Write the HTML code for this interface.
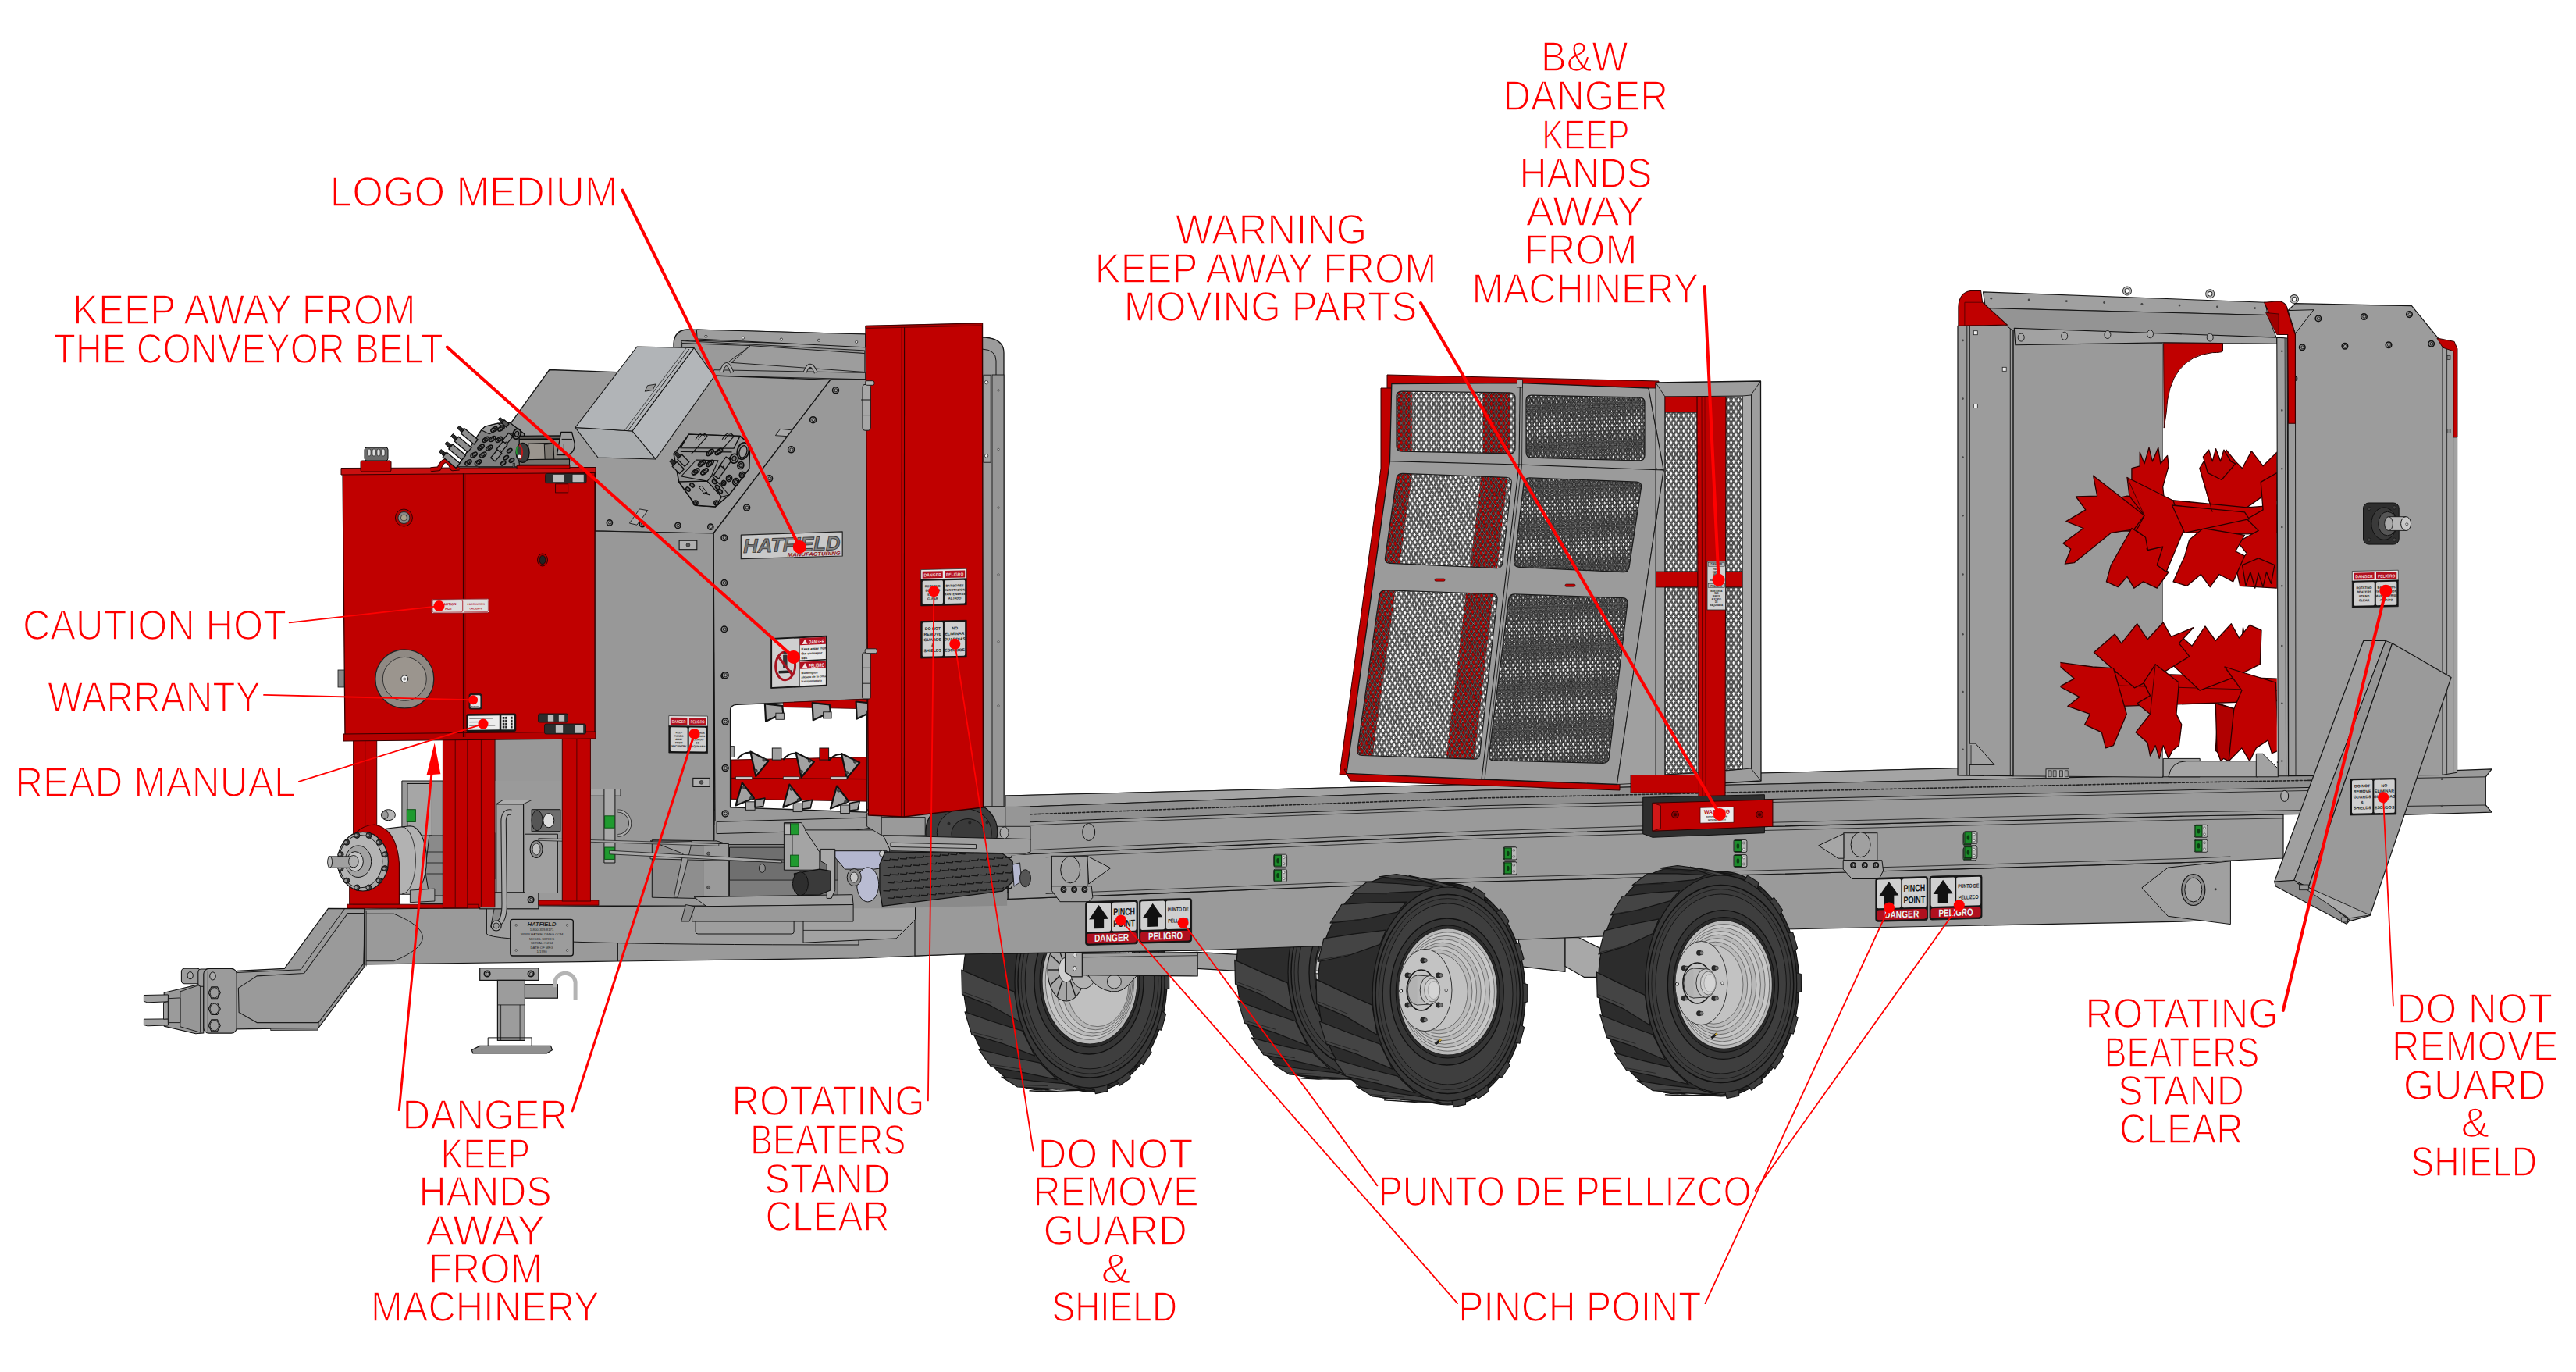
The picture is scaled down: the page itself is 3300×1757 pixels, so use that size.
<!DOCTYPE html>
<html><head><meta charset="utf-8"><title>Decal placement diagram</title>
<style>
html,body{margin:0;padding:0;background:#fff;}
body{width:3300px;height:1757px;overflow:hidden;font-family:"Liberation Sans",sans-serif;}
svg{display:block;font-family:"Liberation Sans",sans-serif;}
</style></head><body>
<svg width="3300" height="1757" viewBox="0 0 3300 1757">
<rect width="3300" height="1757" fill="#ffffff"/>
<g id="chassis_chassis_back"><polygon points="1532.9,1219.4 1655.4,1226.4 1655.4,1247.4 1532.9,1240.4" fill="#9d9d9d" stroke="#141414" stroke-width="1.2" stroke-linejoin="round" />
<polygon points="1655.4,1215.9 1679.9,1215.9 1704.4,1229.9 1704.4,1266.7 1679.9,1266.7 1655.4,1247.4" fill="#a5a5a5" stroke="#141414" stroke-width="1.2" stroke-linejoin="round" />
<polygon points="1945.5,1200.7 2005,1200.7 2005,1244.4 1945.5,1237.4" fill="#a0a0a0" stroke="#141414" stroke-width="1.2" stroke-linejoin="round" />
<polygon points="2005,1200.7 2022.5,1200.7 2054,1216.4 2054,1251.4 2029.5,1251.4 2005,1237.4" fill="#a8a8a8" stroke="#141414" stroke-width="1.2" stroke-linejoin="round" /></g>
<g id="wheels_wheels"><polygon points="1727.16,1108.11 1735.55,1106.53 1744,1106 1752.45,1106.53 1760.84,1108.11 1769.11,1110.74 1777.18,1114.38 1784.99,1119.02 1792.5,1124.62 1799.64,1131.14 1806.35,1138.52 1812.59,1146.71 1818.31,1155.65 1823.46,1165.27 1828,1175.5 1831.91,1186.26 1835.15,1197.46 1837.69,1209.02 1839.53,1220.86 1840.63,1232.89 1841,1245 1840.63,1257.11 1839.53,1269.14 1837.69,1280.98 1835.15,1292.54 1831.91,1303.74 1828,1314.5 1823.46,1324.73 1818.31,1334.35 1812.59,1343.29 1806.35,1351.48 1799.64,1358.86 1792.5,1365.38 1784.99,1370.98 1777.18,1375.62 1769.11,1379.26 1760.84,1381.89 1752.45,1383.47 1744,1384 1735.55,1383.47 1727.16,1381.89 1699.02,1377.87 1690.54,1379.47 1682,1380 1673.46,1379.47 1664.98,1377.87 1656.64,1375.23 1648.48,1371.56 1640.58,1366.88 1633,1361.24 1625.79,1354.68 1619.01,1347.25 1612.7,1338.99 1606.93,1329.99 1601.72,1320.3 1597.13,1310 1593.18,1299.17 1589.91,1287.88 1587.34,1276.23 1585.49,1264.31 1584.37,1252.2 1584,1240 1584.37,1227.8 1585.49,1215.69 1587.34,1203.77 1589.91,1192.12 1593.18,1180.83 1597.13,1170 1601.72,1159.7 1606.93,1150.01 1612.7,1141.01 1619.01,1132.75 1625.79,1125.32 1633,1118.76 1640.58,1113.12 1648.48,1108.44 1656.64,1104.77 1664.98,1102.13 1673.46,1100.53 1682,1100 1690.54,1100.53 1699.02,1102.13" fill="#2c2c2c" stroke="#111" stroke-width="1.2" stroke-linejoin="round" />
<polygon points="1725.15,1368.7 1762.69,1363.17 1804.01,1351.2 1781.22,1371.05 1743.32,1375.63 1704.58,1378.86" fill="#444444" stroke="#141414" stroke-width="1.2" stroke-linejoin="round" />
<polyline points="1722.71,1368.53 1759.52,1361.95" fill="none" stroke="#232323" stroke-width="0.9" stroke-linejoin="round" stroke-linecap="round" />
<polygon points="1688.96,1382.16 1728.35,1380.77 1772.92,1375.5 1746.67,1381.95 1707.14,1382.25 1667.19,1380.94" fill="#444444" stroke="#141414" stroke-width="1.2" stroke-linejoin="round" />
<polyline points="1686.88,1380.83 1726,1378.21" fill="none" stroke="#232323" stroke-width="0.9" stroke-linejoin="round" stroke-linecap="round" />
<polygon points="1651.81,1375.92 1691.89,1379.21 1737.82,1381.71 1711.75,1373.87 1671.76,1369.5 1631.86,1363.5" fill="#444444" stroke="#141414" stroke-width="1.2" stroke-linejoin="round" />
<polyline points="1650.37,1373.61 1690.68,1375.67" fill="none" stroke="#232323" stroke-width="0.9" stroke-linejoin="round" stroke-linecap="round" />
<polygon points="1618.84,1350.84 1658.35,1358.71 1703.57,1368.97 1681.3,1347.93 1642.1,1339.15 1603.48,1328.94" fill="#444444" stroke="#141414" stroke-width="1.2" stroke-linejoin="round" />
<polyline points="1618.25,1347.88 1658.45,1354.67" fill="none" stroke="#232323" stroke-width="0.9" stroke-linejoin="round" stroke-linecap="round" />
<polygon points="1594.62,1310.4 1632.38,1322.1 1674.93,1339.06 1659.54,1307.72 1622.27,1295.41 1585.98,1282.05" fill="#444444" stroke="#141414" stroke-width="1.2" stroke-linejoin="round" />
<polyline points="1594.97,1307.2 1633.78,1318.12" fill="none" stroke="#232323" stroke-width="0.9" stroke-linejoin="round" stroke-linecap="round" />
<polygon points="1582.52,1260.21 1617.59,1274.46 1655.86,1296.11 1649.49,1258.83 1615.01,1244.34 1581.78,1229.34" fill="#444444" stroke="#141414" stroke-width="1.2" stroke-linejoin="round" />
<polyline points="1583.74,1257.2 1620.09,1271.1" fill="none" stroke="#232323" stroke-width="0.9" stroke-linejoin="round" stroke-linecap="round" />
<polygon points="1584.2,1207.21 1619.98,1198.44 1659.39,1182.69 1666.98,1164.8 1628.81,1170.84 1591.48,1178.1" fill="#444444" stroke="#141414" stroke-width="1.2" stroke-linejoin="round" />
<polyline points="1586.13,1204.82 1623.44,1196.79" fill="none" stroke="#232323" stroke-width="0.9" stroke-linejoin="round" stroke-linecap="round" />
<polygon points="1599.43,1158.76 1637.71,1152.89 1681.06,1142.38 1692.65,1129.73 1652.99,1131.82 1613.72,1135.44" fill="#444444" stroke="#141414" stroke-width="1.2" stroke-linejoin="round" />
<polyline points="1601.81,1157.32 1641.24,1152.72" fill="none" stroke="#232323" stroke-width="0.9" stroke-linejoin="round" stroke-linecap="round" />
<polygon points="1626.11,1121.57 1665.87,1119.75 1711.45,1116.29 1725.45,1110.64 1685.49,1108.13 1645.42,1107.28" fill="#444444" stroke="#141414" stroke-width="1.2" stroke-linejoin="round" />
<polyline points="1628.6,1121.27 1668.99,1121.09" fill="none" stroke="#232323" stroke-width="0.9" stroke-linejoin="round" stroke-linecap="round" />
<polygon points="1660.53,1100.79 1700.56,1103.63 1746.35,1108.04 1760.81,1110.16 1721.8,1103.07 1682.19,1097.5" fill="#444444" stroke="#141414" stroke-width="1.2" stroke-linejoin="round" />
<polyline points="1662.79,1101.68 1702.83,1106.29" fill="none" stroke="#232323" stroke-width="0.9" stroke-linejoin="round" stroke-linecap="round" />
<polygon points="1697.93,1099.3 1736.98,1106.75 1780.92,1118.77 1793.85,1128.37 1756.89,1117.32 1718.94,1107.47" fill="#444444" stroke="#141414" stroke-width="1.2" stroke-linejoin="round" />
<polyline points="1699.64,1101.26 1738.08,1110.36" fill="none" stroke="#232323" stroke-width="0.9" stroke-linejoin="round" stroke-linecap="round" />
<polygon points="1772.74,1118.51 1776.8,1110.85 1790.72,1119.45 1789.09,1128.68" fill="#3d3d3d" stroke="#141414" stroke-width="1.1" stroke-linejoin="round" />
<polygon points="1803.78,1143.12 1809.8,1138.07 1820.44,1153.45 1816.27,1161.3" fill="#3d3d3d" stroke="#141414" stroke-width="1.1" stroke-linejoin="round" />
<polygon points="1826.11,1182.56 1833.22,1180.86 1839.03,1200.78 1832.94,1206.11" fill="#3d3d3d" stroke="#141414" stroke-width="1.1" stroke-linejoin="round" />
<polygon points="1836.49,1231.1 1843.64,1232.98 1843.77,1254.54 1836.65,1256.59" fill="#3d3d3d" stroke="#141414" stroke-width="1.1" stroke-linejoin="round" />
<polygon points="1833.4,1281.66 1839.56,1286.86 1833.99,1306.92 1826.86,1305.38" fill="#3d3d3d" stroke="#141414" stroke-width="1.1" stroke-linejoin="round" />
<polygon points="1817.29,1326.88 1821.55,1334.64 1811.1,1350.28 1805.01,1345.38" fill="#3d3d3d" stroke="#141414" stroke-width="1.1" stroke-linejoin="round" />
<polygon points="1793.28,1357.79 1795.29,1366.9 1781.7,1376.52 1777.33,1369.17" fill="#3d3d3d" stroke="#141414" stroke-width="1.1" stroke-linejoin="round" />
<polygon points="1766.5,1374.05 1766.25,1383.44 1751.23,1386.63 1748.87,1377.82" fill="#3d3d3d" stroke="#141414" stroke-width="1.1" stroke-linejoin="round" />
<ellipse cx="1744" cy="1245" rx="94" ry="134" fill="#383838" stroke="#121212" stroke-width="1.2" />
<ellipse cx="1744" cy="1245" rx="90" ry="122" fill="#3b3b3b" stroke="#101010" stroke-width="1.5" />
<ellipse cx="1744" cy="1245" rx="85.95" ry="117.12" fill="none" stroke="#1a1a1a" stroke-width="0.9" />
<ellipse cx="1744" cy="1245" rx="81" ry="111.02" fill="#3e3e3e" stroke="#151515" stroke-width="1" />
<ellipse cx="1746" cy="1246" rx="69" ry="91" fill="#353535" stroke="#101010" stroke-width="1.3" />
<ellipse cx="1747" cy="1246" rx="63" ry="82" fill="#2b2b2b" stroke="#101010" stroke-width="1" />
<ellipse cx="1747" cy="1246" rx="60" ry="78" fill="#b9b9b9" stroke="#222" stroke-width="1.2" />
<ellipse cx="1747" cy="1246" rx="56.4" ry="73.32" fill="#c8c8c8" stroke="#4a4a4a" stroke-width="0.7" />
<ellipse cx="1744.8" cy="1246" rx="53.1" ry="69.03" fill="#bcbcbc" stroke="#4a4a4a" stroke-width="0.7" />
<ellipse cx="1742.6" cy="1246" rx="49.8" ry="64.74" fill="#c6c6c6" stroke="#4a4a4a" stroke-width="0.7" />
<ellipse cx="1740.4" cy="1246" rx="46.5" ry="60.45" fill="#b8b8b8" stroke="#4a4a4a" stroke-width="0.7" />
<ellipse cx="1738.2" cy="1246" rx="43.2" ry="56.16" fill="#c4c4c4" stroke="#4a4a4a" stroke-width="0.7" />
<ellipse cx="1736" cy="1246" rx="39.9" ry="51.87" fill="#bababa" stroke="#4a4a4a" stroke-width="0.7" />
<ellipse cx="1733.8" cy="1246" rx="36.6" ry="47.58" fill="#c2c2c2" stroke="#4a4a4a" stroke-width="0.7" />
<ellipse cx="1718" cy="1244" rx="32.4" ry="50.7" fill="#c3c3c3" stroke="#333" stroke-width="1" />
<circle cx="1715.2" cy="1207.34" r="3.2" fill="#2a2a2a" stroke="#111" stroke-width="0.6" />
<circle cx="1718.2" cy="1207.34" r="2.4" fill="#777" stroke="#1a1a1a" stroke-width="0.7" />
<circle cx="1733.91" cy="1225.67" r="3.2" fill="#2a2a2a" stroke="#111" stroke-width="0.6" />
<circle cx="1736.91" cy="1225.67" r="2.4" fill="#777" stroke="#1a1a1a" stroke-width="0.7" />
<circle cx="1733.91" cy="1262.33" r="3.2" fill="#2a2a2a" stroke="#111" stroke-width="0.6" />
<circle cx="1736.91" cy="1262.33" r="2.4" fill="#777" stroke="#1a1a1a" stroke-width="0.7" />
<circle cx="1715.2" cy="1280.66" r="3.2" fill="#2a2a2a" stroke="#111" stroke-width="0.6" />
<circle cx="1718.2" cy="1280.66" r="2.4" fill="#777" stroke="#1a1a1a" stroke-width="0.7" />
<circle cx="1696.49" cy="1262.33" r="3.2" fill="#2a2a2a" stroke="#111" stroke-width="0.6" />
<circle cx="1699.49" cy="1262.33" r="2.4" fill="#777" stroke="#1a1a1a" stroke-width="0.7" />
<circle cx="1696.49" cy="1225.67" r="3.2" fill="#2a2a2a" stroke="#111" stroke-width="0.6" />
<circle cx="1699.49" cy="1225.67" r="2.4" fill="#777" stroke="#1a1a1a" stroke-width="0.7" />
<ellipse cx="1713" cy="1244" rx="18.5" ry="26" fill="none" stroke="#151515" stroke-width="1.6" />
<ellipse cx="1708" cy="1244" rx="12.5" ry="19" fill="#b2b2b2" stroke="#333" stroke-width="1" />
<rect x="1708" y="1225" width="16" height="38" rx="0" fill="#b8b8b8" stroke="none" stroke-width="0" />
<line x1="1708" y1="1225" x2="1724" y2="1226" stroke="#141414" stroke-width="0.8" />
<line x1="1708" y1="1263" x2="1724" y2="1262" stroke="#141414" stroke-width="0.8" />
<ellipse cx="1724" cy="1244" rx="12.5" ry="18.5" fill="#c4c4c4" stroke="#333" stroke-width="1" />
<ellipse cx="1727" cy="1244" rx="10" ry="15" fill="#cdcdcd" stroke="#555" stroke-width="0.8" />
<ellipse cx="1729" cy="1244" rx="7.5" ry="11.5" fill="#d4d4d4" stroke="#888" stroke-width="0.6" />
<circle cx="1745" cy="1244" r="1.8" fill="#ddd" stroke="#222" stroke-width="0.7" />
<circle cx="1687" cy="1245" r="2" fill="#ddd" stroke="#111" stroke-width="1" />
<line x1="1731" y1="1310.74" x2="1738" y2="1305.28" stroke="#1a1a1a" stroke-width="3.2" />
<line x1="1736" y1="1306.84" x2="1738.5" y2="1304.89" stroke="#c9a227" stroke-width="2" />
<polygon points="1378.81,1116.16 1387.37,1114.54 1396,1114 1404.63,1114.54 1413.19,1116.16 1421.62,1118.84 1429.86,1122.56 1437.84,1127.3 1445.5,1133.02 1452.78,1139.68 1459.64,1147.22 1466,1155.59 1471.84,1164.72 1477.1,1174.55 1481.74,1185 1485.72,1195.99 1489.03,1207.43 1491.63,1219.25 1493.5,1231.34 1494.62,1243.62 1495,1256 1494.62,1268.38 1493.5,1280.66 1491.63,1292.75 1489.03,1304.57 1485.72,1316.01 1481.74,1327 1477.1,1337.45 1471.84,1347.28 1466,1356.41 1459.64,1364.78 1452.78,1372.32 1445.5,1378.98 1437.84,1384.7 1429.86,1389.44 1421.62,1393.16 1413.19,1395.84 1404.63,1397.46 1396,1398 1387.37,1397.46 1378.81,1395.84 1351.36,1393.83 1342.72,1395.46 1334,1396 1325.28,1395.46 1316.64,1393.83 1308.12,1391.13 1299.8,1387.38 1291.74,1382.6 1284,1376.84 1276.64,1370.14 1269.72,1362.54 1263.29,1354.12 1257.4,1344.92 1252.08,1335.02 1247.4,1324.5 1243.37,1313.43 1240.03,1301.91 1237.41,1290.01 1235.52,1277.83 1234.38,1265.46 1234,1253 1234.38,1240.54 1235.52,1228.17 1237.41,1215.99 1240.03,1204.09 1243.37,1192.57 1247.4,1181.5 1252.08,1170.98 1257.4,1161.08 1263.29,1151.88 1269.72,1143.46 1276.64,1135.86 1284,1129.16 1291.74,1123.4 1299.8,1118.62 1308.12,1114.87 1316.64,1112.17 1325.28,1110.54 1334,1110 1342.72,1110.54 1351.36,1112.17" fill="#2c2c2c" stroke="#111" stroke-width="1.2" stroke-linejoin="round" />
<polygon points="1378.01,1384.41 1415.7,1377.75 1457.28,1364.53 1434,1384.81 1395.94,1390.48 1357.03,1394.78" fill="#444444" stroke="#141414" stroke-width="1.2" stroke-linejoin="round" />
<polyline points="1375.53,1384.26 1412.5,1376.56" fill="none" stroke="#232323" stroke-width="0.9" stroke-linejoin="round" stroke-linecap="round" />
<polygon points="1341.1,1398.15 1380.67,1395.73 1425.53,1389.36 1398.73,1395.94 1359.02,1397.24 1318.9,1396.91" fill="#444444" stroke="#141414" stroke-width="1.2" stroke-linejoin="round" />
<polyline points="1338.98,1396.83 1378.28,1393.18" fill="none" stroke="#232323" stroke-width="0.9" stroke-linejoin="round" stroke-linecap="round" />
<polygon points="1303.21,1391.78 1343.46,1394.14 1389.69,1395.7 1363.07,1387.69 1322.92,1384.22 1282.86,1379.1" fill="#444444" stroke="#141414" stroke-width="1.2" stroke-linejoin="round" />
<polyline points="1301.74,1389.45 1342.21,1390.58" fill="none" stroke="#232323" stroke-width="0.9" stroke-linejoin="round" stroke-linecap="round" />
<polygon points="1269.58,1366.17 1309.23,1373.2 1354.72,1382.69 1331.98,1361.18 1292.66,1353.22 1253.91,1343.81" fill="#444444" stroke="#141414" stroke-width="1.2" stroke-linejoin="round" />
<polyline points="1268.96,1363.17 1309.3,1369.12" fill="none" stroke="#232323" stroke-width="0.9" stroke-linejoin="round" stroke-linecap="round" />
<polygon points="1244.88,1324.88 1282.74,1335.8 1325.47,1352.12 1309.76,1320.1 1272.42,1308.54 1236.06,1295.94" fill="#444444" stroke="#141414" stroke-width="1.2" stroke-linejoin="round" />
<polyline points="1245.21,1321.63 1284.12,1331.78" fill="none" stroke="#232323" stroke-width="0.9" stroke-linejoin="round" stroke-linecap="round" />
<polygon points="1232.54,1273.63 1267.64,1287.14 1306,1308.23 1299.5,1270.13 1265.01,1256.37 1231.79,1242.11" fill="#444444" stroke="#141414" stroke-width="1.2" stroke-linejoin="round" />
<polyline points="1233.75,1270.57 1270.14,1283.72" fill="none" stroke="#232323" stroke-width="0.9" stroke-linejoin="round" stroke-linecap="round" />
<polygon points="1234.25,1219.52 1270.08,1209.5 1309.61,1192.33 1317.36,1174.05 1279.09,1181.3 1241.67,1189.8" fill="#444444" stroke="#141414" stroke-width="1.2" stroke-linejoin="round" />
<polyline points="1236.19,1217.07 1273.56,1207.79" fill="none" stroke="#232323" stroke-width="0.9" stroke-linejoin="round" stroke-linecap="round" />
<polygon points="1249.79,1170.05 1288.17,1162.97 1331.74,1151.13 1343.57,1138.21 1303.77,1141.44 1264.36,1146.24" fill="#444444" stroke="#141414" stroke-width="1.2" stroke-linejoin="round" />
<polyline points="1252.19,1168.56 1291.73,1162.75" fill="none" stroke="#232323" stroke-width="0.9" stroke-linejoin="round" stroke-linecap="round" />
<polygon points="1277,1132.08 1316.91,1129.12 1362.76,1124.47 1377.06,1118.7 1336.93,1117.25 1296.69,1117.48" fill="#444444" stroke="#141414" stroke-width="1.2" stroke-linejoin="round" />
<polyline points="1279.52,1131.75 1320.06,1130.43" fill="none" stroke="#232323" stroke-width="0.9" stroke-linejoin="round" stroke-linecap="round" />
<polygon points="1312.1,1110.86 1352.31,1112.66 1398.4,1116.04 1413.17,1118.21 1373.98,1112.08 1334.2,1107.5" fill="#444444" stroke="#141414" stroke-width="1.2" stroke-linejoin="round" />
<polyline points="1314.4,1111.74 1354.61,1115.3" fill="none" stroke="#232323" stroke-width="0.9" stroke-linejoin="round" stroke-linecap="round" />
<polygon points="1350.25,1109.34 1389.47,1115.85 1433.7,1127.01 1446.9,1136.82 1409.78,1126.64 1371.67,1117.68" fill="#444444" stroke="#141414" stroke-width="1.2" stroke-linejoin="round" />
<polyline points="1352,1111.31 1390.61,1119.47" fill="none" stroke="#232323" stroke-width="0.9" stroke-linejoin="round" stroke-linecap="round" />
<polygon points="1425.36,1126.66 1429.45,1119.02 1443.66,1127.8 1442.06,1137.05" fill="#3d3d3d" stroke="#141414" stroke-width="1.1" stroke-linejoin="round" />
<polygon points="1457.06,1151.82 1463.11,1146.81 1473.97,1162.51 1469.83,1170.41" fill="#3d3d3d" stroke="#141414" stroke-width="1.1" stroke-linejoin="round" />
<polygon points="1479.88,1192.15 1487,1190.5 1492.93,1210.84 1486.85,1216.24" fill="#3d3d3d" stroke="#141414" stroke-width="1.1" stroke-linejoin="round" />
<polygon points="1490.48,1241.78 1497.63,1243.73 1497.77,1265.75 1490.64,1267.85" fill="#3d3d3d" stroke="#141414" stroke-width="1.1" stroke-linejoin="round" />
<polygon points="1487.32,1293.49 1493.47,1298.75 1487.79,1319.23 1480.65,1317.74" fill="#3d3d3d" stroke="#141414" stroke-width="1.1" stroke-linejoin="round" />
<polygon points="1470.86,1339.73 1475.11,1347.54 1464.44,1363.51 1458.33,1358.64" fill="#3d3d3d" stroke="#141414" stroke-width="1.1" stroke-linejoin="round" />
<polygon points="1446.34,1371.33 1448.31,1380.48 1434.45,1390.3 1430.04,1382.97" fill="#3d3d3d" stroke="#141414" stroke-width="1.1" stroke-linejoin="round" />
<polygon points="1418.98,1387.96 1418.69,1397.37 1403.37,1400.62 1400.97,1391.81" fill="#3d3d3d" stroke="#141414" stroke-width="1.1" stroke-linejoin="round" />
<ellipse cx="1396" cy="1256" rx="96" ry="137" fill="#383838" stroke="#121212" stroke-width="1.2" />
<ellipse cx="1396" cy="1256" rx="92" ry="124" fill="#3b3b3b" stroke="#101010" stroke-width="1.5" />
<ellipse cx="1396" cy="1256" rx="87.86" ry="119.04" fill="none" stroke="#1a1a1a" stroke-width="0.9" />
<ellipse cx="1396" cy="1256" rx="82.8" ry="112.84" fill="#3e3e3e" stroke="#151515" stroke-width="1" />
<ellipse cx="1395" cy="1256" rx="70" ry="94" fill="#353535" stroke="#101010" stroke-width="1.3" />
<ellipse cx="1396" cy="1256" rx="64" ry="85" fill="#2b2b2b" stroke="#101010" stroke-width="1" />
<ellipse cx="1396" cy="1256" rx="61" ry="81" fill="#b9b9b9" stroke="#222" stroke-width="1.2" />
<ellipse cx="1396" cy="1256" rx="56.73" ry="75.33" fill="#c6c6c6" stroke="#4a4a4a" stroke-width="0.7" />
<ellipse cx="1398.5" cy="1257.5" rx="52.46" ry="69.66" fill="#bababa" stroke="#4a4a4a" stroke-width="0.7" />
<ellipse cx="1401" cy="1259" rx="48.19" ry="63.99" fill="#c4c4c4" stroke="#4a4a4a" stroke-width="0.7" />
<ellipse cx="1403.5" cy="1260.5" rx="43.92" ry="58.32" fill="#b6b6b6" stroke="#4a4a4a" stroke-width="0.7" />
<ellipse cx="1406" cy="1262" rx="39.65" ry="52.65" fill="#c0c0c0" stroke="#4a4a4a" stroke-width="0.7" />
<ellipse cx="1366" cy="1242" rx="24" ry="40" fill="#a6a6a6" stroke="#1a1a1a" stroke-width="1.1" />
<line x1="1375" y1="1242" x2="1389" y2="1242" stroke="#1a1a1a" stroke-width="1.4" />
<line x1="1373.79" y1="1249" x2="1385.92" y2="1261" stroke="#1a1a1a" stroke-width="1.4" />
<line x1="1370.5" y1="1254.12" x2="1377.5" y2="1274.91" stroke="#1a1a1a" stroke-width="1.4" />
<line x1="1366" y1="1256" x2="1366" y2="1280" stroke="#1a1a1a" stroke-width="1.4" />
<line x1="1361.5" y1="1254.12" x2="1354.5" y2="1274.91" stroke="#1a1a1a" stroke-width="1.4" />
<line x1="1358.21" y1="1249" x2="1346.08" y2="1261" stroke="#1a1a1a" stroke-width="1.4" />
<line x1="1357" y1="1242" x2="1343" y2="1242" stroke="#1a1a1a" stroke-width="1.4" />
<line x1="1358.21" y1="1235" x2="1346.08" y2="1223" stroke="#1a1a1a" stroke-width="1.4" />
<line x1="1361.5" y1="1229.88" x2="1354.5" y2="1209.09" stroke="#1a1a1a" stroke-width="1.4" />
<line x1="1366" y1="1228" x2="1366" y2="1204" stroke="#1a1a1a" stroke-width="1.4" />
<line x1="1370.5" y1="1229.88" x2="1377.5" y2="1209.09" stroke="#1a1a1a" stroke-width="1.4" />
<line x1="1373.79" y1="1235" x2="1385.92" y2="1223" stroke="#1a1a1a" stroke-width="1.4" />
<ellipse cx="1366" cy="1242" rx="10" ry="16" fill="#d0d0d0" stroke="#1a1a1a" stroke-width="1" />
<ellipse cx="1388" cy="1246" rx="16" ry="20" fill="#b2b2b2" stroke="#222" stroke-width="1" />
<ellipse cx="1406" cy="1240" rx="20" ry="13" fill="#b8b8b8" stroke="#333" stroke-width="0.9" /></g>
<g id="chassis_chassis"><path d="M1392.5,1246.5 L1458.9,1246.5 L1444.9,1262.2 Q1432.7,1274.5 1415.2,1267.5 Q1401.2,1262.2 1392.5,1246.5 Z" fill="#a8a8a8" stroke="#141414" stroke-width="1" stroke-linejoin="round" />
<ellipse cx="1427.4" cy="1257" rx="9" ry="9" fill="#b4b4b4" stroke="#141414" stroke-width="0.9" />
<polygon points="1386.3,1221.1 1534.2,1219.4 1534.2,1250 1386.3,1248.6" fill="#9e9e9e" stroke="#141414" stroke-width="1.1" stroke-linejoin="round" />
<line x1="1386.3" y1="1225.8" x2="1534.2" y2="1223.7" stroke="#141414" stroke-width="0.8" />
<polygon points="1364.5,1219.4 1386.3,1219.4 1386.3,1250.9 1373.2,1250.9 1364.5,1244.7" fill="#a6a6a6" stroke="#141414" stroke-width="1.1" stroke-linejoin="round" />
<ellipse cx="1376.7" cy="1222.9" rx="2.2" ry="3" fill="#ddd" stroke="#141414" stroke-width="0.8" />
<ellipse cx="1376.7" cy="1240.4" rx="2.2" ry="3" fill="#ddd" stroke="#141414" stroke-width="0.8" />
<polygon points="420.5,1163.3 466.9,1163.6 466.2,1238.8 407.9,1316.3 303.2,1317.8 303.2,1243.3 364.4,1240.3" fill="#9a9a9a" stroke="#141414" stroke-width="1.2" stroke-linejoin="round" />
<polyline points="441.1,1164.3 385,1241.8 303.2,1245.5" fill="none" stroke="#1c1c1c" stroke-width="1" stroke-linejoin="round" stroke-linecap="round" />
<polyline points="445.5,1169.5 389.5,1246.5 329,1249.9 305.4,1265.4 306.1,1296.4 329,1309.6 407.9,1309.6 465.4,1234.4" fill="none" stroke="#1c1c1c" stroke-width="1.1" stroke-linejoin="round" stroke-linecap="round" />
<line x1="445.5" y1="1169.5" x2="466.2" y2="1169.5" stroke="#1c1c1c" stroke-width="1" />
<polyline points="407.9,1309.6 407.9,1316.3" fill="none" stroke="#1c1c1c" stroke-width="0.9" stroke-linejoin="round" stroke-linecap="round" />
<polygon points="346.7,1317 407.2,1316.6 407.2,1319.2 346.7,1319.5" fill="#8c8c8c" stroke="#141414" stroke-width="0.8" stroke-linejoin="round" />
<polygon points="210.2,1271.3 256.7,1260.2 260.8,1262.4 260.8,1322.9 250.8,1323.7 210.2,1314.1" fill="#9a9a9a" stroke="#141414" stroke-width="1.1" stroke-linejoin="round" />
<polygon points="230.9,1269.8 256.7,1261 256.7,1322.2 230.9,1314.8" fill="#979797" stroke="#141414" stroke-width="0.9" stroke-linejoin="round" />
<polygon points="184.4,1274.5 215.4,1273.9 215.4,1282.8 188.9,1283.8 184.4,1282.4" fill="#a2a2a2" stroke="#141414" stroke-width="1" stroke-linejoin="round" />
<polygon points="184.4,1305.2 215.4,1304.9 215.4,1312.9 188.9,1313.8 184.4,1312.6" fill="#a2a2a2" stroke="#141414" stroke-width="1" stroke-linejoin="round" />
<polygon points="209.5,1283.8 215.4,1282.8 215.4,1304.9 209.5,1305.2" fill="#9e9e9e" stroke="#141414" stroke-width="0.9" stroke-linejoin="round" />
<polygon points="215.4,1278.7 230.9,1277.9 230.9,1309.6 215.4,1309.6" fill="#9b9b9b" stroke="#141414" stroke-width="0.9" stroke-linejoin="round" />
<rect x="232.4" y="1240.3" width="24.3" height="19.5" rx="4" fill="#9d9d9d" stroke="#141414" stroke-width="1.1" />
<ellipse cx="243.7" cy="1249.2" rx="3.6" ry="4.6" fill="#a8a8a8" stroke="#141414" stroke-width="1" />
<rect x="253.8" y="1241" width="16.2" height="22.2" rx="4" fill="#9d9d9d" stroke="#141414" stroke-width="1.1" />
<rect x="260.8" y="1240.3" width="42.4" height="82.9" rx="7" fill="#9b9b9b" stroke="#141414" stroke-width="1.2" />
<line x1="266.3" y1="1243.3" x2="266.3" y2="1320.7" stroke="#141414" stroke-width="0.9" />
<ellipse cx="272.5" cy="1249.9" rx="3.8" ry="5" fill="#a8a8a8" stroke="#141414" stroke-width="1" />
<polygon points="282.3,1271.3 278.5,1278.75 270.9,1278.75 267.1,1271.3 270.9,1263.85 278.5,1263.85" fill="#969696" stroke="#141414" stroke-width="1.1" stroke-linejoin="round" />
<ellipse cx="274.7" cy="1271.3" rx="5.6" ry="6.6" fill="#9c9c9c" stroke="#141414" stroke-width="0.9" />
<polygon points="282.3,1291.9 278.5,1299.35 270.9,1299.35 267.1,1291.9 270.9,1284.45 278.5,1284.45" fill="#969696" stroke="#141414" stroke-width="1.1" stroke-linejoin="round" />
<ellipse cx="274.7" cy="1291.9" rx="5.6" ry="6.6" fill="#9c9c9c" stroke="#141414" stroke-width="0.9" />
<polygon points="282.3,1313.3 278.5,1320.75 270.9,1320.75 267.1,1313.3 270.9,1305.85 278.5,1305.85" fill="#969696" stroke="#141414" stroke-width="1.1" stroke-linejoin="round" />
<ellipse cx="274.7" cy="1313.3" rx="5.6" ry="6.6" fill="#9c9c9c" stroke="#141414" stroke-width="0.9" />
<polygon points="467,1164 1100,1158 1230,1156 1540,1150 1540,1216.8 1533,1217 1227,1222 1100,1227 791,1231 467,1235" fill="#9a9a9a" stroke="#141414" stroke-width="1.2" stroke-linejoin="round" />
<polygon points="1172,1156 1715,1135 1900,1129 2365,1117 2800,1104.5 2857,1102 2857,1177.1 2800,1180 2285,1190 1950,1203 1533,1217 1227,1222 1172,1224.2" fill="#9a9a9a" stroke="#141414" stroke-width="1.2" stroke-linejoin="round" />
<path d="M469.1,1170.2 L504.5,1170.2 Q578.3,1200.5 504.5,1230.7 L469.1,1230.7" fill="none" stroke="#1c1c1c" stroke-width="1" stroke-linejoin="round" />
<line x1="469.1" y1="1165.8" x2="469.1" y2="1237.4" stroke="#1c1c1c" stroke-width="0.9" />
<line x1="467.7" y1="1164.5" x2="465.9" y2="1235.1" stroke="#141414" stroke-width="1" />
<line x1="791.4" y1="1161.7" x2="791.4" y2="1230.9" stroke="#141414" stroke-width="1" />
<path d="M623.4,1161.7 L1100,1158.2 L1100,1210 Q630.4,1210 623.4,1196 L623.4,1161.7 Z" fill="#9e9e9e" stroke="#141414" stroke-width="1" stroke-linejoin="round" />
<rect x="891.1" y="1161.7" width="126" height="34.3" rx="3" fill="none" stroke="#141414" stroke-width="1" />
<polygon points="633.9,1159.2 643.7,1162.7 636.7,1190.7 628.7,1187.2" fill="#8a8a8a" stroke="#141414" stroke-width="0.9" stroke-linejoin="round" />
<polygon points="1029,1156.5 1172.5,1156.5 1172.5,1177.4 1148,1201.9 1029,1207.2" fill="#a2a2a2" stroke="#141414" stroke-width="1" stroke-linejoin="round" />
<line x1="1029" y1="1191.4" x2="1155" y2="1191.4" stroke="#141414" stroke-width="0.8" />
<rect x="653.8" y="1177.4" width="80.5" height="46.6" rx="3" fill="#9c9c9c" stroke="#141414" stroke-width="1.4" />
<text x="694.05" y="1185.9" font-size="7.5" fill="#222" text-anchor="middle" font-weight="bold" font-style="italic">HATFIELD</text>
<text x="694.05" y="1192.4" font-size="4.3" fill="#222" text-anchor="middle" font-weight="normal" >1-800-359-8171</text>
<text x="694.05" y="1198" font-size="4.3" fill="#222" text-anchor="middle" font-weight="normal" >WWW.HATFIELDMFG.COM</text>
<text x="694.05" y="1203.6" font-size="4.3" fill="#222" text-anchor="middle" font-weight="normal" >MODEL SERIES</text>
<text x="694.05" y="1209.2" font-size="4.3" fill="#222" text-anchor="middle" font-weight="normal" >SERIAL #1234</text>
<text x="694.05" y="1214.8" font-size="4.3" fill="#222" text-anchor="middle" font-weight="normal" >DATE OF MFG</text>
<text x="694.05" y="1220.4" font-size="4.3" fill="#222" text-anchor="middle" font-weight="normal" >1/1990</text>
<circle cx="661.2" cy="1184.8" r="1.3" fill="#ccc" stroke="#141414" stroke-width="0.6" />
<circle cx="726.6" cy="1184.8" r="1.3" fill="#ccc" stroke="#141414" stroke-width="0.6" />
<circle cx="661.2" cy="1217" r="1.3" fill="#ccc" stroke="#141414" stroke-width="0.6" />
<circle cx="726.6" cy="1217" r="1.3" fill="#ccc" stroke="#141414" stroke-width="0.6" />
<rect x="614.7" y="1239.7" width="75.2" height="15.7" rx="0" fill="#9e9e9e" stroke="#141414" stroke-width="1.2" />
<circle cx="624.1" cy="1247" r="3.8" fill="#8a8a8a" stroke="#111" stroke-width="1.5" /><circle cx="624.5" cy="1247" r="1.9" fill="#a5a5a5" stroke="#1a1a1a" stroke-width="0.9" />
<circle cx="680.1" cy="1247" r="3.8" fill="#8a8a8a" stroke="#111" stroke-width="1.5" /><circle cx="680.5" cy="1247" r="1.9" fill="#a5a5a5" stroke="#1a1a1a" stroke-width="0.9" />
<rect x="672.4" y="1260.7" width="42" height="17.5" rx="0" fill="#9a9a9a" stroke="#141414" stroke-width="1.2" />
<rect x="637.4" y="1255.4" width="35" height="77" rx="0" fill="#9c9c9c" stroke="#141414" stroke-width="1.2" />
<line x1="641.6" y1="1286.9" x2="641.6" y2="1332.4" stroke="#141414" stroke-width="0.8" />
<line x1="666.1" y1="1286.9" x2="666.1" y2="1332.4" stroke="#141414" stroke-width="0.8" />
<line x1="637.4" y1="1286.9" x2="672.4" y2="1286.9" stroke="#141414" stroke-width="0.8" />
<polygon points="625.2,1328.9 681.1,1328.9 681.1,1340.1 625.2,1340.1" fill="none" stroke="#141414" stroke-width="1" stroke-linejoin="round" />
<polygon points="614.7,1339.4 705.6,1339.4 707.4,1344.7 700.4,1348.9 605.9,1348.9 604.2,1344.7" fill="#8f8f8f" stroke="#141414" stroke-width="1.2" stroke-linejoin="round" />
<path d="M710.9,1264.2 L710.9,1257.2 A13.3,13.3 0 0 1 737.1,1257.2 L737.1,1279.9" fill="none" stroke="#b4b4b4" stroke-width="5" stroke-linejoin="round" />
<polygon points="1292,1094.9 1400,1090 1900,1069 2200,1060 2800,1045 2925,1042.9 2925,1099 2857,1102 2800,1104.5 2365,1117 1900,1129 1715,1135 1292,1151.4" fill="#9b9b9b" stroke="#141414" stroke-width="1.2" stroke-linejoin="round" />
<polyline points="1340,1144.5 1715,1130 1900,1124 2365,1112 2800,1099.5 2857,1097" fill="none" stroke="#141414" stroke-width="0.8" stroke-linejoin="round" stroke-linecap="round" />
<polyline points="1340,1097.7 1400,1095 1900,1074 2200,1065 2800,1050 2925,1047.9" fill="none" stroke="#141414" stroke-width="0.8" stroke-linejoin="round" stroke-linecap="round" />
<polygon points="1288,1019 1950,1003 2257,990 2621,981 2979,975.2 2979,1042 2800,1045 2200,1060 1900,1069 1400,1090 1290,1095 1288,1095.1" fill="#9a9a9a" stroke="#141414" stroke-width="1.2" stroke-linejoin="round" />
<polygon points="1288,1019 1950,1003 2257,990 2621,981 2979,975.2 2979,990 2800,992.5 1900,1012 1288,1034" fill="#a4a4a4" stroke="#141414" stroke-width="1" stroke-linejoin="round" />
<polygon points="1288,1034 1900,1012 2800,992.5 2979,990 2979,1008 2800,1011.7 1900,1031.7 1400,1049.7 1288,1054" fill="#8f8f8f" stroke="#141414" stroke-width="1" stroke-linejoin="round" />
<polyline points="1288,1044 1900,1021.9 2800,1002.1 2979,999" fill="none" stroke="#222" stroke-width="1.6" stroke-linejoin="round" stroke-linecap="round" stroke-dasharray="3 2.2"/>
<polyline points="1288,1058 1400,1053.7 1900,1035.7 2800,1015.7 2979,1012" fill="none" stroke="#141414" stroke-width="0.8" stroke-linejoin="round" stroke-linecap="round" />
<polyline points="1288,1090.1 1290,1090 1400,1085 1900,1064 2200,1055 2800,1040 2979,1037" fill="none" stroke="#141414" stroke-width="0.8" stroke-linejoin="round" stroke-linecap="round" />
<ellipse cx="1394.7" cy="1065.5" rx="8" ry="11" fill="#9d9d9d" stroke="#141414" stroke-width="1" />
<ellipse cx="1286.2" cy="1067.2" rx="7" ry="10" fill="#9d9d9d" stroke="#141414" stroke-width="1" />
<ellipse cx="2926.7" cy="1019.4" rx="5" ry="7" fill="#aaa" stroke="#141414" stroke-width="1" />
<polygon points="2743.9,1136.8 2777.3,1111.1 2857.4,1102.8 2857.4,1183.6 2777.3,1173.3" fill="#a0a0a0" stroke="#141414" stroke-width="1" stroke-linejoin="round" />
<ellipse cx="2809.8" cy="1139.5" rx="15" ry="20" fill="#8c8c8c" stroke="#141414" stroke-width="1.2" />
<ellipse cx="2809.8" cy="1139.5" rx="11" ry="15.5" fill="#a4a4a4" stroke="#141414" stroke-width="1" />
<circle cx="2838.2" cy="1138.7" r="1.5" fill="#333" stroke="#141414" stroke-width="0" />
<rect x="1347.4" y="1096.3" width="45.5" height="40.9" rx="0" fill="#a0a0a0" stroke="#141414" stroke-width="1" />
<polygon points="1392.9,1096.3 1422.7,1111.7 1394.7,1132" fill="#a6a6a6" stroke="#141414" stroke-width="1" stroke-linejoin="round" />
<ellipse cx="1371.2" cy="1113.8" rx="12.5" ry="17" fill="#a0a0a0" stroke="#141414" stroke-width="1" />
<polygon points="1347.4,1134.8 1398.2,1134.8 1399.9,1149.5 1394.7,1154.7 1357.9,1154.7 1347.4,1140.7" fill="#a0a0a0" stroke="#141414" stroke-width="1" stroke-linejoin="round" />
<circle cx="1362.5" cy="1139" r="3.2" fill="#8a8a8a" stroke="#111" stroke-width="1.5" /><circle cx="1362.9" cy="1139" r="1.6" fill="#a5a5a5" stroke="#1a1a1a" stroke-width="0.9" />
<circle cx="1376.1" cy="1139" r="3.2" fill="#8a8a8a" stroke="#111" stroke-width="1.5" /><circle cx="1376.5" cy="1139" r="1.6" fill="#a5a5a5" stroke="#1a1a1a" stroke-width="0.9" />
<circle cx="1389.4" cy="1139" r="3.2" fill="#8a8a8a" stroke="#111" stroke-width="1.5" /><circle cx="1389.8" cy="1139" r="1.6" fill="#a5a5a5" stroke="#1a1a1a" stroke-width="0.9" />
<rect x="2361.9" y="1066.7" width="43" height="35" rx="0" fill="#a0a0a0" stroke="#141414" stroke-width="1" />
<polygon points="2361.9,1067.7 2329.7,1082.8 2354.9,1099.2 2361.9,1099.2" fill="#a6a6a6" stroke="#141414" stroke-width="1" stroke-linejoin="round" />
<ellipse cx="2383.6" cy="1081.7" rx="12.5" ry="16" fill="#a0a0a0" stroke="#141414" stroke-width="1" />
<polygon points="2361.2,1101.7 2410.9,1101.7 2412.6,1115 2407.4,1125.5 2372.4,1125.5 2361.2,1113.2" fill="#a0a0a0" stroke="#141414" stroke-width="1" stroke-linejoin="round" />
<circle cx="2374.1" cy="1108" r="3.2" fill="#8a8a8a" stroke="#111" stroke-width="1.5" /><circle cx="2374.5" cy="1108" r="1.6" fill="#a5a5a5" stroke="#1a1a1a" stroke-width="0.9" />
<circle cx="2388.8" cy="1108" r="3.2" fill="#8a8a8a" stroke="#111" stroke-width="1.5" /><circle cx="2389.2" cy="1108" r="1.6" fill="#a5a5a5" stroke="#1a1a1a" stroke-width="0.9" />
<circle cx="2403.2" cy="1108" r="3.2" fill="#8a8a8a" stroke="#111" stroke-width="1.5" /><circle cx="2403.6" cy="1108" r="1.6" fill="#a5a5a5" stroke="#1a1a1a" stroke-width="0.9" />
<rect x="1631.6" y="1094.2" width="17" height="16" rx="2" fill="#b8b8b8" stroke="#141414" stroke-width="0.8" /><rect x="1632.6" y="1095.2" width="9" height="14" rx="0" fill="#1c8c2b" stroke="#062d0b" stroke-width="1" /><ellipse cx="1637.1" cy="1102.2" rx="1.8" ry="3.2" fill="#0c3d12" stroke="none" stroke-width="0" /><circle cx="1644.6" cy="1098.2" r="1.4" fill="#eee" stroke="#141414" stroke-width="0.5" /><circle cx="1644.6" cy="1106.2" r="1.4" fill="#eee" stroke="#141414" stroke-width="0.5" /><rect x="1631.6" y="1113.2" width="17" height="16" rx="2" fill="#b8b8b8" stroke="#141414" stroke-width="0.8" /><rect x="1632.6" y="1114.2" width="9" height="14" rx="0" fill="#1c8c2b" stroke="#062d0b" stroke-width="1" /><ellipse cx="1637.1" cy="1121.2" rx="1.8" ry="3.2" fill="#0c3d12" stroke="none" stroke-width="0" /><circle cx="1644.6" cy="1117.2" r="1.4" fill="#eee" stroke="#141414" stroke-width="0.5" /><circle cx="1644.6" cy="1125.2" r="1.4" fill="#eee" stroke="#141414" stroke-width="0.5" />
<rect x="1925.6" y="1084.8" width="17" height="16" rx="2" fill="#b8b8b8" stroke="#141414" stroke-width="0.8" /><rect x="1926.6" y="1085.8" width="9" height="14" rx="0" fill="#1c8c2b" stroke="#062d0b" stroke-width="1" /><ellipse cx="1931.1" cy="1092.8" rx="1.8" ry="3.2" fill="#0c3d12" stroke="none" stroke-width="0" /><circle cx="1938.6" cy="1088.8" r="1.4" fill="#eee" stroke="#141414" stroke-width="0.5" /><circle cx="1938.6" cy="1096.8" r="1.4" fill="#eee" stroke="#141414" stroke-width="0.5" /><rect x="1925.6" y="1103.8" width="17" height="16" rx="2" fill="#b8b8b8" stroke="#141414" stroke-width="0.8" /><rect x="1926.6" y="1104.8" width="9" height="14" rx="0" fill="#1c8c2b" stroke="#062d0b" stroke-width="1" /><ellipse cx="1931.1" cy="1111.8" rx="1.8" ry="3.2" fill="#0c3d12" stroke="none" stroke-width="0" /><circle cx="1938.6" cy="1107.8" r="1.4" fill="#eee" stroke="#141414" stroke-width="0.5" /><circle cx="1938.6" cy="1115.8" r="1.4" fill="#eee" stroke="#141414" stroke-width="0.5" />
<rect x="1926.3" y="1084.9" width="17" height="16" rx="2" fill="#b8b8b8" stroke="#141414" stroke-width="0.8" /><rect x="1927.3" y="1085.9" width="9" height="14" rx="0" fill="#1c8c2b" stroke="#062d0b" stroke-width="1" /><ellipse cx="1931.8" cy="1092.9" rx="1.8" ry="3.2" fill="#0c3d12" stroke="none" stroke-width="0" /><circle cx="1939.3" cy="1088.9" r="1.4" fill="#eee" stroke="#141414" stroke-width="0.5" /><circle cx="1939.3" cy="1096.9" r="1.4" fill="#eee" stroke="#141414" stroke-width="0.5" /><rect x="1926.3" y="1103.9" width="17" height="16" rx="2" fill="#b8b8b8" stroke="#141414" stroke-width="0.8" /><rect x="1927.3" y="1104.9" width="9" height="14" rx="0" fill="#1c8c2b" stroke="#062d0b" stroke-width="1" /><ellipse cx="1931.8" cy="1111.9" rx="1.8" ry="3.2" fill="#0c3d12" stroke="none" stroke-width="0" /><circle cx="1939.3" cy="1107.9" r="1.4" fill="#eee" stroke="#141414" stroke-width="0.5" /><circle cx="1939.3" cy="1115.9" r="1.4" fill="#eee" stroke="#141414" stroke-width="0.5" />
<rect x="2220.9" y="1075.5" width="17" height="16" rx="2" fill="#b8b8b8" stroke="#141414" stroke-width="0.8" /><rect x="2221.9" y="1076.5" width="9" height="14" rx="0" fill="#1c8c2b" stroke="#062d0b" stroke-width="1" /><ellipse cx="2226.4" cy="1083.5" rx="1.8" ry="3.2" fill="#0c3d12" stroke="none" stroke-width="0" /><circle cx="2233.9" cy="1079.5" r="1.4" fill="#eee" stroke="#141414" stroke-width="0.5" /><circle cx="2233.9" cy="1087.5" r="1.4" fill="#eee" stroke="#141414" stroke-width="0.5" /><rect x="2220.9" y="1094.5" width="17" height="16" rx="2" fill="#b8b8b8" stroke="#141414" stroke-width="0.8" /><rect x="2221.9" y="1095.5" width="9" height="14" rx="0" fill="#1c8c2b" stroke="#062d0b" stroke-width="1" /><ellipse cx="2226.4" cy="1102.5" rx="1.8" ry="3.2" fill="#0c3d12" stroke="none" stroke-width="0" /><circle cx="2233.9" cy="1098.5" r="1.4" fill="#eee" stroke="#141414" stroke-width="0.5" /><circle cx="2233.9" cy="1106.5" r="1.4" fill="#eee" stroke="#141414" stroke-width="0.5" />
<rect x="2514.9" y="1066.7" width="17" height="16" rx="2" fill="#b8b8b8" stroke="#141414" stroke-width="0.8" /><rect x="2515.9" y="1067.7" width="9" height="14" rx="0" fill="#1c8c2b" stroke="#062d0b" stroke-width="1" /><ellipse cx="2520.4" cy="1074.7" rx="1.8" ry="3.2" fill="#0c3d12" stroke="none" stroke-width="0" /><circle cx="2527.9" cy="1070.7" r="1.4" fill="#eee" stroke="#141414" stroke-width="0.5" /><circle cx="2527.9" cy="1078.7" r="1.4" fill="#eee" stroke="#141414" stroke-width="0.5" /><rect x="2514.9" y="1085.7" width="17" height="16" rx="2" fill="#b8b8b8" stroke="#141414" stroke-width="0.8" /><rect x="2515.9" y="1086.7" width="9" height="14" rx="0" fill="#1c8c2b" stroke="#062d0b" stroke-width="1" /><ellipse cx="2520.4" cy="1093.7" rx="1.8" ry="3.2" fill="#0c3d12" stroke="none" stroke-width="0" /><circle cx="2527.9" cy="1089.7" r="1.4" fill="#eee" stroke="#141414" stroke-width="0.5" /><circle cx="2527.9" cy="1097.7" r="1.4" fill="#eee" stroke="#141414" stroke-width="0.5" />
<rect x="2515.9" y="1064.6" width="17" height="16" rx="2" fill="#b8b8b8" stroke="#141414" stroke-width="0.8" /><rect x="2516.9" y="1065.6" width="9" height="14" rx="0" fill="#1c8c2b" stroke="#062d0b" stroke-width="1" /><ellipse cx="2521.4" cy="1072.6" rx="1.8" ry="3.2" fill="#0c3d12" stroke="none" stroke-width="0" /><circle cx="2528.9" cy="1068.6" r="1.4" fill="#eee" stroke="#141414" stroke-width="0.5" /><circle cx="2528.9" cy="1076.6" r="1.4" fill="#eee" stroke="#141414" stroke-width="0.5" /><rect x="2515.9" y="1083.6" width="17" height="16" rx="2" fill="#b8b8b8" stroke="#141414" stroke-width="0.8" /><rect x="2516.9" y="1084.6" width="9" height="14" rx="0" fill="#1c8c2b" stroke="#062d0b" stroke-width="1" /><ellipse cx="2521.4" cy="1091.6" rx="1.8" ry="3.2" fill="#0c3d12" stroke="none" stroke-width="0" /><circle cx="2528.9" cy="1087.6" r="1.4" fill="#eee" stroke="#141414" stroke-width="0.5" /><circle cx="2528.9" cy="1095.6" r="1.4" fill="#eee" stroke="#141414" stroke-width="0.5" />
<rect x="2811" y="1056.3" width="17" height="16" rx="2" fill="#b8b8b8" stroke="#141414" stroke-width="0.8" /><rect x="2812" y="1057.3" width="9" height="14" rx="0" fill="#1c8c2b" stroke="#062d0b" stroke-width="1" /><ellipse cx="2816.5" cy="1064.3" rx="1.8" ry="3.2" fill="#0c3d12" stroke="none" stroke-width="0" /><circle cx="2824" cy="1060.3" r="1.4" fill="#eee" stroke="#141414" stroke-width="0.5" /><circle cx="2824" cy="1068.3" r="1.4" fill="#eee" stroke="#141414" stroke-width="0.5" /><rect x="2811" y="1075.3" width="17" height="16" rx="2" fill="#b8b8b8" stroke="#141414" stroke-width="0.8" /><rect x="2812" y="1076.3" width="9" height="14" rx="0" fill="#1c8c2b" stroke="#062d0b" stroke-width="1" /><ellipse cx="2816.5" cy="1083.3" rx="1.8" ry="3.2" fill="#0c3d12" stroke="none" stroke-width="0" /><circle cx="2824" cy="1079.3" r="1.4" fill="#eee" stroke="#141414" stroke-width="0.5" /><circle cx="2824" cy="1087.3" r="1.4" fill="#eee" stroke="#141414" stroke-width="0.5" /></g>
<g id="wheels_wheels_front"><polygon points="1837.42,1133.16 1846.03,1131.54 1854.7,1131 1863.37,1131.54 1871.98,1133.16 1880.45,1135.84 1888.73,1139.56 1896.75,1144.3 1904.45,1150.02 1911.77,1156.68 1918.66,1164.22 1925.06,1172.59 1930.92,1181.72 1936.21,1191.55 1940.87,1202 1944.88,1212.99 1948.2,1224.43 1950.81,1236.25 1952.69,1248.34 1953.82,1260.62 1954.2,1273 1953.82,1285.38 1952.69,1297.66 1950.81,1309.75 1948.2,1321.57 1944.88,1333.01 1940.87,1344 1936.21,1354.45 1930.92,1364.28 1925.06,1373.41 1918.66,1381.78 1911.77,1389.32 1904.45,1395.98 1896.75,1401.7 1888.73,1406.44 1880.45,1410.16 1871.98,1412.84 1863.37,1414.46 1854.7,1415 1846.03,1414.46 1837.42,1412.84 1806.15,1405.83 1797.46,1407.46 1788.7,1408 1779.94,1407.46 1771.25,1405.83 1762.69,1403.13 1754.33,1399.38 1746.23,1394.6 1738.45,1388.84 1731.06,1382.14 1724.1,1374.54 1717.64,1366.12 1711.71,1356.92 1706.38,1347.02 1701.66,1336.5 1697.62,1325.43 1694.26,1313.91 1691.62,1302.01 1689.73,1289.83 1688.58,1277.46 1688.2,1265 1688.58,1252.54 1689.73,1240.17 1691.62,1227.99 1694.26,1216.09 1697.62,1204.57 1701.66,1193.5 1706.38,1182.98 1711.71,1173.08 1717.64,1163.88 1724.1,1155.46 1731.06,1147.86 1738.45,1141.16 1746.23,1135.4 1754.33,1130.62 1762.69,1126.87 1771.25,1124.17 1779.94,1122.54 1788.7,1122 1797.46,1122.54 1806.15,1124.17" fill="#2c2c2c" stroke="#111" stroke-width="1.2" stroke-linejoin="round" />
<polygon points="1832.92,1396.41 1872.66,1392.25 1916.29,1381.53 1892.9,1401.81 1852.8,1404.98 1811.84,1406.78" fill="#444444" stroke="#141414" stroke-width="1.2" stroke-linejoin="round" />
<polyline points="1830.44,1396.26 1869.45,1391.06" fill="none" stroke="#232323" stroke-width="0.9" stroke-linejoin="round" stroke-linecap="round" />
<polygon points="1795.83,1410.15 1837.44,1410.23 1884.38,1406.36 1857.44,1412.94 1815.69,1411.74 1773.52,1408.91" fill="#444444" stroke="#141414" stroke-width="1.2" stroke-linejoin="round" />
<polyline points="1793.7,1408.83 1835.05,1407.68" fill="none" stroke="#232323" stroke-width="0.9" stroke-linejoin="round" stroke-linecap="round" />
<polygon points="1757.76,1403.78 1800.05,1408.64 1848.35,1412.7 1821.6,1404.69 1779.41,1398.72 1737.31,1391.1" fill="#444444" stroke="#141414" stroke-width="1.2" stroke-linejoin="round" />
<polyline points="1756.28,1401.45 1798.79,1405.08" fill="none" stroke="#232323" stroke-width="0.9" stroke-linejoin="round" stroke-linecap="round" />
<polygon points="1723.97,1378.17 1765.65,1387.7 1813.21,1399.69 1790.35,1378.18 1748.99,1367.72 1708.22,1355.81" fill="#444444" stroke="#141414" stroke-width="1.2" stroke-linejoin="round" />
<polyline points="1723.34,1375.17 1765.72,1383.62" fill="none" stroke="#232323" stroke-width="0.9" stroke-linejoin="round" stroke-linecap="round" />
<polygon points="1699.15,1336.88 1739.02,1350.3 1783.81,1369.12 1768.02,1337.1 1728.65,1323.04 1690.29,1307.94" fill="#444444" stroke="#141414" stroke-width="1.2" stroke-linejoin="round" />
<polyline points="1699.47,1333.63 1740.4,1346.28" fill="none" stroke="#232323" stroke-width="0.9" stroke-linejoin="round" stroke-linecap="round" />
<polygon points="1686.74,1285.63 1723.85,1301.64 1764.24,1325.23 1757.7,1287.13 1721.21,1270.87 1685.99,1254.11" fill="#444444" stroke="#141414" stroke-width="1.2" stroke-linejoin="round" />
<polyline points="1687.96,1282.57 1726.35,1298.22" fill="none" stroke="#232323" stroke-width="0.9" stroke-linejoin="round" stroke-linecap="round" />
<polygon points="1688.46,1231.52 1726.31,1224 1767.87,1209.33 1775.65,1191.05 1735.36,1195.8 1695.92,1201.8" fill="#444444" stroke="#141414" stroke-width="1.2" stroke-linejoin="round" />
<polyline points="1690.41,1229.07 1729.79,1222.29" fill="none" stroke="#232323" stroke-width="0.9" stroke-linejoin="round" stroke-linecap="round" />
<polygon points="1704.08,1182.05 1744.49,1177.47 1790.1,1168.13 1802,1155.21 1760.16,1155.94 1718.72,1158.24" fill="#444444" stroke="#141414" stroke-width="1.2" stroke-linejoin="round" />
<polyline points="1706.48,1180.56 1748.05,1177.25" fill="none" stroke="#232323" stroke-width="0.9" stroke-linejoin="round" stroke-linecap="round" />
<polygon points="1731.42,1144.08 1773.37,1143.62 1821.29,1141.47 1835.66,1135.7 1793.49,1131.75 1751.21,1129.48" fill="#444444" stroke="#141414" stroke-width="1.2" stroke-linejoin="round" />
<polyline points="1733.95,1143.75 1776.53,1144.93" fill="none" stroke="#232323" stroke-width="0.9" stroke-linejoin="round" stroke-linecap="round" />
<polygon points="1766.7,1122.86 1808.94,1127.16 1857.11,1133.04 1871.95,1135.21 1830.72,1126.58 1788.9,1119.5" fill="#444444" stroke="#141414" stroke-width="1.2" stroke-linejoin="round" />
<polyline points="1769,1123.74 1811.26,1129.8" fill="none" stroke="#232323" stroke-width="0.9" stroke-linejoin="round" stroke-linecap="round" />
<polygon points="1805.03,1121.34 1846.29,1130.35 1892.59,1144.01 1905.86,1153.82 1866.71,1141.14 1826.56,1129.68" fill="#444444" stroke="#141414" stroke-width="1.2" stroke-linejoin="round" />
<polyline points="1806.79,1123.31 1847.44,1133.97" fill="none" stroke="#232323" stroke-width="0.9" stroke-linejoin="round" stroke-linecap="round" />
<polygon points="1884.21,1143.66 1888.32,1136.02 1902.59,1144.8 1901,1154.05" fill="#3d3d3d" stroke="#141414" stroke-width="1.1" stroke-linejoin="round" />
<polygon points="1916.09,1168.82 1922.14,1163.81 1933.05,1179.51 1928.92,1187.41" fill="#3d3d3d" stroke="#141414" stroke-width="1.1" stroke-linejoin="round" />
<polygon points="1939.02,1209.15 1946.15,1207.5 1952.1,1227.84 1946.03,1233.24" fill="#3d3d3d" stroke="#141414" stroke-width="1.1" stroke-linejoin="round" />
<polygon points="1949.68,1258.78 1956.83,1260.73 1956.97,1282.75 1949.84,1284.85" fill="#3d3d3d" stroke="#141414" stroke-width="1.1" stroke-linejoin="round" />
<polygon points="1946.5,1310.49 1952.64,1315.75 1946.94,1336.23 1939.79,1334.74" fill="#3d3d3d" stroke="#141414" stroke-width="1.1" stroke-linejoin="round" />
<polygon points="1929.96,1356.73 1934.19,1364.54 1923.48,1380.51 1917.35,1375.64" fill="#3d3d3d" stroke="#141414" stroke-width="1.1" stroke-linejoin="round" />
<polygon points="1905.31,1388.33 1907.27,1397.48 1893.34,1407.3 1888.92,1399.97" fill="#3d3d3d" stroke="#141414" stroke-width="1.1" stroke-linejoin="round" />
<polygon points="1877.8,1404.96 1877.5,1414.37 1862.11,1417.62 1859.7,1408.81" fill="#3d3d3d" stroke="#141414" stroke-width="1.1" stroke-linejoin="round" />
<ellipse cx="1854.7" cy="1273" rx="96.5" ry="137" fill="#383838" stroke="#121212" stroke-width="1.2" />
<ellipse cx="1854.7" cy="1273" rx="92.6" ry="127.5" fill="#3b3b3b" stroke="#101010" stroke-width="1.5" />
<ellipse cx="1854.7" cy="1273" rx="88.433" ry="122.4" fill="none" stroke="#1a1a1a" stroke-width="0.9" />
<ellipse cx="1854.7" cy="1273" rx="83.34" ry="116.025" fill="#3e3e3e" stroke="#151515" stroke-width="1" />
<ellipse cx="1853.7" cy="1270" rx="72.5" ry="94" fill="#353535" stroke="#101010" stroke-width="1.3" />
<ellipse cx="1854.7" cy="1270" rx="66.5" ry="85" fill="#2b2b2b" stroke="#101010" stroke-width="1" />
<ellipse cx="1854.7" cy="1270" rx="63.5" ry="81" fill="#b9b9b9" stroke="#222" stroke-width="1.2" />
<ellipse cx="1854.7" cy="1270" rx="59.69" ry="76.14" fill="#c8c8c8" stroke="#4a4a4a" stroke-width="0.7" />
<ellipse cx="1852.5" cy="1270" rx="56.1975" ry="71.685" fill="#bcbcbc" stroke="#4a4a4a" stroke-width="0.7" />
<ellipse cx="1850.3" cy="1270" rx="52.705" ry="67.23" fill="#c6c6c6" stroke="#4a4a4a" stroke-width="0.7" />
<ellipse cx="1848.1" cy="1270" rx="49.2125" ry="62.775" fill="#b8b8b8" stroke="#4a4a4a" stroke-width="0.7" />
<ellipse cx="1845.9" cy="1270" rx="45.72" ry="58.32" fill="#c4c4c4" stroke="#4a4a4a" stroke-width="0.7" />
<ellipse cx="1843.7" cy="1270" rx="42.2275" ry="53.865" fill="#bababa" stroke="#4a4a4a" stroke-width="0.7" />
<ellipse cx="1841.5" cy="1270" rx="38.735" ry="49.41" fill="#c2c2c2" stroke="#4a4a4a" stroke-width="0.7" />
<ellipse cx="1825.7" cy="1268" rx="34.29" ry="52.65" fill="#c3c3c3" stroke="#333" stroke-width="1" />
<circle cx="1822.9" cy="1229.93" r="3.2" fill="#2a2a2a" stroke="#111" stroke-width="0.6" />
<circle cx="1825.9" cy="1229.93" r="2.4" fill="#777" stroke="#1a1a1a" stroke-width="0.7" />
<circle cx="1842.7" cy="1248.96" r="3.2" fill="#2a2a2a" stroke="#111" stroke-width="0.6" />
<circle cx="1845.7" cy="1248.96" r="2.4" fill="#777" stroke="#1a1a1a" stroke-width="0.7" />
<circle cx="1842.7" cy="1287.04" r="3.2" fill="#2a2a2a" stroke="#111" stroke-width="0.6" />
<circle cx="1845.7" cy="1287.04" r="2.4" fill="#777" stroke="#1a1a1a" stroke-width="0.7" />
<circle cx="1822.9" cy="1306.07" r="3.2" fill="#2a2a2a" stroke="#111" stroke-width="0.6" />
<circle cx="1825.9" cy="1306.07" r="2.4" fill="#777" stroke="#1a1a1a" stroke-width="0.7" />
<circle cx="1803.1" cy="1287.04" r="3.2" fill="#2a2a2a" stroke="#111" stroke-width="0.6" />
<circle cx="1806.1" cy="1287.04" r="2.4" fill="#777" stroke="#1a1a1a" stroke-width="0.7" />
<circle cx="1803.1" cy="1248.96" r="3.2" fill="#2a2a2a" stroke="#111" stroke-width="0.6" />
<circle cx="1806.1" cy="1248.96" r="2.4" fill="#777" stroke="#1a1a1a" stroke-width="0.7" />
<ellipse cx="1820.7" cy="1268" rx="18.5" ry="26" fill="none" stroke="#151515" stroke-width="1.6" />
<ellipse cx="1815.7" cy="1268" rx="12.5" ry="19" fill="#b2b2b2" stroke="#333" stroke-width="1" />
<rect x="1815.7" y="1249" width="16" height="38" rx="0" fill="#b8b8b8" stroke="none" stroke-width="0" />
<line x1="1815.7" y1="1249" x2="1831.7" y2="1250" stroke="#141414" stroke-width="0.8" />
<line x1="1815.7" y1="1287" x2="1831.7" y2="1286" stroke="#141414" stroke-width="0.8" />
<ellipse cx="1831.7" cy="1268" rx="12.5" ry="18.5" fill="#c4c4c4" stroke="#333" stroke-width="1" />
<ellipse cx="1834.7" cy="1268" rx="10" ry="15" fill="#cdcdcd" stroke="#555" stroke-width="0.8" />
<ellipse cx="1836.7" cy="1268" rx="7.5" ry="11.5" fill="#d4d4d4" stroke="#888" stroke-width="0.6" />
<circle cx="1852.7" cy="1268" r="1.8" fill="#ddd" stroke="#222" stroke-width="0.7" />
<circle cx="1794.7" cy="1269" r="2" fill="#ddd" stroke="#111" stroke-width="1" />
<line x1="1838.7" y1="1337.23" x2="1845.7" y2="1331.56" stroke="#1a1a1a" stroke-width="3.2" />
<line x1="1843.7" y1="1333.18" x2="1846.2" y2="1331.15" stroke="#c9a227" stroke-width="2" />
<polygon points="2187.34,1118.19 2195.98,1116.55 2204.7,1116 2213.42,1116.55 2222.06,1118.19 2230.58,1120.91 2238.9,1124.68 2246.96,1129.49 2254.7,1135.29 2262.06,1142.04 2268.98,1149.69 2275.41,1158.18 2281.3,1167.44 2286.62,1177.4 2291.3,1188 2295.33,1199.14 2298.67,1210.75 2301.29,1222.73 2303.18,1234.99 2304.32,1247.45 2304.7,1260 2304.32,1272.55 2303.18,1285.01 2301.29,1297.27 2298.67,1309.25 2295.33,1320.86 2291.3,1332 2286.62,1342.6 2281.3,1352.56 2275.41,1361.82 2268.98,1370.31 2262.06,1377.96 2254.7,1384.71 2246.96,1390.51 2238.9,1395.32 2230.58,1399.09 2222.06,1401.81 2213.42,1403.45 2204.7,1404 2195.98,1403.45 2187.34,1401.81 2166.24,1398.8 2157.5,1400.45 2148.7,1401 2139.9,1400.45 2131.16,1398.8 2122.56,1396.06 2114.16,1392.26 2106.02,1387.41 2098.2,1381.57 2090.77,1374.78 2083.78,1367.08 2077.28,1358.53 2071.33,1349.2 2065.97,1339.17 2061.23,1328.5 2057.16,1317.28 2053.79,1305.59 2051.14,1293.53 2049.23,1281.18 2048.08,1268.64 2047.7,1256 2048.08,1243.36 2049.23,1230.82 2051.14,1218.47 2053.79,1206.41 2057.16,1194.72 2061.23,1183.5 2065.97,1172.83 2071.33,1162.8 2077.28,1153.47 2083.78,1144.92 2090.77,1137.22 2098.2,1130.43 2106.02,1124.59 2114.16,1119.74 2122.56,1115.94 2131.16,1113.2 2139.9,1111.55 2148.7,1111 2157.5,1111.55 2166.24,1113.2" fill="#2c2c2c" stroke="#111" stroke-width="1.2" stroke-linejoin="round" />
<polygon points="2193.14,1389.21 2227.91,1382.98 2266.61,1370.08 2243.1,1390.65 2207.95,1395.88 2171.95,1399.73" fill="#444444" stroke="#141414" stroke-width="1.2" stroke-linejoin="round" />
<polyline points="2190.64,1389.09 2224.69,1381.81" fill="none" stroke="#232323" stroke-width="0.9" stroke-linejoin="round" stroke-linecap="round" />
<polygon points="2155.87,1403.15 2192.52,1401.21 2234.53,1395.26 2207.46,1401.94 2170.66,1402.74 2133.45,1401.89" fill="#444444" stroke="#141414" stroke-width="1.2" stroke-linejoin="round" />
<polyline points="2153.73,1401.82 2190.11,1398.66" fill="none" stroke="#232323" stroke-width="0.9" stroke-linejoin="round" stroke-linecap="round" />
<polygon points="2117.61,1396.69 2154.94,1399.59 2198.32,1401.7 2171.43,1393.57 2134.2,1389.54 2097.06,1383.83" fill="#444444" stroke="#141414" stroke-width="1.2" stroke-linejoin="round" />
<polyline points="2116.12,1394.35 2153.68,1396.03" fill="none" stroke="#232323" stroke-width="0.9" stroke-linejoin="round" stroke-linecap="round" />
<polygon points="2083.65,1370.73 2120.37,1378.36 2162.99,1388.5 2140.02,1366.68 2103.63,1358.11 2067.83,1348.06" fill="#444444" stroke="#141414" stroke-width="1.2" stroke-linejoin="round" />
<polyline points="2083.02,1367.7 2120.43,1374.26" fill="none" stroke="#232323" stroke-width="0.9" stroke-linejoin="round" stroke-linecap="round" />
<polygon points="2058.71,1328.87 2093.61,1340.44 2133.45,1357.49 2117.57,1325.01 2083.19,1312.8 2049.81,1299.53" fill="#444444" stroke="#141414" stroke-width="1.2" stroke-linejoin="round" />
<polyline points="2059.03,1325.58 2094.98,1336.38" fill="none" stroke="#232323" stroke-width="0.9" stroke-linejoin="round" stroke-linecap="round" />
<polygon points="2046.25,1276.92 2078.37,1291.1 2113.77,1312.97 2107.2,1274.33 2075.71,1259.9 2045.49,1244.96" fill="#444444" stroke="#141414" stroke-width="1.2" stroke-linejoin="round" />
<polyline points="2047.46,1273.81 2080.86,1287.64" fill="none" stroke="#232323" stroke-width="0.9" stroke-linejoin="round" stroke-linecap="round" />
<polygon points="2047.98,1222.06 2080.83,1212.37 2117.42,1195.42 2125.25,1176.88 2089.93,1183.78 2055.47,1191.93" fill="#444444" stroke="#141414" stroke-width="1.2" stroke-linejoin="round" />
<polyline points="2049.93,1219.57 2084.32,1210.62" fill="none" stroke="#232323" stroke-width="0.9" stroke-linejoin="round" stroke-linecap="round" />
<polygon points="2063.67,1171.91 2099.1,1165.19 2139.77,1153.64 2151.73,1140.53 2114.85,1143.36 2078.38,1147.77" fill="#444444" stroke="#141414" stroke-width="1.2" stroke-linejoin="round" />
<polyline points="2066.08,1170.38 2102.68,1164.94" fill="none" stroke="#232323" stroke-width="0.9" stroke-linejoin="round" stroke-linecap="round" />
<polygon points="2091.14,1133.41 2128.12,1130.87 2171.12,1126.6 2185.56,1120.73 2148.35,1118.83 2111.03,1118.62" fill="#444444" stroke="#141414" stroke-width="1.2" stroke-linejoin="round" />
<polyline points="2093.68,1133.06 2131.3,1132.16" fill="none" stroke="#232323" stroke-width="0.9" stroke-linejoin="round" stroke-linecap="round" />
<polygon points="2126.59,1111.9 2163.88,1114.17 2207.12,1118.04 2222.04,1120.24 2185.77,1113.59 2148.9,1108.5" fill="#444444" stroke="#141414" stroke-width="1.2" stroke-linejoin="round" />
<polyline points="2128.91,1112.77 2166.21,1116.82" fill="none" stroke="#232323" stroke-width="0.9" stroke-linejoin="round" stroke-linecap="round" />
<polygon points="2165.11,1110.36 2201.41,1117.41 2242.79,1129.16 2256.12,1139.12 2221.93,1128.35 2186.74,1118.82" fill="#444444" stroke="#141414" stroke-width="1.2" stroke-linejoin="round" />
<polyline points="2166.88,1112.34 2202.57,1121.04" fill="none" stroke="#232323" stroke-width="0.9" stroke-linejoin="round" stroke-linecap="round" />
<polygon points="2234.37,1128.75 2238.48,1121.13 2252.82,1130.03 2251.24,1139.3" fill="#3d3d3d" stroke="#141414" stroke-width="1.1" stroke-linejoin="round" />
<polygon points="2266.41,1154.29 2272.47,1149.3 2283.43,1165.22 2279.31,1173.15" fill="#3d3d3d" stroke="#141414" stroke-width="1.1" stroke-linejoin="round" />
<polygon points="2289.46,1195.21 2296.59,1193.6 2302.58,1214.22 2296.51,1219.65" fill="#3d3d3d" stroke="#141414" stroke-width="1.1" stroke-linejoin="round" />
<polygon points="2300.17,1245.58 2307.33,1247.56 2307.47,1269.88 2300.33,1272.03" fill="#3d3d3d" stroke="#141414" stroke-width="1.1" stroke-linejoin="round" />
<polygon points="2296.98,1298.04 2303.12,1303.34 2297.39,1324.1 2290.24,1322.65" fill="#3d3d3d" stroke="#141414" stroke-width="1.1" stroke-linejoin="round" />
<polygon points="2280.35,1344.96 2284.58,1352.8 2273.82,1368.99 2267.68,1364.15" fill="#3d3d3d" stroke="#141414" stroke-width="1.1" stroke-linejoin="round" />
<polygon points="2255.57,1377.03 2257.52,1386.2 2243.53,1396.16 2239.1,1388.83" fill="#3d3d3d" stroke="#141414" stroke-width="1.1" stroke-linejoin="round" />
<polygon points="2227.92,1393.9 2227.61,1403.32 2212.15,1406.62 2209.72,1397.81" fill="#3d3d3d" stroke="#141414" stroke-width="1.1" stroke-linejoin="round" />
<ellipse cx="2204.7" cy="1260" rx="97" ry="139" fill="#383838" stroke="#121212" stroke-width="1.2" />
<ellipse cx="2204.7" cy="1260" rx="93" ry="126.4" fill="#3b3b3b" stroke="#101010" stroke-width="1.5" />
<ellipse cx="2204.7" cy="1260" rx="88.815" ry="121.344" fill="none" stroke="#1a1a1a" stroke-width="0.9" />
<ellipse cx="2204.7" cy="1260" rx="83.7" ry="115.024" fill="#3e3e3e" stroke="#151515" stroke-width="1" />
<ellipse cx="2207.4" cy="1261" rx="71" ry="95.4" fill="#353535" stroke="#101010" stroke-width="1.3" />
<ellipse cx="2208.4" cy="1261" rx="65" ry="86.4" fill="#2b2b2b" stroke="#101010" stroke-width="1" />
<ellipse cx="2208.4" cy="1261" rx="62" ry="82.4" fill="#b9b9b9" stroke="#222" stroke-width="1.2" />
<ellipse cx="2208.4" cy="1261" rx="58.28" ry="77.456" fill="#c8c8c8" stroke="#4a4a4a" stroke-width="0.7" />
<ellipse cx="2206.2" cy="1261" rx="54.87" ry="72.924" fill="#bcbcbc" stroke="#4a4a4a" stroke-width="0.7" />
<ellipse cx="2204" cy="1261" rx="51.46" ry="68.392" fill="#c6c6c6" stroke="#4a4a4a" stroke-width="0.7" />
<ellipse cx="2201.8" cy="1261" rx="48.05" ry="63.86" fill="#b8b8b8" stroke="#4a4a4a" stroke-width="0.7" />
<ellipse cx="2199.6" cy="1261" rx="44.64" ry="59.328" fill="#c4c4c4" stroke="#4a4a4a" stroke-width="0.7" />
<ellipse cx="2197.4" cy="1261" rx="41.23" ry="54.796" fill="#bababa" stroke="#4a4a4a" stroke-width="0.7" />
<ellipse cx="2195.2" cy="1261" rx="37.82" ry="50.264" fill="#c2c2c2" stroke="#4a4a4a" stroke-width="0.7" />
<ellipse cx="2179.4" cy="1259" rx="33.48" ry="53.56" fill="#c3c3c3" stroke="#333" stroke-width="1" />
<circle cx="2176.6" cy="1220.27" r="3.2" fill="#2a2a2a" stroke="#111" stroke-width="0.6" />
<circle cx="2179.6" cy="1220.27" r="2.4" fill="#777" stroke="#1a1a1a" stroke-width="0.7" />
<circle cx="2195.93" cy="1239.64" r="3.2" fill="#2a2a2a" stroke="#111" stroke-width="0.6" />
<circle cx="2198.93" cy="1239.64" r="2.4" fill="#777" stroke="#1a1a1a" stroke-width="0.7" />
<circle cx="2195.93" cy="1278.36" r="3.2" fill="#2a2a2a" stroke="#111" stroke-width="0.6" />
<circle cx="2198.93" cy="1278.36" r="2.4" fill="#777" stroke="#1a1a1a" stroke-width="0.7" />
<circle cx="2176.6" cy="1297.73" r="3.2" fill="#2a2a2a" stroke="#111" stroke-width="0.6" />
<circle cx="2179.6" cy="1297.73" r="2.4" fill="#777" stroke="#1a1a1a" stroke-width="0.7" />
<circle cx="2157.27" cy="1278.36" r="3.2" fill="#2a2a2a" stroke="#111" stroke-width="0.6" />
<circle cx="2160.27" cy="1278.36" r="2.4" fill="#777" stroke="#1a1a1a" stroke-width="0.7" />
<circle cx="2157.27" cy="1239.64" r="3.2" fill="#2a2a2a" stroke="#111" stroke-width="0.6" />
<circle cx="2160.27" cy="1239.64" r="2.4" fill="#777" stroke="#1a1a1a" stroke-width="0.7" />
<ellipse cx="2174.4" cy="1259" rx="18.5" ry="26" fill="none" stroke="#151515" stroke-width="1.6" />
<ellipse cx="2169.4" cy="1259" rx="12.5" ry="19" fill="#b2b2b2" stroke="#333" stroke-width="1" />
<rect x="2169.4" y="1240" width="16" height="38" rx="0" fill="#b8b8b8" stroke="none" stroke-width="0" />
<line x1="2169.4" y1="1240" x2="2185.4" y2="1241" stroke="#141414" stroke-width="0.8" />
<line x1="2169.4" y1="1278" x2="2185.4" y2="1277" stroke="#141414" stroke-width="0.8" />
<ellipse cx="2185.4" cy="1259" rx="12.5" ry="18.5" fill="#c4c4c4" stroke="#333" stroke-width="1" />
<ellipse cx="2188.4" cy="1259" rx="10" ry="15" fill="#cdcdcd" stroke="#555" stroke-width="0.8" />
<ellipse cx="2190.4" cy="1259" rx="7.5" ry="11.5" fill="#d4d4d4" stroke="#888" stroke-width="0.6" />
<circle cx="2206.4" cy="1259" r="1.8" fill="#ddd" stroke="#222" stroke-width="0.7" />
<circle cx="2148.4" cy="1260" r="2" fill="#ddd" stroke="#111" stroke-width="1" />
<line x1="2192.4" y1="1329.39" x2="2199.4" y2="1323.62" stroke="#1a1a1a" stroke-width="3.2" />
<line x1="2197.4" y1="1325.27" x2="2199.9" y2="1323.21" stroke="#c9a227" stroke-width="2" /></g>
<g id="hopper_hopper"><path d="M863,1037 L863,440 Q864,423 880,422 L1262,432 Q1286,434 1286,452 L1286,1037 Z" fill="#9c9c9c" stroke="#141414" stroke-width="1.3" stroke-linejoin="round" />
<path d="M872,1037 L872,446 Q873,436 884,436 L1258,447 Q1276,448 1276,462 L1276,1037" fill="none" stroke="#141414" stroke-width="1" stroke-linejoin="round" />
<polygon points="892.3,422 1108.7,428 1108.7,444.8 893.2,434" fill="#9e9e9e" stroke="#141414" stroke-width="1" stroke-linejoin="round" />
<circle cx="904.4" cy="430.8" r="1.6" fill="#ddd" stroke="#141414" stroke-width="0.7" />
<circle cx="952" cy="432.7" r="1.6" fill="#ddd" stroke="#141414" stroke-width="0.7" />
<circle cx="1000.9" cy="434.5" r="1.6" fill="#ddd" stroke="#141414" stroke-width="0.7" />
<circle cx="1049" cy="435.8" r="1.6" fill="#ddd" stroke="#141414" stroke-width="0.7" />
<circle cx="1097.2" cy="437.9" r="1.6" fill="#ddd" stroke="#141414" stroke-width="0.7" />
<polygon points="872.7,436.4 1107.8,448.9 1107.8,452.6 873.6,439.6" fill="#929292" stroke="#141414" stroke-width="0.9" stroke-linejoin="round" />
<polygon points="873.6,439.6 961.3,442.6 933.3,463.5 914.7,480.2 873.6,456" fill="#9a9a9a" stroke="#141414" stroke-width="0.9" stroke-linejoin="round" />
<polygon points="961.3,442.6 1107.8,452.6 1107.8,476.5 937,464.4" fill="#9d9d9d" stroke="#141414" stroke-width="0.9" stroke-linejoin="round" />
<polygon points="914.7,473.7 1108.7,477.4 1108.7,485.8 913.7,481.2" fill="#989898" stroke="#141414" stroke-width="0.9" stroke-linejoin="round" />
<path d="M924,476.5 Q930.5,456 938,477.4" fill="none" stroke="#222" stroke-width="5" stroke-linejoin="round" />
<path d="M924,476.5 Q930.5,456 938,477.4" fill="none" stroke="#aaa" stroke-width="3" stroke-linejoin="round" />
<path d="M1031.3,476.5 Q1037.8,459.7 1045.3,477.4" fill="none" stroke="#222" stroke-width="5" stroke-linejoin="round" />
<path d="M1031.3,476.5 Q1037.8,459.7 1045.3,477.4" fill="none" stroke="#aaa" stroke-width="3" stroke-linejoin="round" />
<rect x="1259.9" y="480.2" width="9.3" height="112" rx="0" fill="#a2a2a2" stroke="#141414" stroke-width="0.9" />
<circle cx="1263.6" cy="489.6" r="2.2" fill="#eee" stroke="#141414" stroke-width="0.7" />
<circle cx="1263.6" cy="583.8" r="2.2" fill="#eee" stroke="#141414" stroke-width="0.7" />
<rect x="1271" y="480" width="15" height="557" rx="0" fill="#969696" stroke="#141414" stroke-width="0.9" />
<circle cx="1279" cy="499.851" r="1.2" fill="#ddd" stroke="#141414" stroke-width="0.6" />
<circle cx="1279" cy="575.439" r="1.2" fill="#ddd" stroke="#141414" stroke-width="0.6" />
<circle cx="1279" cy="650.093" r="1.2" fill="#ddd" stroke="#141414" stroke-width="0.6" />
<circle cx="1279" cy="735.946" r="1.2" fill="#ddd" stroke="#141414" stroke-width="0.6" />
<circle cx="1279" cy="821.799" r="1.2" fill="#ddd" stroke="#141414" stroke-width="0.6" />
<circle cx="1279" cy="903.919" r="1.2" fill="#ddd" stroke="#141414" stroke-width="0.6" />
<polygon points="703.8,473.5 1064,486.4 913.8,683.4 762.6,680 762.6,602 611,602" fill="#9b9b9b" stroke="#141414" stroke-width="1.3" stroke-linejoin="round" />
<polygon points="762,680 914,683 915,1160 635,1160 635,946 762,946" fill="#989898" stroke="#141414" stroke-width="1.2" stroke-linejoin="round" />
<polygon points="914,683 1064,486 1110,486 1110,1052 916,1056" fill="#999999" stroke="#141414" stroke-width="1.3" stroke-linejoin="round" />
<line x1="914" y1="683" x2="915" y2="1076" stroke="#141414" stroke-width="1.3" />
<circle cx="1070.5" cy="499.8" r="4" fill="#8a8a8a" stroke="#111" stroke-width="1.5" /><circle cx="1070.9" cy="499.8" r="2" fill="#a5a5a5" stroke="#1a1a1a" stroke-width="0.9" />
<circle cx="1041.6" cy="537.7" r="4" fill="#8a8a8a" stroke="#111" stroke-width="1.5" /><circle cx="1042" cy="537.7" r="2" fill="#a5a5a5" stroke="#1a1a1a" stroke-width="0.9" />
<circle cx="1013.6" cy="575.8" r="4" fill="#8a8a8a" stroke="#111" stroke-width="1.5" /><circle cx="1014" cy="575.8" r="2" fill="#a5a5a5" stroke="#1a1a1a" stroke-width="0.9" />
<circle cx="985.6" cy="612.8" r="4" fill="#8a8a8a" stroke="#111" stroke-width="1.5" /><circle cx="986" cy="612.8" r="2" fill="#a5a5a5" stroke="#1a1a1a" stroke-width="0.9" />
<circle cx="956.6" cy="650.1" r="4" fill="#8a8a8a" stroke="#111" stroke-width="1.5" /><circle cx="957" cy="650.1" r="2" fill="#a5a5a5" stroke="#1a1a1a" stroke-width="0.9" />
<circle cx="927.8" cy="688.7" r="3.8" fill="#8a8a8a" stroke="#111" stroke-width="1.5" /><circle cx="928.2" cy="688.7" r="1.9" fill="#a5a5a5" stroke="#1a1a1a" stroke-width="0.9" />
<circle cx="927.8" cy="746.4" r="3.8" fill="#8a8a8a" stroke="#111" stroke-width="1.5" /><circle cx="928.2" cy="746.4" r="1.9" fill="#a5a5a5" stroke="#1a1a1a" stroke-width="0.9" />
<circle cx="927.8" cy="805.9" r="3.8" fill="#8a8a8a" stroke="#111" stroke-width="1.5" /><circle cx="928.2" cy="805.9" r="1.9" fill="#a5a5a5" stroke="#1a1a1a" stroke-width="0.9" />
<circle cx="927.8" cy="865.4" r="3.8" fill="#8a8a8a" stroke="#111" stroke-width="1.5" /><circle cx="928.2" cy="865.4" r="1.9" fill="#a5a5a5" stroke="#1a1a1a" stroke-width="0.9" />
<circle cx="780.9" cy="669.4" r="3.6" fill="#8a8a8a" stroke="#111" stroke-width="1.5" /><circle cx="781.3" cy="669.4" r="1.8" fill="#a5a5a5" stroke="#1a1a1a" stroke-width="0.9" />
<circle cx="822.9" cy="671.2" r="3.6" fill="#8a8a8a" stroke="#111" stroke-width="1.5" /><circle cx="823.3" cy="671.2" r="1.8" fill="#a5a5a5" stroke="#1a1a1a" stroke-width="0.9" />
<circle cx="868.4" cy="672.9" r="3.6" fill="#8a8a8a" stroke="#111" stroke-width="1.5" /><circle cx="868.8" cy="672.9" r="1.8" fill="#a5a5a5" stroke="#1a1a1a" stroke-width="0.9" />
<circle cx="910.3" cy="674.7" r="3.6" fill="#8a8a8a" stroke="#111" stroke-width="1.5" /><circle cx="910.7" cy="674.7" r="1.8" fill="#a5a5a5" stroke="#1a1a1a" stroke-width="0.9" />
<polygon points="999.6,549.3 1014.5,550.8 1008,558.6 993.4,557.7" fill="#a8a8a8" stroke="#141414" stroke-width="0.9" stroke-linejoin="round" />
<polygon points="819.4,651.9 829.9,653.7 815.9,672.2 806.4,670.1" fill="#a8a8a8" stroke="#141414" stroke-width="0.9" stroke-linejoin="round" />
<rect x="870.1" y="692.2" width="22.7" height="11.5" rx="0" fill="#b0b0b0" stroke="#141414" stroke-width="1.1" />
<circle cx="881.45" cy="697.95" r="2.4" fill="#555" stroke="#141414" stroke-width="0.6" />
<rect x="887.8" y="996.4" width="21.5" height="11" rx="0" fill="#b0b0b0" stroke="#141414" stroke-width="1.1" />
<circle cx="898.55" cy="1001.9" r="2.4" fill="#555" stroke="#141414" stroke-width="0.6" />
<polygon points="737,547.5 810,552 840,588 766,586" fill="#a9acae" stroke="#141414" stroke-width="1.1" stroke-linejoin="round" />
<polygon points="889,445.5 915,482 840,588 810,552" fill="#b3b6b9" stroke="#141414" stroke-width="1.1" stroke-linejoin="round" />
<polygon points="816,444 889,445.5 810,552 737,547.5" fill="#b1b4b7" stroke="#141414" stroke-width="1.1" stroke-linejoin="round" />
<line x1="883" y1="447" x2="804" y2="552" stroke="#141414" stroke-width="0.9" />
<line x1="879" y1="446" x2="800" y2="551.5" stroke="#141414" stroke-width="0.7" />
<polygon points="829.5,493.8 840,492 836.2,499.5 826.2,501.2" fill="#999" stroke="#141414" stroke-width="0.9" stroke-linejoin="round" />
<polygon points="868.8,575 882.4,556.2 948,558.4 960.7,568.9 959.8,600.4 934,634 916.5,648.9 891.1,647.2 869.7,617 863.1,581.1" fill="#929292" stroke="#0e0e0e" stroke-width="1.5" stroke-linejoin="round" />
<polygon points="882.4,556.2 948,558.4 940.1,574.1 871.9,573.7" fill="#9d9d9d" stroke="#0e0e0e" stroke-width="1.3" stroke-linejoin="round" />
<line x1="871.9" y1="578.5" x2="937.5" y2="578.9" stroke="#0e0e0e" stroke-width="1.1" />
<path d="M891.1,562.7 Q899,548.7 906,558.8 L885.9,581.1" fill="none" stroke="#0e0e0e" stroke-width="1.2" stroke-linejoin="round" />
<path d="M894.6,562.7 Q899.9,553.1 902.9,558.8" fill="none" stroke="#0e0e0e" stroke-width="1" stroke-linejoin="round" />
<path d="M925.2,562.7 Q933.1,548.7 940.1,558.8 L920,581.1" fill="none" stroke="#0e0e0e" stroke-width="1.2" stroke-linejoin="round" />
<path d="M928.7,562.7 Q934,553.1 937,558.8" fill="none" stroke="#0e0e0e" stroke-width="1" stroke-linejoin="round" />
<ellipse cx="951.9" cy="577.6" rx="7.4" ry="10.9" fill="#8a8a8a" stroke="#0e0e0e" stroke-width="1.8" transform="rotate(15 951.9 577.6)"/>
<ellipse cx="951.9" cy="578.5" rx="4.8" ry="7.9" fill="#9d9d9d" stroke="#0e0e0e" stroke-width="1.3" transform="rotate(15 951.9 578.5)"/>
<polygon points="869.7,617 906,616.1 924.4,636.2 916.5,648.9 891.1,647.2" fill="#979797" stroke="#0e0e0e" stroke-width="1.3" stroke-linejoin="round" />
<polygon points="906,616.1 912.1,609.1 934,634 924.4,636.2" fill="#8c8c8c" stroke="#0e0e0e" stroke-width="1.1" stroke-linejoin="round" />
<polygon points="892,589 920,589.9 911.2,610 906,616.1 872.7,610" fill="#959595" stroke="#0e0e0e" stroke-width="1.1" stroke-linejoin="round" />
<polygon points="877.1,597.4 867.8,588.2 873.7,582.3 882.9,591.6" fill="#909090" stroke="#0e0e0e" stroke-width="1.3" stroke-linejoin="round" /><polygon points="869.2,586.8 864.2,581.8 867.3,578.7 872.3,583.7" fill="#2b2b2b" stroke="#0e0e0e" stroke-width="1" stroke-linejoin="round" /><polygon points="868.3,586.6 867.5,585.8 871.3,581.9 872.2,582.8" fill="#3a3a3a" stroke="#0e0e0e" stroke-width="0.8" stroke-linejoin="round" />
<polygon points="870.5,606.6 861.2,597.3 867.1,591.5 876.4,600.8" fill="#909090" stroke="#0e0e0e" stroke-width="1.3" stroke-linejoin="round" /><polygon points="862.6,596 857.7,591 860.8,587.9 865.7,592.9" fill="#2b2b2b" stroke="#0e0e0e" stroke-width="1" stroke-linejoin="round" /><polygon points="861.8,595.8 860.9,595 864.7,591.1 865.6,592" fill="#3a3a3a" stroke="#0e0e0e" stroke-width="0.8" stroke-linejoin="round" />
<ellipse cx="909.5" cy="579.4" rx="5.4" ry="2.6" fill="#8d8d8d" stroke="#0e0e0e" stroke-width="1.8" transform="rotate(-38 909.5 579.4)"/><ellipse cx="909.5" cy="579.4" rx="2.7" ry="1.3" fill="#777" stroke="#0e0e0e" stroke-width="1.26" transform="rotate(-38 909.5 579.4)"/>
<ellipse cx="920.9" cy="578.5" rx="5.4" ry="2.6" fill="#8d8d8d" stroke="#0e0e0e" stroke-width="1.8" transform="rotate(-38 920.9 578.5)"/><ellipse cx="920.9" cy="578.5" rx="2.7" ry="1.3" fill="#777" stroke="#0e0e0e" stroke-width="1.26" transform="rotate(-38 920.9 578.5)"/>
<ellipse cx="899" cy="593.4" rx="5.4" ry="2.6" fill="#8d8d8d" stroke="#0e0e0e" stroke-width="1.8" transform="rotate(-38 899.0 593.4)"/><ellipse cx="899" cy="593.4" rx="2.7" ry="1.3" fill="#777" stroke="#0e0e0e" stroke-width="1.26" transform="rotate(-38 899.0 593.4)"/>
<ellipse cx="909.5" cy="593.4" rx="5.4" ry="2.6" fill="#8d8d8d" stroke="#0e0e0e" stroke-width="1.8" transform="rotate(-38 909.5 593.4)"/><ellipse cx="909.5" cy="593.4" rx="2.7" ry="1.3" fill="#777" stroke="#0e0e0e" stroke-width="1.26" transform="rotate(-38 909.5 593.4)"/>
<ellipse cx="891.1" cy="603.9" rx="5.4" ry="2.6" fill="#8d8d8d" stroke="#0e0e0e" stroke-width="1.8" transform="rotate(-38 891.1 603.9)"/><ellipse cx="891.1" cy="603.9" rx="2.7" ry="1.3" fill="#777" stroke="#0e0e0e" stroke-width="1.26" transform="rotate(-38 891.1 603.9)"/>
<ellipse cx="902.5" cy="603.9" rx="5.4" ry="2.6" fill="#8d8d8d" stroke="#0e0e0e" stroke-width="1.8" transform="rotate(-38 902.5 603.9)"/><ellipse cx="902.5" cy="603.9" rx="2.7" ry="1.3" fill="#777" stroke="#0e0e0e" stroke-width="1.26" transform="rotate(-38 902.5 603.9)"/>
<polygon points="920.6,598.7 930.1,585 936.9,589.8 927.4,603.4" fill="#929292" stroke="#0e0e0e" stroke-width="1.3" stroke-linejoin="round" /><polygon points="933.5,587.4 933.5,587.4 933.5,587.4 933.5,587.4" fill="#2b2b2b" stroke="#0e0e0e" stroke-width="1" stroke-linejoin="round" /><polygon points="933.5,586.6 934.2,585.6 935,586.2 934.3,587.2" fill="#3a3a3a" stroke="#0e0e0e" stroke-width="0.8" stroke-linejoin="round" />
<polygon points="914.2,608.6 922.8,596.4 929.2,600.9 920.7,613.1" fill="#8a8a8a" stroke="#0e0e0e" stroke-width="1.3" stroke-linejoin="round" /><polygon points="926,598.6 926,598.6 926,598.6 926,598.6" fill="#2b2b2b" stroke="#0e0e0e" stroke-width="1" stroke-linejoin="round" /><polygon points="926,597.8 926.7,596.8 927.5,597.4 926.8,598.4" fill="#3a3a3a" stroke="#0e0e0e" stroke-width="0.8" stroke-linejoin="round" />
<ellipse cx="940.5" cy="587.2" rx="5.2" ry="6" fill="#8a8a8a" stroke="#0e0e0e" stroke-width="1.7" transform="rotate(20 940.5 587.2)"/><ellipse cx="940.5" cy="587.2" rx="2.6" ry="3" fill="#777" stroke="#0e0e0e" stroke-width="1.19" transform="rotate(20 940.5 587.2)"/>
<ellipse cx="948.9" cy="596" rx="3.9" ry="4.5" fill="#8a8a8a" stroke="#0e0e0e" stroke-width="1.7" transform="rotate(20 948.9 596.0)"/><ellipse cx="948.9" cy="596" rx="2" ry="2.3" fill="#777" stroke="#0e0e0e" stroke-width="1.19" transform="rotate(20 948.9 596.0)"/>
<ellipse cx="950.6" cy="608.2" rx="3.3" ry="3.8" fill="#8a8a8a" stroke="#0e0e0e" stroke-width="1.7" transform="rotate(20 950.6 608.2)"/><ellipse cx="950.6" cy="608.2" rx="1.7" ry="1.9" fill="#777" stroke="#0e0e0e" stroke-width="1.19" transform="rotate(20 950.6 608.2)"/>
<ellipse cx="942.7" cy="617" rx="3.9" ry="4.5" fill="#8a8a8a" stroke="#0e0e0e" stroke-width="1.7" transform="rotate(20 942.7 617.0)"/><ellipse cx="942.7" cy="617" rx="2" ry="2.3" fill="#777" stroke="#0e0e0e" stroke-width="1.19" transform="rotate(20 942.7 617.0)"/>
<ellipse cx="934" cy="612.6" rx="3.5" ry="4" fill="#8a8a8a" stroke="#0e0e0e" stroke-width="1.7" transform="rotate(20 934.0 612.6)"/><ellipse cx="934" cy="612.6" rx="1.7" ry="2" fill="#777" stroke="#0e0e0e" stroke-width="1.19" transform="rotate(20 934.0 612.6)"/>
<ellipse cx="927" cy="618.7" rx="2.8" ry="3.2" fill="#8a8a8a" stroke="#0e0e0e" stroke-width="1.7" transform="rotate(20 927.0 618.7)"/><ellipse cx="927" cy="618.7" rx="1.4" ry="1.6" fill="#777" stroke="#0e0e0e" stroke-width="1.19" transform="rotate(20 927.0 618.7)"/>
<ellipse cx="915.2" cy="617" rx="3.1" ry="2.1" fill="#6a6a6a" stroke="#0e0e0e" stroke-width="1.5" transform="rotate(40 915.2 617.0)"/>
<ellipse cx="919.1" cy="624" rx="3.1" ry="2.1" fill="#6a6a6a" stroke="#0e0e0e" stroke-width="1.5" transform="rotate(40 919.1 624.0)"/>
<ellipse cx="922.6" cy="629.2" rx="3.1" ry="2.1" fill="#6a6a6a" stroke="#0e0e0e" stroke-width="1.5" transform="rotate(40 922.6 629.2)"/>
<ellipse cx="886.7" cy="621.4" rx="3.1" ry="2.1" fill="#6a6a6a" stroke="#0e0e0e" stroke-width="1.5" transform="rotate(40 886.7 621.4)"/>
<ellipse cx="881.5" cy="626.6" rx="3.1" ry="2.1" fill="#6a6a6a" stroke="#0e0e0e" stroke-width="1.5" transform="rotate(40 881.5 626.6)"/>
<polygon points="895.5,624 899,622.2 906,631 902.5,632.7" fill="none" stroke="#0e0e0e" stroke-width="1" stroke-linejoin="round" />
<line x1="902.5" y1="631" x2="909.5" y2="633.6" stroke="#0e0e0e" stroke-width="2" />
<ellipse cx="891.1" cy="644.1" rx="3" ry="3" fill="#999" stroke="#0e0e0e" stroke-width="1.5" transform="rotate(0 891.1 644.1)"/><ellipse cx="891.1" cy="644.1" rx="1.5" ry="1.5" fill="#777" stroke="#0e0e0e" stroke-width="1.0499999999999998" transform="rotate(0 891.1 644.1)"/>
<ellipse cx="917.8" cy="644.1" rx="3" ry="3" fill="#999" stroke="#0e0e0e" stroke-width="1.5" transform="rotate(0 917.8 644.1)"/><ellipse cx="917.8" cy="644.1" rx="1.5" ry="1.5" fill="#777" stroke="#0e0e0e" stroke-width="1.0499999999999998" transform="rotate(0 917.8 644.1)"/>
<path d="M935.6,910.1 Q935.6,902.7 943.8,902.4 L1110.6,895.5 L1110.6,1040.1 L935.6,1033.8 Z" fill="#ffffff" stroke="#141414" stroke-width="1.4" stroke-linejoin="round" />
<polygon points="936.8,973.1 1110.6,969.6 1110.6,1026.1 936.8,1023.3" fill="#c00000" stroke="#400" stroke-width="1" stroke-linejoin="round" />
<line x1="936.8" y1="996.4" x2="1110.6" y2="997.6" stroke="#500" stroke-width="1.2" />
<polygon points="1003.3,899.7 1110.6,895 1110.6,907.8 1003.3,905.5" fill="#c00000" stroke="#400" stroke-width="0.8" stroke-linejoin="round" />
<rect x="989.3" y="958" width="11.6" height="15.1" rx="0" fill="#a0a0a0" stroke="#141414" stroke-width="1" />
<rect x="1049.9" y="958" width="11.7" height="15.1" rx="0" fill="#c00000" stroke="#141414" stroke-width="1" />
<polygon points="979.9,901.5 1002.1,903.8 1003.3,913.2 981.1,923.7" fill="#a2a2a2" stroke="#111" stroke-width="2.2" stroke-linejoin="round" />
<rect x="993.9" y="913.2" width="10.5" height="8.1" rx="0" fill="#a8a8a8" stroke="#141414" stroke-width="0.9" />
<polygon points="1040.6,900.1 1062.7,902.4 1063.9,911.8 1041.7,922.3" fill="#a2a2a2" stroke="#111" stroke-width="2.2" stroke-linejoin="round" />
<rect x="1054.6" y="911.8" width="10.5" height="8.1" rx="0" fill="#a8a8a8" stroke="#141414" stroke-width="0.9" />
<polygon points="1096.6,898.5 1118.7,900.8 1119.9,910.1 1097.7,920.6" fill="#a2a2a2" stroke="#111" stroke-width="2.2" stroke-linejoin="round" />
<rect x="1110.6" y="910.1" width="10.4" height="8.2" rx="0" fill="#a8a8a8" stroke="#141414" stroke-width="0.9" />
<polygon points="961.3,962.6 984.6,974.3 968.3,994.1" fill="#a2a2a2" stroke="#111" stroke-width="2.2" stroke-linejoin="round" />
<circle cx="978.8" cy="973.1" r="2" fill="#444" stroke="#141414" stroke-width="0.5" />
<circle cx="968.3" cy="987.1" r="2" fill="#444" stroke="#141414" stroke-width="0.5" />
<path d="M945,972 Q952,962.6 961.3,963.8" fill="none" stroke="#111" stroke-width="2" stroke-linejoin="round" />
<polygon points="1019.6,963.8 1042.9,975.5 1026.6,995.3" fill="#a2a2a2" stroke="#111" stroke-width="2.2" stroke-linejoin="round" />
<circle cx="1037.1" cy="974.3" r="2" fill="#444" stroke="#141414" stroke-width="0.5" />
<circle cx="1026.6" cy="988.3" r="2" fill="#444" stroke="#141414" stroke-width="0.5" />
<path d="M1003.3,973.1 Q1010.3,963.8 1019.6,965" fill="none" stroke="#111" stroke-width="2" stroke-linejoin="round" />
<polygon points="1077.9,965 1101.2,976.6 1084.9,996.4" fill="#a2a2a2" stroke="#111" stroke-width="2.2" stroke-linejoin="round" />
<circle cx="1095.4" cy="975.5" r="2" fill="#444" stroke="#141414" stroke-width="0.5" />
<circle cx="1084.9" cy="989.4" r="2" fill="#444" stroke="#141414" stroke-width="0.5" />
<path d="M1061.6,974.3 Q1068.6,965 1077.9,966.1" fill="none" stroke="#111" stroke-width="2" stroke-linejoin="round" />
<polygon points="950.8,1002.3 965.9,1022.1 942.6,1031.4" fill="#a2a2a2" stroke="#111" stroke-width="2.2" stroke-linejoin="round" />
<circle cx="953.1" cy="1008.1" r="2" fill="#444" stroke="#141414" stroke-width="0.5" />
<circle cx="962.4" cy="1022.1" r="2" fill="#444" stroke="#141414" stroke-width="0.5" />
<rect x="955.5" y="1026.8" width="11.6" height="10.5" rx="0" fill="#a6a6a6" stroke="#141414" stroke-width="0.9" />
<polygon points="967.1,1024.4 979.9,1022.1 977.6,1032.6 967.1,1033.8" fill="#a2a2a2" stroke="#111" stroke-width="1.6" stroke-linejoin="round" />
<polygon points="1011.4,1004.6 1026.6,1024.4 1003.3,1033.8" fill="#a2a2a2" stroke="#111" stroke-width="2.2" stroke-linejoin="round" />
<circle cx="1013.8" cy="1010.4" r="2" fill="#444" stroke="#141414" stroke-width="0.5" />
<circle cx="1023.1" cy="1024.4" r="2" fill="#444" stroke="#141414" stroke-width="0.5" />
<rect x="1016.1" y="1029.1" width="11.7" height="10.5" rx="0" fill="#a6a6a6" stroke="#141414" stroke-width="0.9" />
<polygon points="1027.8,1026.8 1040.6,1024.4 1038.3,1034.9 1027.8,1036.1" fill="#a2a2a2" stroke="#111" stroke-width="1.6" stroke-linejoin="round" />
<polygon points="1072.1,1006.5 1087.2,1026.3 1063.9,1035.6" fill="#a2a2a2" stroke="#111" stroke-width="2.2" stroke-linejoin="round" />
<circle cx="1074.4" cy="1012.3" r="2" fill="#444" stroke="#141414" stroke-width="0.5" />
<circle cx="1083.7" cy="1026.3" r="2" fill="#444" stroke="#141414" stroke-width="0.5" />
<rect x="1076.7" y="1031" width="11.7" height="10.5" rx="0" fill="#a6a6a6" stroke="#141414" stroke-width="0.9" />
<polygon points="1088.4,1028.6 1101.2,1026.3 1098.9,1036.8 1088.4,1038" fill="#a2a2a2" stroke="#111" stroke-width="1.6" stroke-linejoin="round" />
<rect x="942.6" y="994.8" width="21" height="3.3" rx="0" fill="#ccc" stroke="#141414" stroke-width="0.6" />
<rect x="1003.3" y="994.8" width="21" height="3.3" rx="0" fill="#ccc" stroke="#141414" stroke-width="0.6" />
<rect x="1063.9" y="994.8" width="21" height="3.3" rx="0" fill="#ccc" stroke="#141414" stroke-width="0.6" />
<rect x="935.6" y="955.6" width="4.7" height="14" rx="0" fill="#a6a6a6" stroke="#141414" stroke-width="0.8" />
<circle cx="929.1" cy="864.7" r="4" fill="#8a8a8a" stroke="#111" stroke-width="1.5" /><circle cx="929.5" cy="864.7" r="2" fill="#a5a5a5" stroke="#1a1a1a" stroke-width="0.9" />
<circle cx="929.1" cy="924.1" r="4" fill="#8a8a8a" stroke="#111" stroke-width="1.5" /><circle cx="929.5" cy="924.1" r="2" fill="#a5a5a5" stroke="#1a1a1a" stroke-width="0.9" />
<circle cx="929.1" cy="983.6" r="4" fill="#8a8a8a" stroke="#111" stroke-width="1.5" /><circle cx="929.5" cy="983.6" r="2" fill="#a5a5a5" stroke="#1a1a1a" stroke-width="0.9" />
<circle cx="929.1" cy="1041.9" r="4" fill="#8a8a8a" stroke="#111" stroke-width="1.5" /><circle cx="929.5" cy="1041.9" r="2" fill="#a5a5a5" stroke="#1a1a1a" stroke-width="0.9" />
<polygon points="915.8,1051.3 1129.2,1045.4 1287.8,1032.6 1320,1032.6 1320,1093.2 1297.1,1095.6 1143.2,1163.2 915.8,1163.2" fill="#969696" stroke="none" stroke-width="0" stroke-linejoin="round" />
<polygon points="1129.2,1128.2 1290.1,1128.2 1290.1,1159.7 1129.2,1163.2" fill="#8a8a8a" stroke="none" stroke-width="0" stroke-linejoin="round" />
<polygon points="918.1,1052.4 1129.2,1046.6 1129.2,1058.3 1096.6,1062.9 918.1,1067.6" fill="#9b9b9b" stroke="#141414" stroke-width="1" stroke-linejoin="round" />
<polygon points="835.3,1075.7 918.1,1076.9 933.3,1081.6 1073.2,1081.6 1073.2,1149.2 889,1150.4 835.3,1149.2" fill="#8e8e8e" stroke="#141414" stroke-width="1" stroke-linejoin="round" />
<polygon points="934.5,1085.1 1073.2,1085.1 1073.2,1148 934.5,1148" fill="#6f6f6f" stroke="#141414" stroke-width="1" stroke-linejoin="round" />
<polygon points="934.5,1127.1 1073.2,1127.1 1073.2,1148 934.5,1148" fill="#7c7c7c" stroke="#141414" stroke-width="0.8" stroke-linejoin="round" />
<ellipse cx="976.4" cy="1111.9" rx="4" ry="5.5" fill="#8a8a8a" stroke="#141414" stroke-width="0.9" />
<polygon points="900.6,1080.4 933.3,1080.4 933.3,1151.5 900.6,1151.5" fill="#9a9a9a" stroke="#141414" stroke-width="1" stroke-linejoin="round" />
<circle cx="907.6" cy="1093.2" r="2" fill="#666" stroke="#141414" stroke-width="0.6" />
<circle cx="907.6" cy="1136.4" r="2" fill="#666" stroke="#141414" stroke-width="0.6" />
<polygon points="833,1096.7 1017.3,1101.4 1017.3,1104.4 833,1099.8" fill="#a5a5a5" stroke="#141414" stroke-width="0.9" stroke-linejoin="round" />
<polygon points="833,1076.9 886.6,1077.4 877.3,1116.6 868,1149.2 863.3,1149.2 875,1093.2" fill="#9c9c9c" stroke="#141414" stroke-width="0.9" stroke-linejoin="round" />
<polygon points="889,1148.7 1091.9,1145.7 1093.1,1158.5 905.3,1160.9" fill="#a0a0a0" stroke="#141414" stroke-width="1" stroke-linejoin="round" />
<polygon points="886.6,1160.9 1093.1,1158.5 1093.1,1180 886.6,1180" fill="#999" stroke="#141414" stroke-width="1" stroke-linejoin="round" />
<polygon points="878.5,1158.5 890.1,1160.9 883.1,1180 872.7,1180" fill="#8c8c8c" stroke="#141414" stroke-width="0.9" stroke-linejoin="round" />
<polygon points="1004.4,1053.6 1026.6,1053.6 1049.9,1090.9 1049.9,1114.2 1004.4,1114.2" fill="#a4a4a4" stroke="#141414" stroke-width="1" stroke-linejoin="round" />
<rect x="1012.6" y="1054.8" width="10.5" height="13.9" rx="0" fill="#1f9a2f" stroke="#0a4d12" stroke-width="0.9" />
<rect x="1012.6" y="1095.1" width="10.5" height="14.5" rx="0" fill="#1f9a2f" stroke="#0a4d12" stroke-width="0.9" />
<rect x="1004.4" y="1054.8" width="8.2" height="13.9" rx="0" fill="#b5b5b5" stroke="#141414" stroke-width="0.8" />
<line x1="1014.9" y1="1068.7" x2="1014.9" y2="1095.1" stroke="#141414" stroke-width="1" />
<polygon points="1031.3,1062.9 1126.9,1062.9 1139.7,1083.9 1139.7,1095.6 1049.9,1090.9" fill="#a0a0a0" stroke="#141414" stroke-width="1" stroke-linejoin="round" />
<polygon points="1069.7,1089.7 1136.2,1089.7 1136.2,1110.7 1119.9,1113.1 1082.6,1113.1 1069.7,1097.9" fill="#b4b7cf" stroke="#141414" stroke-width="1" stroke-linejoin="round" />
<circle cx="1130.4" cy="1093.2" r="4" fill="#ccc" stroke="#141414" stroke-width="0.8" />
<circle cx="1058.1" cy="1093.2" r="4" fill="#ccc" stroke="#141414" stroke-width="0.8" />
<polygon points="1051.1,1087.4 1069.7,1087.4 1069.7,1139.9 1065.1,1150.4 1059.2,1150.4 1059.2,1107.2 1051.1,1102.6" fill="#a8a8a8" stroke="#141414" stroke-width="1" stroke-linejoin="round" />
<ellipse cx="1111.7" cy="1132.9" rx="14" ry="22" fill="#b9bcd2" stroke="#141414" stroke-width="1" />
<ellipse cx="1094.2" cy="1123.6" rx="9" ry="11" fill="#8a8a8a" stroke="#141414" stroke-width="1" />
<ellipse cx="1094.2" cy="1123.6" rx="5" ry="6.5" fill="#c5c5c5" stroke="#141414" stroke-width="0.8" />
<polygon points="1017.3,1118.9 1049.9,1113.1 1063.9,1115.4 1063.9,1139.9 1049.9,1145.7 1021.9,1146.4" fill="#3a3a3a" stroke="#111" stroke-width="1.1" stroke-linejoin="round" />
<ellipse cx="1025.4" cy="1131.7" rx="10" ry="15" fill="#2e2e2e" stroke="#111" stroke-width="1" />
<polygon points="1133.9,1090.9 1284.3,1093.2 1297.1,1102.6 1298.3,1128.2 1284.3,1141 1130.4,1160.4 1126.9,1139.9 1126.9,1107.2" fill="#4a4a4a" stroke="#111" stroke-width="1.3" stroke-linejoin="round" />
<path d="M1131.5,1101.4 L1139.5,1101.9 L1140.9,1099.3 M1142.3,1100.5 L1150.2,1101 L1151.6,1098.4 M1153,1099.6 L1160.9,1100 L1162.3,1097.5 M1163.7,1098.7 L1171.7,1099.1 L1173.1,1096.6 M1174.5,1097.8 L1182.4,1098.2 L1183.8,1095.7 M1185.2,1096.8 L1193.1,1097.3 L1194.5,1094.7 M1195.9,1095.9 L1203.8,1096.4 L1205.2,1093.8 M1206.6,1095 L1214.6,1095.5 L1216,1092.9 M1217.4,1094.1 L1225.3,1094.6 L1226.7,1092 M1228.1,1093.2 L1236,1093.7 L1237.4,1091.1 M1238.8,1092.3 L1246.8,1092.7 L1248.2,1090.2 M1249.6,1091.4 L1257.5,1091.8 L1258.9,1089.3 M1260.3,1090.5 L1268.2,1090.9 L1269.6,1088.4 M1271,1089.5 L1279,1090 L1280.3,1087.4 M1281.7,1088.6 L1289.7,1089.1 L1291.1,1086.5" fill="none" stroke="#151515" stroke-width="1.3"/>
<path d="M1136.9,1110.7 L1144.8,1111.2 L1146.2,1108.6 M1147.6,1109.8 L1155.6,1110.3 L1157,1107.7 M1158.4,1108.9 L1166.3,1109.4 L1167.7,1106.8 M1169.1,1108 L1177,1108.5 L1178.4,1105.9 M1179.8,1107.1 L1187.8,1107.6 L1189.2,1105 M1190.6,1106.2 L1198.5,1106.6 L1199.9,1104.1 M1201.3,1105.3 L1209.2,1105.7 L1210.6,1103.2 M1212,1104.4 L1219.9,1104.8 L1221.3,1102.3 M1222.7,1103.4 L1230.7,1103.9 L1232.1,1101.3 M1233.5,1102.5 L1241.4,1103 L1242.8,1100.4 M1244.2,1101.6 L1252.1,1102.1 L1253.5,1099.5 M1254.9,1100.7 L1262.9,1101.2 L1264.3,1098.6 M1265.7,1099.8 L1273.6,1100.3 L1275,1097.7 M1276.4,1098.9 L1284.3,1099.4 L1285.7,1096.8 M1287.1,1098 L1295,1098.4 L1296.4,1095.9" fill="none" stroke="#151515" stroke-width="1.3"/>
<path d="M1131.5,1121 L1139.5,1121.5 L1140.9,1118.9 M1142.3,1120.1 L1150.2,1120.5 L1151.6,1118 M1153,1119.2 L1160.9,1119.6 L1162.3,1117.1 M1163.7,1118.3 L1171.7,1118.7 L1173.1,1116.2 M1174.5,1117.3 L1182.4,1117.8 L1183.8,1115.2 M1185.2,1116.4 L1193.1,1116.9 L1194.5,1114.3 M1195.9,1115.5 L1203.8,1116 L1205.2,1113.4 M1206.6,1114.6 L1214.6,1115.1 L1216,1112.5 M1217.4,1113.7 L1225.3,1114.2 L1226.7,1111.6 M1228.1,1112.8 L1236,1113.3 L1237.4,1110.7 M1238.8,1111.9 L1246.8,1112.3 L1248.2,1109.8 M1249.6,1111 L1257.5,1111.4 L1258.9,1108.9 M1260.3,1110 L1268.2,1110.5 L1269.6,1107.9 M1271,1109.1 L1279,1109.6 L1280.3,1107 M1281.7,1108.2 L1289.7,1108.7 L1291.1,1106.1" fill="none" stroke="#151515" stroke-width="1.3"/>
<path d="M1136.9,1130.3 L1144.8,1130.8 L1146.2,1128.2 M1147.6,1129.4 L1155.6,1129.9 L1157,1127.3 M1158.4,1128.5 L1166.3,1129 L1167.7,1126.4 M1169.1,1127.6 L1177,1128.1 L1178.4,1125.5 M1179.8,1126.7 L1187.8,1127.1 L1189.2,1124.6 M1190.6,1125.8 L1198.5,1126.2 L1199.9,1123.7 M1201.3,1124.9 L1209.2,1125.3 L1210.6,1122.8 M1212,1123.9 L1219.9,1124.4 L1221.3,1121.8 M1222.7,1123 L1230.7,1123.5 L1232.1,1120.9 M1233.5,1122.1 L1241.4,1122.6 L1242.8,1120 M1244.2,1121.2 L1252.1,1121.7 L1253.5,1119.1 M1254.9,1120.3 L1262.9,1120.8 L1264.3,1118.2 M1265.7,1119.4 L1273.6,1119.9 L1275,1117.3 M1276.4,1118.5 L1284.3,1118.9 L1285.7,1116.4 M1287.1,1117.6 L1295,1118 L1296.4,1115.5" fill="none" stroke="#151515" stroke-width="1.3"/>
<path d="M1131.5,1140.6 L1139.5,1141 L1140.9,1138.5 M1142.3,1139.7 L1150.2,1140.1 L1151.6,1137.6 M1153,1138.8 L1160.9,1139.2 L1162.3,1136.7 M1163.7,1137.8 L1171.7,1138.3 L1173.1,1135.7 M1174.5,1136.9 L1182.4,1137.4 L1183.8,1134.8 M1185.2,1136 L1193.1,1136.5 L1194.5,1133.9 M1195.9,1135.1 L1203.8,1135.6 L1205.2,1133 M1206.6,1134.2 L1214.6,1134.7 L1216,1132.1 M1217.4,1133.3 L1225.3,1133.8 L1226.7,1131.2 M1228.1,1132.4 L1236,1132.8 L1237.4,1130.3 M1238.8,1131.5 L1246.8,1131.9 L1248.2,1129.4 M1249.6,1130.6 L1257.5,1131 L1258.9,1128.5 M1260.3,1129.6 L1268.2,1130.1 L1269.6,1127.5 M1271,1128.7 L1279,1129.2 L1280.3,1126.6 M1281.7,1127.8 L1289.7,1128.3 L1291.1,1125.7" fill="none" stroke="#151515" stroke-width="1.3"/>
<path d="M1136.9,1149.9 L1144.8,1150.4 L1146.2,1147.8 M1147.6,1149 L1155.6,1149.5 L1157,1146.9 M1158.4,1148.1 L1166.3,1148.6 L1167.7,1146 M1169.1,1147.2 L1177,1147.7 L1178.4,1145.1 M1179.8,1146.3 L1187.8,1146.7 L1189.2,1144.2 M1190.6,1145.4 L1198.5,1145.8 L1199.9,1143.3 M1201.3,1144.5 L1209.2,1144.9 L1210.6,1142.4 M1212,1143.5 L1219.9,1144 L1221.3,1141.4 M1222.7,1142.6 L1230.7,1143.1 L1232.1,1140.5 M1233.5,1141.7 L1241.4,1142.2 L1242.8,1139.6 M1244.2,1140.8 L1252.1,1141.3 L1253.5,1138.7 M1254.9,1139.9 L1262.9,1140.4 L1264.3,1137.8 M1265.7,1139 L1273.6,1139.4 L1275,1136.9 M1276.4,1138.1 L1284.3,1138.5 L1285.7,1136 M1287.1,1137.2 L1295,1137.6 L1296.4,1135.1" fill="none" stroke="#151515" stroke-width="1.3"/>
<polygon points="1297.1,1107.2 1306.5,1104.9 1308.8,1128.2 1299,1135.2" fill="#b4b7cf" stroke="#141414" stroke-width="0.9" stroke-linejoin="round" />
<ellipse cx="1313.5" cy="1124.7" rx="7" ry="11" fill="#555" stroke="#141414" stroke-width="0.9" />
<polygon points="1110.6,1041.9 1264.5,1032.6 1287.8,1032.6 1287.8,1076.9 1131.5,1071.1 1110.6,1058.3" fill="#9a9a9a" stroke="#141414" stroke-width="0.9" stroke-linejoin="round" />
<polygon points="1129.2,1044.3 1143.2,1044.3 1143.2,1069.9 1129.2,1069.9" fill="#a4a4a4" stroke="#141414" stroke-width="0.8" stroke-linejoin="round" />
<polygon points="1129.2,1046.6 1185.2,1046.6 1185.2,1069.9 1129.2,1069.9" fill="#9a9a9a" stroke="#141414" stroke-width="0.9" stroke-linejoin="round" />
<polygon points="1273.8,1058.3 1320,1058.3 1320,1075.7 1273.8,1073.4" fill="#9c9c9c" stroke="#141414" stroke-width="0.9" stroke-linejoin="round" />
<clipPath id="wclip"><rect x="1150" y="1000" width="200" height="73.4"/></clipPath><g clip-path="url(#wclip)">
<ellipse cx="1231.8" cy="1065.2" rx="46" ry="41" fill="#3c3c3c" stroke="#111" stroke-width="1.2" />
<ellipse cx="1235.3" cy="1066.4" rx="35" ry="31" fill="#454545" stroke="#111" stroke-width="1" />
<ellipse cx="1240" cy="1067.6" rx="21" ry="19" fill="#3a3a3a" stroke="#111" stroke-width="1" />
<circle cx="1215.5" cy="1054.8" r="2" fill="#222" stroke="#141414" stroke-width="0" />
<circle cx="1242.3" cy="1053.6" r="2" fill="#222" stroke="#141414" stroke-width="0" />
<circle cx="1264.5" cy="1053.6" r="2" fill="#222" stroke="#141414" stroke-width="0" />
</g>
<polygon points="1131.5,1069.9 1320,1074.6 1320,1090.9 1313.5,1093.2 1140.9,1089.7" fill="#9e9e9e" stroke="#141414" stroke-width="1" stroke-linejoin="round" />
<polygon points="1140.9,1079.2 1250.5,1081.6 1250.5,1086.7 1140.9,1084.4" fill="#a9a9a9" stroke="#141414" stroke-width="0.9" stroke-linejoin="round" />
<ellipse cx="1286.6" cy="1066.4" rx="5.5" ry="7.5" fill="#aaa" stroke="#141414" stroke-width="0.9" /></g>
<g id="tank_tank"><polygon points="482.7,1003.5 567.4,1003.5 567.4,1157.5 482.7,1157.5" fill="#ffffff" stroke="none" stroke-width="0" stroke-linejoin="round" />
<polygon points="514.9,1000 567.4,1000 567.4,1157.5 535.9,1157.5 528.9,1115.5 514.9,1070" fill="#9a9a9a" stroke="#141414" stroke-width="1" stroke-linejoin="round" />
<polygon points="521.9,1003.5 553.4,1003.5 553.4,1070 521.9,1070" fill="#a6a6a6" stroke="#141414" stroke-width="1" stroke-linejoin="round" />
<rect x="521.2" y="1036.7" width="11.2" height="15.8" rx="0" fill="#1f9a2f" stroke="#0a4d12" stroke-width="0.9" />
<ellipse cx="497.4" cy="1043.7" rx="9" ry="7" fill="#b5b5b5" stroke="#141414" stroke-width="1" />
<ellipse cx="493.2" cy="1043.7" rx="4" ry="5" fill="#999" stroke="#141414" stroke-width="0.8" />
<polygon points="549.9,1070 567.4,1070 567.4,1147 549.9,1147 544.7,1115.5" fill="#8a8a8a" stroke="#141414" stroke-width="1" stroke-linejoin="round" />
<line x1="546.4" y1="1091" x2="567.4" y2="1091" stroke="#141414" stroke-width="0.8" />
<line x1="546.4" y1="1105" x2="567.4" y2="1105" stroke="#141414" stroke-width="0.8" />
<line x1="546.4" y1="1119" x2="567.4" y2="1119" stroke="#141414" stroke-width="0.8" />
<rect x="452.6" y="944" width="30.1" height="215.2" rx="0" fill="#c00000" stroke="#400" stroke-width="1" /><line x1="467.7" y1="944" x2="467.7" y2="1159.2" stroke="#500" stroke-width="1" />
<path d="M493.9,1061.2 L525.4,1057.7 A21,43.7 0 0 1 525.4,1145.2 L493.9,1145.2 Z" fill="#b2b2b2" stroke="#141414" stroke-width="1.1" stroke-linejoin="round" />
<path d="M514.9,1058.8 A17.5,43 0 0 1 514.9,1144.9" fill="none" stroke="#141414" stroke-width="0.8" stroke-linejoin="round" />
<polygon points="525.4,1140 556.9,1138.2 556.9,1154 525.4,1155.7" fill="#a2a2a2" stroke="#141414" stroke-width="0.9" stroke-linejoin="round" />
<path d="M447.7,1158.2 L447.7,1087.5 Q451.9,1057.7 479.9,1056 Q507.9,1061.2 511.4,1105 L511.4,1158.2 Z" fill="#c00000" stroke="#400" stroke-width="1.1" stroke-linejoin="round" />
<ellipse cx="464.9" cy="1103.2" rx="32.5" ry="37.8" fill="#a9a9a9" stroke="#141414" stroke-width="1.2" />
<ellipse cx="461.9" cy="1103.2" rx="28" ry="33.6" fill="#b4b4b4" stroke="#141414" stroke-width="1" />
<circle cx="493.298" cy="1112.16" r="3.6" fill="#3a3a3a" stroke="#0c0c0c" stroke-width="0.9" />
<circle cx="492.098" cy="1112.16" r="2.2" fill="#9a9a9a" stroke="#111" stroke-width="0.7" />
<circle cx="485.689" cy="1127.67" r="3.6" fill="#3a3a3a" stroke="#0c0c0c" stroke-width="0.9" />
<circle cx="484.489" cy="1127.67" r="2.2" fill="#9a9a9a" stroke="#111" stroke-width="0.7" />
<circle cx="472.509" cy="1136.62" r="3.6" fill="#3a3a3a" stroke="#0c0c0c" stroke-width="0.9" />
<circle cx="471.309" cy="1136.62" r="2.2" fill="#9a9a9a" stroke="#111" stroke-width="0.7" />
<circle cx="457.291" cy="1136.62" r="3.6" fill="#3a3a3a" stroke="#0c0c0c" stroke-width="0.9" />
<circle cx="456.091" cy="1136.62" r="2.2" fill="#9a9a9a" stroke="#111" stroke-width="0.7" />
<circle cx="444.111" cy="1127.67" r="3.6" fill="#3a3a3a" stroke="#0c0c0c" stroke-width="0.9" />
<circle cx="442.911" cy="1127.67" r="2.2" fill="#9a9a9a" stroke="#111" stroke-width="0.7" />
<circle cx="436.502" cy="1112.16" r="3.6" fill="#3a3a3a" stroke="#0c0c0c" stroke-width="0.9" />
<circle cx="435.302" cy="1112.16" r="2.2" fill="#9a9a9a" stroke="#111" stroke-width="0.7" />
<circle cx="436.502" cy="1094.24" r="3.6" fill="#3a3a3a" stroke="#0c0c0c" stroke-width="0.9" />
<circle cx="435.302" cy="1094.24" r="2.2" fill="#9a9a9a" stroke="#111" stroke-width="0.7" />
<circle cx="444.111" cy="1078.73" r="3.6" fill="#3a3a3a" stroke="#0c0c0c" stroke-width="0.9" />
<circle cx="442.911" cy="1078.73" r="2.2" fill="#9a9a9a" stroke="#111" stroke-width="0.7" />
<circle cx="457.291" cy="1069.78" r="3.6" fill="#3a3a3a" stroke="#0c0c0c" stroke-width="0.9" />
<circle cx="456.091" cy="1069.78" r="2.2" fill="#9a9a9a" stroke="#111" stroke-width="0.7" />
<circle cx="472.509" cy="1069.78" r="3.6" fill="#3a3a3a" stroke="#0c0c0c" stroke-width="0.9" />
<circle cx="471.309" cy="1069.78" r="2.2" fill="#9a9a9a" stroke="#111" stroke-width="0.7" />
<circle cx="485.689" cy="1078.73" r="3.6" fill="#3a3a3a" stroke="#0c0c0c" stroke-width="0.9" />
<circle cx="484.489" cy="1078.73" r="2.2" fill="#9a9a9a" stroke="#111" stroke-width="0.7" />
<circle cx="493.298" cy="1094.24" r="3.6" fill="#3a3a3a" stroke="#0c0c0c" stroke-width="0.9" />
<circle cx="492.098" cy="1094.24" r="2.2" fill="#9a9a9a" stroke="#111" stroke-width="0.7" />
<ellipse cx="458.9" cy="1103.2" rx="16.8" ry="20.3" fill="#a2a2a2" stroke="#141414" stroke-width="1" />
<ellipse cx="454.9" cy="1103.2" rx="10.5" ry="12.6" fill="#c4c4c4" stroke="#141414" stroke-width="1" />
<rect x="421.2" y="1096.9" width="30.7" height="14.4" rx="0" fill="#a0a0a0" stroke="#141414" stroke-width="1" />
<ellipse cx="422.6" cy="1103.9" rx="3" ry="7" fill="#bbb" stroke="#141414" stroke-width="0.9" />
<ellipse cx="452.9" cy="1103.2" rx="6.3" ry="7.7" fill="#b0b0b0" stroke="#141414" stroke-width="0.9" />
<polygon points="633.9,1000 720.3,1000 720.3,1154 633.9,1154" fill="#9a9a9a" stroke="none" stroke-width="0" stroke-linejoin="round" />
<rect x="635.7" y="1029.7" width="34.9" height="113.8" rx="0" fill="#a2a2a2" stroke="#141414" stroke-width="1.2" />
<polygon points="635.7,1029.7 670.6,1029.7 681.1,1024.5 644.4,1024.5" fill="#acacac" stroke="#141414" stroke-width="0.9" stroke-linejoin="round" />
<rect x="614.7" y="1142.8" width="75.2" height="21" rx="0" fill="#9e9e9e" stroke="#141414" stroke-width="1.2" />
<circle cx="624.1" cy="1152.2" r="3.8" fill="#8a8a8a" stroke="#111" stroke-width="1.5" /><circle cx="624.5" cy="1152.2" r="1.9" fill="#a5a5a5" stroke="#1a1a1a" stroke-width="0.9" />
<circle cx="680.1" cy="1152.2" r="3.8" fill="#8a8a8a" stroke="#111" stroke-width="1.5" /><circle cx="680.5" cy="1152.2" r="1.9" fill="#a5a5a5" stroke="#1a1a1a" stroke-width="0.9" />
<path d="M654.9,1040.2 Q645.1,1038.5 645.1,1052.5 L646.2,1157.5 Q646.2,1178.5 638.1,1182.7" fill="none" stroke="#222" stroke-width="7.5" stroke-linejoin="round" />
<path d="M654.9,1040.2 Q645.1,1038.5 645.1,1052.5 L646.2,1157.5 Q646.2,1178.5 638.1,1182.7" fill="none" stroke="#a8a8a8" stroke-width="5.3" stroke-linejoin="round" />
<circle cx="635.7" cy="1185.5" r="6.5" fill="#a8a8a8" stroke="#141414" stroke-width="1.2" />
<circle cx="635.7" cy="1185.5" r="3.6" fill="#999" stroke="#141414" stroke-width="0.8" />
<polygon points="672.4,1068.2 714.4,1068.2 714.4,1143.5 672.4,1143.5" fill="#a0a0a0" stroke="#141414" stroke-width="1" stroke-linejoin="round" />
<ellipse cx="687.1" cy="1087.5" rx="8" ry="11" fill="#8a8a8a" stroke="#141414" stroke-width="1.1" />
<ellipse cx="687.1" cy="1087.5" rx="5" ry="7.5" fill="#c0c0c0" stroke="#141414" stroke-width="0.8" />
<polygon points="681.1,1036.7 717.9,1036.7 717.9,1064.7 681.1,1064.7" fill="#6e6e6e" stroke="#141414" stroke-width="1" stroke-linejoin="round" />
<ellipse cx="702.8" cy="1050.7" rx="7" ry="9" fill="#ddd" stroke="#141414" stroke-width="1" />
<ellipse cx="688.1" cy="1050.7" rx="7" ry="13" fill="#555" stroke="#141414" stroke-width="1" />
<polygon points="598.9,1071.7 633.9,1066.5 633.9,1126 598.9,1126" fill="#9c9c9c" stroke="#141414" stroke-width="1" stroke-linejoin="round" />
<polygon points="609.4,1075.2 631.1,1080.5 631.1,1115.5 616.4,1122.5 607.7,1105" fill="#a8a8a8" stroke="#141414" stroke-width="1" stroke-linejoin="round" />
<ellipse cx="619.2" cy="1098" rx="6" ry="9" fill="#8a8a8a" stroke="#141414" stroke-width="1" />
<polygon points="756.4,1010.5 794.9,1010.5 794.9,1019.2 756.4,1019.2" fill="#a5a5a5" stroke="#141414" stroke-width="0.8" stroke-linejoin="round" />
<polygon points="773.9,1010.5 787.9,1010.5 787.9,1105 773.9,1105" fill="#a9a9a9" stroke="#141414" stroke-width="1" stroke-linejoin="round" />
<rect x="774.6" y="1044.8" width="12.6" height="15.4" rx="0" fill="#1f9a2f" stroke="#0a4d12" stroke-width="0.9" />
<rect x="774.6" y="1085" width="12.6" height="15.4" rx="0" fill="#1f9a2f" stroke="#0a4d12" stroke-width="0.9" />
<path d="M791.4,1038.5 A15.7,15.7 0 0 1 791.4,1070" fill="none" stroke="#222" stroke-width="4" stroke-linejoin="round" />
<path d="M791.4,1038.5 A15.7,15.7 0 0 1 791.4,1070" fill="none" stroke="#aaa" stroke-width="2.4" stroke-linejoin="round" />
<polygon points="780.9,1089.2 1001.3,1101.5 1001.3,1105 780.9,1093.8" fill="#a8a8a8" stroke="#141414" stroke-width="0.8" stroke-linejoin="round" />
<polygon points="689.9,1073.5 920.8,1080.5 920.8,1083.3 689.9,1076.3" fill="#a0a0a0" stroke="#141414" stroke-width="0.7" stroke-linejoin="round" />
<rect x="598.9" y="944" width="35" height="217.7" rx="0" fill="#c00000" stroke="#400" stroke-width="1" /><line x1="616.4" y1="944" x2="616.4" y2="1161.7" stroke="#500" stroke-width="1" />
<polygon points="444.9,1158.2 612.9,1158.2 612.9,1163.1 444.9,1163.1" fill="#c00000" stroke="#400" stroke-width="0.9" stroke-linejoin="round" />
<rect x="567.4" y="944" width="31.5" height="218.7" rx="0" fill="#c00000" stroke="#400" stroke-width="1" /><line x1="583.2" y1="944" x2="583.2" y2="1162.7" stroke="#500" stroke-width="1" />
<polygon points="689.9,1152.9 766.9,1152.9 766.9,1159.2 689.9,1159.2" fill="#c00000" stroke="#400" stroke-width="0.9" stroke-linejoin="round" />
<rect x="720.3" y="944" width="36.1" height="210" rx="0" fill="#c00000" stroke="#400" stroke-width="1" /><line x1="738.9" y1="944" x2="738.9" y2="1154" stroke="#500" stroke-width="1" />
<polygon points="439,603 762,600 762,943 442,946" fill="#c00000" stroke="#300" stroke-width="1.3" stroke-linejoin="round" />
<polygon points="437,599.5 763,598.5 763,605.5 437,608" fill="#c81010" stroke="#300" stroke-width="1" stroke-linejoin="round" />
<polygon points="440,940 763,937 763,946 440,949" fill="#b40000" stroke="#300" stroke-width="1" stroke-linejoin="round" />
<line x1="593.6" y1="606" x2="593.6" y2="944" stroke="#3a0000" stroke-width="1.4" />
<line x1="596" y1="606" x2="596" y2="944" stroke="#7a0000" stroke-width="0.8" />
<rect x="462" y="590" width="39" height="14" rx="2" fill="#c00000" stroke="#300" stroke-width="1" />
<rect x="467" y="573" width="30" height="17" rx="3" fill="#6a6a6a" stroke="#111" stroke-width="1" />
<rect x="471" y="575" width="4" height="9" rx="2" fill="#ddd" stroke="#111" stroke-width="0.6" />
<rect x="477" y="575" width="4" height="9" rx="2" fill="#ddd" stroke="#111" stroke-width="0.6" />
<rect x="483" y="575" width="4" height="9" rx="2" fill="#ddd" stroke="#111" stroke-width="0.6" />
<rect x="489" y="575" width="4" height="9" rx="2" fill="#ddd" stroke="#111" stroke-width="0.6" />
<path d="M551.7,601.2 L562.2,600.2 Q570.9,580.2 579.7,600.2 L588.4,599.5" fill="none" stroke="#300" stroke-width="6" stroke-linejoin="round" />
<path d="M551.7,601.2 L562.2,600.2 Q570.9,580.2 579.7,600.2 L588.4,599.5" fill="none" stroke="#c00000" stroke-width="4" stroke-linejoin="round" />
<circle cx="517.4" cy="663" r="11" fill="#b00000" stroke="#300" stroke-width="1" />
<circle cx="517.4" cy="663" r="7.5" fill="#888" stroke="#222" stroke-width="1" />
<circle cx="517.4" cy="663" r="4" fill="#aaa08a" stroke="#333" stroke-width="0.8" />
<ellipse cx="695" cy="717" rx="6.5" ry="8" fill="#900" stroke="#300" stroke-width="1" />
<ellipse cx="695" cy="717" rx="4" ry="5.5" fill="#222" stroke="#000" stroke-width="0.6" />
<circle cx="518.3" cy="869.4" r="37.5" fill="#8f8983" stroke="#222" stroke-width="1.3" />
<circle cx="518.3" cy="869.4" r="28" fill="#9b958e" stroke="#333" stroke-width="1" />
<circle cx="518.3" cy="869.4" r="4.5" fill="#eee" stroke="#222" stroke-width="1" />
<circle cx="518.3" cy="869.4" r="2" fill="#888" stroke="none" stroke-width="0" />
<rect x="433" y="858" width="8" height="22" rx="0" fill="#888" stroke="#141414" stroke-width="0.8" />
<rect x="698.6" y="606.5" width="52.5" height="12.2" rx="2" fill="#2c2c2c" stroke="#111" stroke-width="0.8" />
<rect x="708.6" y="607.5" width="14" height="10.2" rx="0" fill="#bbb" stroke="#141414" stroke-width="0.6" />
<rect x="733.1" y="607.5" width="15" height="10.2" rx="0" fill="#bbb" stroke="#141414" stroke-width="0.6" />
<rect x="711.6" y="619.8" width="16.1" height="11.1" rx="0" fill="#c00000" stroke="#300" stroke-width="0.9" />
<rect x="689.5" y="914" width="38" height="11" rx="2" fill="#2c2c2c" stroke="#111" stroke-width="0.8" />
<rect x="697.5" y="927" width="53" height="13" rx="2" fill="#2c2c2c" stroke="#111" stroke-width="0.8" />
<rect x="701.5" y="915" width="8" height="9" rx="0" fill="#bbb" stroke="#141414" stroke-width="0.5" />
<rect x="715.5" y="915" width="8" height="9" rx="0" fill="#bbb" stroke="#141414" stroke-width="0.5" />
<rect x="711.5" y="928" width="10" height="11" rx="0" fill="#bbb" stroke="#141414" stroke-width="0.5" />
<rect x="736.5" y="928" width="11" height="11" rx="0" fill="#bbb" stroke="#141414" stroke-width="0.5" />
<polygon points="585.7,597.9 616.5,550.8 621.4,546.3 637.9,542.3 652.7,541 671.9,555.7 665.2,597.9" fill="#808080" stroke="#0e0e0e" stroke-width="1.4" stroke-linejoin="round" />
<polygon points="616.5,550.8 621.4,546.3 637.9,542.3 644.6,546.8 626.8,555.7" fill="#9a9a9a" stroke="#0e0e0e" stroke-width="1.1" stroke-linejoin="round" />
<polygon points="607.2,569 590.4,554.9 595.5,548.9 612.2,562.9" fill="#8e8e8e" stroke="#0e0e0e" stroke-width="1.3" stroke-linejoin="round" /><polygon points="591.6,553.5 585.6,548.4 588.3,545.3 594.3,550.3" fill="#2b2b2b" stroke="#0e0e0e" stroke-width="1" stroke-linejoin="round" /><polygon points="590.7,553.4 589.8,552.6 593.1,548.7 594.1,549.5" fill="#3a3a3a" stroke="#0e0e0e" stroke-width="0.8" stroke-linejoin="round" />
<polygon points="599.2,579.2 582.4,565.2 587.5,559.2 604.2,573.2" fill="#8e8e8e" stroke="#0e0e0e" stroke-width="1.3" stroke-linejoin="round" /><polygon points="583.6,563.7 577.6,558.7 580.2,555.5 586.2,560.6" fill="#2b2b2b" stroke="#0e0e0e" stroke-width="1" stroke-linejoin="round" /><polygon points="582.7,563.7 581.8,562.9 585.1,558.9 586,559.7" fill="#3a3a3a" stroke="#0e0e0e" stroke-width="0.8" stroke-linejoin="round" />
<polygon points="591.6,589.1 574.8,575 579.9,569 596.6,583" fill="#8e8e8e" stroke="#0e0e0e" stroke-width="1.3" stroke-linejoin="round" /><polygon points="576,573.6 570,568.5 572.6,565.4 578.7,570.4" fill="#2b2b2b" stroke="#0e0e0e" stroke-width="1" stroke-linejoin="round" /><polygon points="575.1,573.5 574.2,572.7 577.5,568.7 578.5,569.5" fill="#3a3a3a" stroke="#0e0e0e" stroke-width="0.8" stroke-linejoin="round" />
<polygon points="584,599.3 567.2,585.3 572.3,579.2 589,593.3" fill="#8e8e8e" stroke="#0e0e0e" stroke-width="1.3" stroke-linejoin="round" /><polygon points="568.4,583.8 562.4,578.8 565,575.6 571.1,580.7" fill="#2b2b2b" stroke="#0e0e0e" stroke-width="1" stroke-linejoin="round" /><polygon points="567.5,583.8 566.6,583 569.9,579 570.9,579.8" fill="#3a3a3a" stroke="#0e0e0e" stroke-width="0.8" stroke-linejoin="round" />
<polygon points="648.7,547 642.5,541.8 646,537.7 652.1,542.9" fill="#555" stroke="#0e0e0e" stroke-width="1.3" stroke-linejoin="round" /><polygon points="643.1,541.1 638.3,537.1 640.6,534.4 645.4,538.4" fill="#2b2b2b" stroke="#0e0e0e" stroke-width="1" stroke-linejoin="round" /><polygon points="642.2,541.1 641.2,540.3 644.2,536.7 645.2,537.5" fill="#3a3a3a" stroke="#0e0e0e" stroke-width="0.8" stroke-linejoin="round" />
<ellipse cx="633" cy="549.9" rx="4.6" ry="2.5" fill="#8a8a8a" stroke="#0e0e0e" stroke-width="1.6" transform="rotate(-35 633.0 549.9)"/><ellipse cx="633" cy="549.9" rx="2.3" ry="1.2" fill="#777" stroke="#0e0e0e" stroke-width="1.1199999999999999" transform="rotate(-35 633.0 549.9)"/>
<ellipse cx="642" cy="548.6" rx="4.6" ry="2.5" fill="#8a8a8a" stroke="#0e0e0e" stroke-width="1.6" transform="rotate(-35 642.0 548.6)"/><ellipse cx="642" cy="548.6" rx="2.3" ry="1.2" fill="#777" stroke="#0e0e0e" stroke-width="1.1199999999999999" transform="rotate(-35 642.0 548.6)"/>
<ellipse cx="622.3" cy="562.9" rx="4.6" ry="2.5" fill="#8a8a8a" stroke="#0e0e0e" stroke-width="1.6" transform="rotate(-35 622.3 562.9)"/><ellipse cx="622.3" cy="562.9" rx="2.3" ry="1.2" fill="#777" stroke="#0e0e0e" stroke-width="1.1199999999999999" transform="rotate(-35 622.3 562.9)"/>
<ellipse cx="630.8" cy="562" rx="4.6" ry="2.5" fill="#8a8a8a" stroke="#0e0e0e" stroke-width="1.6" transform="rotate(-35 630.8 562.0)"/><ellipse cx="630.8" cy="562" rx="2.3" ry="1.2" fill="#777" stroke="#0e0e0e" stroke-width="1.1199999999999999" transform="rotate(-35 630.8 562.0)"/>
<ellipse cx="626.8" cy="573.6" rx="4.6" ry="2.5" fill="#8a8a8a" stroke="#0e0e0e" stroke-width="1.6" transform="rotate(-35 626.8 573.6)"/><ellipse cx="626.8" cy="573.6" rx="2.3" ry="1.2" fill="#777" stroke="#0e0e0e" stroke-width="1.1199999999999999" transform="rotate(-35 626.8 573.6)"/>
<ellipse cx="616.1" cy="572.7" rx="4.6" ry="2.5" fill="#8a8a8a" stroke="#0e0e0e" stroke-width="1.6" transform="rotate(-35 616.1 572.7)"/><ellipse cx="616.1" cy="572.7" rx="2.3" ry="1.2" fill="#777" stroke="#0e0e0e" stroke-width="1.1199999999999999" transform="rotate(-35 616.1 572.7)"/>
<ellipse cx="607.1" cy="582.5" rx="4.6" ry="2.5" fill="#8a8a8a" stroke="#0e0e0e" stroke-width="1.6" transform="rotate(-35 607.1 582.5)"/><ellipse cx="607.1" cy="582.5" rx="2.3" ry="1.2" fill="#777" stroke="#0e0e0e" stroke-width="1.1199999999999999" transform="rotate(-35 607.1 582.5)"/>
<ellipse cx="618.8" cy="582.5" rx="4.6" ry="2.5" fill="#8a8a8a" stroke="#0e0e0e" stroke-width="1.6" transform="rotate(-35 618.8 582.5)"/><ellipse cx="618.8" cy="582.5" rx="2.3" ry="1.2" fill="#777" stroke="#0e0e0e" stroke-width="1.1199999999999999" transform="rotate(-35 618.8 582.5)"/>
<ellipse cx="600" cy="592.3" rx="4.6" ry="2.5" fill="#8a8a8a" stroke="#0e0e0e" stroke-width="1.6" transform="rotate(-35 600.0 592.3)"/><ellipse cx="600" cy="592.3" rx="2.3" ry="1.2" fill="#777" stroke="#0e0e0e" stroke-width="1.1199999999999999" transform="rotate(-35 600.0 592.3)"/>
<ellipse cx="612.5" cy="592.3" rx="4.6" ry="2.5" fill="#8a8a8a" stroke="#0e0e0e" stroke-width="1.6" transform="rotate(-35 612.5 592.3)"/><ellipse cx="612.5" cy="592.3" rx="2.3" ry="1.2" fill="#777" stroke="#0e0e0e" stroke-width="1.1199999999999999" transform="rotate(-35 612.5 592.3)"/>
<ellipse cx="639.3" cy="562.9" rx="4.6" ry="2.5" fill="#8a8a8a" stroke="#0e0e0e" stroke-width="1.6" transform="rotate(-35 639.3 562.9)"/><ellipse cx="639.3" cy="562.9" rx="2.3" ry="1.2" fill="#777" stroke="#0e0e0e" stroke-width="1.1199999999999999" transform="rotate(-35 639.3 562.9)"/>
<polygon points="643,564.8 651.6,554.5 657,559.1 648.4,569.4" fill="#8c8c8c" stroke="#0e0e0e" stroke-width="1.3" stroke-linejoin="round" /><polygon points="654.3,556.8 654.3,556.8 654.3,556.8 654.3,556.8" fill="#2b2b2b" stroke="#0e0e0e" stroke-width="1" stroke-linejoin="round" /><polygon points="654.4,555.9 655.2,555 656,555.7 655.2,556.6" fill="#3a3a3a" stroke="#0e0e0e" stroke-width="0.8" stroke-linejoin="round" />
<polygon points="635.8,575.5 644.4,565.3 649.9,569.8 641.3,580.1" fill="#8c8c8c" stroke="#0e0e0e" stroke-width="1.3" stroke-linejoin="round" /><polygon points="647.2,567.5 647.2,567.5 647.2,567.5 647.2,567.5" fill="#2b2b2b" stroke="#0e0e0e" stroke-width="1" stroke-linejoin="round" /><polygon points="647.2,566.7 648,565.7 648.8,566.4 648,567.3" fill="#3a3a3a" stroke="#0e0e0e" stroke-width="0.8" stroke-linejoin="round" />
<polygon points="628.7,586.2 637.3,576 642.8,580.6 634.1,590.8" fill="#8c8c8c" stroke="#0e0e0e" stroke-width="1.3" stroke-linejoin="round" /><polygon points="640,578.3 640,578.3 640,578.3 640,578.3" fill="#2b2b2b" stroke="#0e0e0e" stroke-width="1" stroke-linejoin="round" /><polygon points="640.1,577.4 640.9,576.4 641.7,577.1 640.9,578.1" fill="#3a3a3a" stroke="#0e0e0e" stroke-width="0.8" stroke-linejoin="round" />
<ellipse cx="662.1" cy="555.7" rx="4.9" ry="6.7" fill="#7a7a7a" stroke="#0e0e0e" stroke-width="1.8" transform="rotate(20 662.1 555.7)"/><ellipse cx="662.1" cy="555.7" rx="2.5" ry="3.3" fill="#777" stroke="#0e0e0e" stroke-width="1.26" transform="rotate(20 662.1 555.7)"/>
<ellipse cx="652.7" cy="577.1" rx="3.6" ry="2.1" fill="#666" stroke="#0e0e0e" stroke-width="1.6" transform="rotate(-35 652.7 577.1)"/>
<ellipse cx="648.2" cy="586.1" rx="3.6" ry="2.1" fill="#666" stroke="#0e0e0e" stroke-width="1.6" transform="rotate(-35 648.2 586.1)"/>
<ellipse cx="655.4" cy="589.6" rx="3.6" ry="2.1" fill="#666" stroke="#0e0e0e" stroke-width="1.6" transform="rotate(-35 655.4 589.6)"/>
<ellipse cx="644.6" cy="593.2" rx="3.6" ry="2.1" fill="#666" stroke="#0e0e0e" stroke-width="1.6" transform="rotate(-35 644.6 593.2)"/>
<polygon points="665.2,558.4 718.8,557.9 718.8,562.4 665.2,562.9" fill="#5f5c58" stroke="#0e0e0e" stroke-width="1.2" stroke-linejoin="round" />
<polygon points="665.2,562.4 719.6,562 729.5,570 729.5,591.4 665.2,592.3" fill="#8d8983" stroke="#0e0e0e" stroke-width="1.4" stroke-linejoin="round" />
<polygon points="676.8,568.2 707.1,567.3 707.1,588.8 676.8,589.2" fill="#9a958e" stroke="#0e0e0e" stroke-width="1" stroke-linejoin="round" />
<polygon points="697.3,569.1 708.9,568.2 709.8,588.8 698.2,589.2" fill="#7d7973" stroke="#0e0e0e" stroke-width="1" stroke-linejoin="round" />
<polygon points="665.2,588.8 729.5,587.9 729.5,595 665.2,595.4" fill="#75726d" stroke="#0e0e0e" stroke-width="1.1" stroke-linejoin="round" />
<path d="M718.8,553.5 L732.6,553.5 L736.2,568.2 Q736.2,581.6 725,582.5 L713.4,582.5 Z" fill="#9c9c9c" stroke="#0e0e0e" stroke-width="1.3" stroke-linejoin="round" />
<line x1="719.6" y1="562.4" x2="733" y2="562.4" stroke="#0e0e0e" stroke-width="1" />
<line x1="722.3" y1="568.2" x2="722.3" y2="582.5" stroke="#0e0e0e" stroke-width="0.9" />
<ellipse cx="669.6" cy="579.8" rx="8.5" ry="12.5" fill="#3c3c3c" stroke="#0e0e0e" stroke-width="1.3" />
<path d="M665.2,570 A5.4,9.8 0 0 1 666.1,587.9" fill="none" stroke="#c21818" stroke-width="2.2" stroke-linejoin="round" />
<path d="M662.9,571.8 A2.7,7.1 0 0 0 662.7,582.5" fill="none" stroke="#1f9a2f" stroke-width="1.8" stroke-linejoin="round" />
<circle cx="665.2" cy="584.7" r="2.2" fill="#e8e8e8" stroke="none" stroke-width="0" />
<polygon points="662.1,596.3 729.9,595.9 729.9,599.9 662.1,600.4" fill="#c00000" stroke="#300" stroke-width="1" stroke-linejoin="round" />
<rect x="657.1" y="593.2" width="2.3" height="5.4" rx="0" fill="#8a8a8a" stroke="#141414" stroke-width="0.7" /></g>
<g id="column_column"><polygon points="1109,417.4 1258.5,414 1259.5,1034 1158,1046 1112.4,1044" fill="#c00000" stroke="#300" stroke-width="1.4" stroke-linejoin="round" />
<line x1="1155.3" y1="416.5" x2="1155" y2="1046" stroke="#300" stroke-width="1.1" />
<line x1="1158.6" y1="416.5" x2="1158.3" y2="1046" stroke="#300" stroke-width="1.1" />
<polygon points="1109,417.4 1258.5,414 1258.5,417 1109,420.5" fill="#a80000" stroke="#300" stroke-width="0.6" stroke-linejoin="round" />
<rect x="1105" y="492.4" width="10.3" height="58.8" rx="3" fill="#a6a6a6" stroke="#141414" stroke-width="1" />
<line x1="1103.1" y1="512" x2="1115.3" y2="512" stroke="#141414" stroke-width="1" />
<line x1="1105" y1="531.6" x2="1115.3" y2="531.6" stroke="#141414" stroke-width="1" />
<rect x="1108.7" y="487.7" width="11.2" height="5.6" rx="2" fill="#b0b0b0" stroke="#141414" stroke-width="0.9" />
<rect x="1104.7" y="836" width="10.5" height="59" rx="2" fill="#a6a6a6" stroke="#141414" stroke-width="1" />
<line x1="1104.7" y1="855.3" x2="1115.2" y2="855.3" stroke="#141414" stroke-width="0.9" />
<line x1="1104.7" y1="875.2" x2="1115.2" y2="875.2" stroke="#141414" stroke-width="0.9" />
<rect x="1108.2" y="830.8" width="15.2" height="5.9" rx="2" fill="#b0b0b0" stroke="#141414" stroke-width="0.9" /></g>
<g id="guard_guard"><defs><pattern id="meshA" width="6.4" height="9.9" patternUnits="userSpaceOnUse"><path d="M0,0 h6.4 v9.9 h-6.4 Z M3.2,-1.825 L5.25,2.475 L3.2,6.775 L1.15,2.475 Z M0,3.125 L2.05,7.425 L0,11.725 L-2.05,7.425 Z M6.4,3.125 L8.45,7.425 L6.4,11.725 L4.35,7.425 Z M0,-6.775 L2.05,-2.475 L0,1.825 L-2.05,-2.475 Z M6.4,-6.775 L8.45,-2.475 L6.4,1.825 L4.35,-2.475 Z M3.2,8.075 L5.25,12.375 L3.2,16.675 L1.15,12.375 Z " fill="#929292" fill-rule="evenodd"/><path d="M3.2,-1.825 L5.25,2.475 L3.2,6.775 L1.15,2.475 Z M0,3.125 L2.05,7.425 L0,11.725 L-2.05,7.425 Z M6.4,3.125 L8.45,7.425 L6.4,11.725 L4.35,7.425 Z M0,-6.775 L2.05,-2.475 L0,1.825 L-2.05,-2.475 Z M6.4,-6.775 L8.45,-2.475 L6.4,1.825 L4.35,-2.475 Z M3.2,8.075 L5.25,12.375 L3.2,16.675 L1.15,12.375 Z " fill="none" stroke="#0e0e0e" stroke-width="0.85" stroke-linejoin="round"/></pattern><pattern id="meshA2" width="6.4" height="9.9" patternUnits="userSpaceOnUse" patternTransform="rotate(-4)"><path d="M0,0 h6.4 v9.9 h-6.4 Z M3.2,-1.825 L5.25,2.475 L3.2,6.775 L1.15,2.475 Z M0,3.125 L2.05,7.425 L0,11.725 L-2.05,7.425 Z M6.4,3.125 L8.45,7.425 L6.4,11.725 L4.35,7.425 Z M0,-6.775 L2.05,-2.475 L0,1.825 L-2.05,-2.475 Z M6.4,-6.775 L8.45,-2.475 L6.4,1.825 L4.35,-2.475 Z M3.2,8.075 L5.25,12.375 L3.2,16.675 L1.15,12.375 Z " fill="#929292" fill-rule="evenodd"/><path d="M3.2,-1.825 L5.25,2.475 L3.2,6.775 L1.15,2.475 Z M0,3.125 L2.05,7.425 L0,11.725 L-2.05,7.425 Z M6.4,3.125 L8.45,7.425 L6.4,11.725 L4.35,7.425 Z M0,-6.775 L2.05,-2.475 L0,1.825 L-2.05,-2.475 Z M6.4,-6.775 L8.45,-2.475 L6.4,1.825 L4.35,-2.475 Z M3.2,8.075 L5.25,12.375 L3.2,16.675 L1.15,12.375 Z " fill="none" stroke="#0e0e0e" stroke-width="0.85" stroke-linejoin="round"/></pattern><pattern id="meshD" width="6.4" height="8.3" patternUnits="userSpaceOnUse" patternTransform="rotate(-2)"><path d="M0,0 h6.4 v8.3 h-6.4 Z M3.2,-1.525 L5.25,2.075 L3.2,5.675 L1.15,2.075 Z M0,2.625 L2.05,6.225 L0,9.825 L-2.05,6.225 Z M6.4,2.625 L8.45,6.225 L6.4,9.825 L4.35,6.225 Z M0,-5.675 L2.05,-2.075 L0,1.525 L-2.05,-2.075 Z M6.4,-5.675 L8.45,-2.075 L6.4,1.525 L4.35,-2.075 Z M3.2,6.775 L5.25,10.375 L3.2,13.975 L1.15,10.375 Z " fill="#707070" fill-rule="evenodd"/><path d="M3.2,-1.525 L5.25,2.075 L3.2,5.675 L1.15,2.075 Z M0,2.625 L2.05,6.225 L0,9.825 L-2.05,6.225 Z M6.4,2.625 L8.45,6.225 L6.4,9.825 L4.35,6.225 Z M0,-5.675 L2.05,-2.075 L0,1.525 L-2.05,-2.075 Z M6.4,-5.675 L8.45,-2.075 L6.4,1.525 L4.35,-2.075 Z M3.2,6.775 L5.25,10.375 L3.2,13.975 L1.15,10.375 Z " fill="none" stroke="#0e0e0e" stroke-width="0.85" stroke-linejoin="round"/></pattern><pattern id="meshD2" width="6.4" height="9.9" patternUnits="userSpaceOnUse" patternTransform="rotate(-2)"><path d="M0,0 h6.4 v9.9 h-6.4 Z M3.2,-1.825 L5.25,2.475 L3.2,6.775 L1.15,2.475 Z M0,3.125 L2.05,7.425 L0,11.725 L-2.05,7.425 Z M6.4,3.125 L8.45,7.425 L6.4,11.725 L4.35,7.425 Z M0,-6.775 L2.05,-2.475 L0,1.825 L-2.05,-2.475 Z M6.4,-6.775 L8.45,-2.475 L6.4,1.825 L4.35,-2.475 Z M3.2,8.075 L5.25,12.375 L3.2,16.675 L1.15,12.375 Z " fill="#8e8e8e" fill-rule="evenodd"/><path d="M3.2,-1.825 L5.25,2.475 L3.2,6.775 L1.15,2.475 Z M0,3.125 L2.05,7.425 L0,11.725 L-2.05,7.425 Z M6.4,3.125 L8.45,7.425 L6.4,11.725 L4.35,7.425 Z M0,-6.775 L2.05,-2.475 L0,1.825 L-2.05,-2.475 Z M6.4,-6.775 L8.45,-2.475 L6.4,1.825 L4.35,-2.475 Z M3.2,8.075 L5.25,12.375 L3.2,16.675 L1.15,12.375 Z " fill="none" stroke="#0e0e0e" stroke-width="0.85" stroke-linejoin="round"/></pattern></defs>
<polygon points="1777,480 2125,488 2125,520 1777,520" fill="#c00000" stroke="#300" stroke-width="1" stroke-linejoin="round" />
<polygon points="1769,497 1784,497 1782,592 1727,992 1716,992 1769,600" fill="#c00000" stroke="#300" stroke-width="1" stroke-linejoin="round" />
<polygon points="1722,985 2075,1000 2075,1012 1730,1000" fill="#c00000" stroke="#300" stroke-width="1" stroke-linejoin="round" />
<polygon points="2121,490 2255.5,488 2256,1000 2121,1008" fill="#9d9d9d" stroke="#141414" stroke-width="1.3" stroke-linejoin="round" />
<polygon points="2133,508 2232,507 2232,985 2133,992" fill="#ffffff" stroke="#141414" stroke-width="1" stroke-linejoin="round" />
<line x1="2121" y1="490" x2="2133" y2="508" stroke="#141414" stroke-width="0.9" />
<line x1="2255.5" y1="488" x2="2243" y2="506" stroke="#141414" stroke-width="0.9" />
<line x1="2121" y1="1008" x2="2133" y2="992" stroke="#141414" stroke-width="0.9" />
<line x1="2256" y1="1000" x2="2243" y2="984" stroke="#141414" stroke-width="0.9" />
<polygon points="2232,507 2243.5,506 2243.5,984 2232,985" fill="#a9a9a9" stroke="#141414" stroke-width="0.9" stroke-linejoin="round" />
<polygon points="2133,508 2176,508 2176,528 2133,528" fill="#c00000" stroke="#300" stroke-width="0.8" stroke-linejoin="round" />
<polygon points="2116,732 2232,732 2232,752 2116,752" fill="#c00000" stroke="#300" stroke-width="0.8" stroke-linejoin="round" />
<polygon points="2133,528 2174,528 2174,732 2133,732" fill="url(#meshA)" stroke="#141414" stroke-width="0.8" stroke-linejoin="round" />
<polygon points="2133,752 2174,752 2174,990 2133,992" fill="url(#meshA)" stroke="#141414" stroke-width="0.8" stroke-linejoin="round" />
<polygon points="2211,508 2232,508 2232,732 2211,732" fill="url(#meshA)" stroke="#141414" stroke-width="0.8" stroke-linejoin="round" />
<polygon points="2211,752 2232,752 2232,985 2211,987" fill="url(#meshA)" stroke="#141414" stroke-width="0.8" stroke-linejoin="round" />
<polygon points="2174,508 2211,508 2210,1026 2176,1026" fill="#c00000" stroke="#300" stroke-width="1.1" stroke-linejoin="round" />
<line x1="2180" y1="508" x2="2181" y2="1026" stroke="#500" stroke-width="0.9" />
<line x1="2184" y1="508" x2="2185" y2="1026" stroke="#500" stroke-width="0.7" />
<polygon points="1782.8,491.5 1947,490.5 2112,497 2131,602 2071.5,1004.5 1898,998 1725,990.4 1780.5,590.6" fill="#9b9b9b" stroke="#141414" stroke-width="1.3" stroke-linejoin="round" />
<polygon points="2112,497 2121,497 2121,600 2131,602" fill="#a4a4a4" stroke="#141414" stroke-width="0.9" stroke-linejoin="round" />
<polygon points="2131,602 2121,600 2121,1002 2071.5,1004.5" fill="#a0a0a0" stroke="#141414" stroke-width="0.9" stroke-linejoin="round" />
<polyline points="1947.3,490.3 1946,595.3 1898,998" fill="none" stroke="#141414" stroke-width="1.1" stroke-linejoin="round" stroke-linecap="round" />
<polyline points="1950.5,490.3 1949.5,596 1902,998" fill="none" stroke="#141414" stroke-width="0.8" stroke-linejoin="round" stroke-linecap="round" />
<polyline points="1780.5,590.6 1946,595 2131,602" fill="none" stroke="#141414" stroke-width="1.1" stroke-linejoin="round" stroke-linecap="round" />
<rect x="1943.5" y="486" width="7" height="10" rx="0" fill="#a8a8a8" stroke="#141414" stroke-width="0.8" />
<path d="M1789.0,508.0 Q1789.0,501.0 1796.0,501.1 L1934.0,502.9 Q1941.0,503.0 1941.0,510.0 L1941.0,574.0 Q1941.0,581.0 1934.0,580.9 L1796.0,578.1 Q1789.0,578.0 1789.0,571.0 Z" fill="#ffffff" stroke="none" stroke-width="0" stroke-linejoin="round" />
<clipPath id="cL10"><path d="M1789.0,508.0 Q1789.0,501.0 1796.0,501.1 L1934.0,502.9 Q1941.0,503.0 1941.0,510.0 L1941.0,574.0 Q1941.0,581.0 1934.0,580.9 L1796.0,578.1 Q1789.0,578.0 1789.0,571.0 Z"/></clipPath>
<polygon points="1789,501 1808.76,501.26 1808.76,578.39 1789,578" fill="#c00000" stroke="none" stroke-width="0" stroke-linejoin="round" clip-path="url(#cL10)"/>
<clipPath id="cL173"><path d="M1789.0,508.0 Q1789.0,501.0 1796.0,501.1 L1934.0,502.9 Q1941.0,503.0 1941.0,510.0 L1941.0,574.0 Q1941.0,581.0 1934.0,580.9 L1796.0,578.1 Q1789.0,578.0 1789.0,571.0 Z"/></clipPath>
<polygon points="1899.96,502.46 1934.92,502.92 1934.92,580.88 1899.96,580.19" fill="#c00000" stroke="none" stroke-width="0" stroke-linejoin="round" clip-path="url(#cL173)"/>
<path d="M1789.0,508.0 Q1789.0,501.0 1796.0,501.1 L1934.0,502.9 Q1941.0,503.0 1941.0,510.0 L1941.0,574.0 Q1941.0,581.0 1934.0,580.9 L1796.0,578.1 Q1789.0,578.0 1789.0,571.0 Z" fill="url(#meshA)" stroke="#1a1a1a" stroke-width="1.2" stroke-linejoin="round" />
<path d="M1955.0,513.0 Q1955.0,506.0 1962.0,506.1 L2100.0,508.9 Q2107.0,509.0 2107.0,516.0 L2107.0,583.0 Q2107.0,590.0 2100.0,589.8 L1962.0,586.2 Q1955.0,586.0 1955.0,579.0 Z" fill="#f4f4f4" stroke="none" stroke-width="0" stroke-linejoin="round" />
<path d="M1955.0,513.0 Q1955.0,506.0 1962.0,506.1 L2100.0,508.9 Q2107.0,509.0 2107.0,516.0 L2107.0,583.0 Q2107.0,590.0 2100.0,589.8 L1962.0,586.2 Q1955.0,586.0 1955.0,579.0 Z" fill="url(#meshD)" stroke="none" stroke-width="0" stroke-linejoin="round" />
<path d="M1955.0,513.0 Q1955.0,506.0 1962.0,506.1 L2100.0,508.9 Q2107.0,509.0 2107.0,516.0 L2107.0,583.0 Q2107.0,590.0 2100.0,589.8 L1962.0,586.2 Q1955.0,586.0 1955.0,579.0 Z" fill="url(#meshD2)" stroke="#1a1a1a" stroke-width="1.2" stroke-linejoin="round" />
<path d="M1789.0,612.9 Q1790.0,606.0 1797.0,606.3 L1930.0,611.3 Q1937.0,611.6 1936.2,618.6 L1924.8,721.0 Q1924.0,728.0 1917.0,727.7 L1780.5,721.3 Q1773.5,721.0 1774.5,714.1 Z" fill="#ffffff" stroke="none" stroke-width="0" stroke-linejoin="round" />
<clipPath id="cL20"><path d="M1789.0,612.9 Q1790.0,606.0 1797.0,606.3 L1930.0,611.3 Q1937.0,611.6 1936.2,618.6 L1924.8,721.0 Q1924.0,728.0 1917.0,727.7 L1780.5,721.3 Q1773.5,721.0 1774.5,714.1 Z"/></clipPath>
<polygon points="1790,606 1809.11,606.728 1793.07,721.91 1773.5,721" fill="#c00000" stroke="none" stroke-width="0" stroke-linejoin="round" clip-path="url(#cL20)"/>
<clipPath id="cL273"><path d="M1789.0,612.9 Q1790.0,606.0 1797.0,606.3 L1930.0,611.3 Q1937.0,611.6 1936.2,618.6 L1924.8,721.0 Q1924.0,728.0 1917.0,727.7 L1780.5,721.3 Q1773.5,721.0 1774.5,714.1 Z"/></clipPath>
<polygon points="1897.31,610.088 1931.12,611.376 1917.98,727.72 1883.37,726.11" fill="#c00000" stroke="none" stroke-width="0" stroke-linejoin="round" clip-path="url(#cL273)"/>
<path d="M1789.0,612.9 Q1790.0,606.0 1797.0,606.3 L1930.0,611.3 Q1937.0,611.6 1936.2,618.6 L1924.8,721.0 Q1924.0,728.0 1917.0,727.7 L1780.5,721.3 Q1773.5,721.0 1774.5,714.1 Z" fill="url(#meshA2)" stroke="#1a1a1a" stroke-width="1.2" stroke-linejoin="round" />
<path d="M1952.1,618.5 Q1953.0,611.6 1960.0,611.9 L2096.6,617.2 Q2103.6,617.5 2102.5,624.4 L2087.1,726.1 Q2086.0,733.0 2079.0,732.7 L1946.0,726.3 Q1939.0,726.0 1939.9,719.1 Z" fill="#f4f4f4" stroke="none" stroke-width="0" stroke-linejoin="round" />
<path d="M1952.1,618.5 Q1953.0,611.6 1960.0,611.9 L2096.6,617.2 Q2103.6,617.5 2102.5,624.4 L2087.1,726.1 Q2086.0,733.0 2079.0,732.7 L1946.0,726.3 Q1939.0,726.0 1939.9,719.1 Z" fill="url(#meshD)" stroke="none" stroke-width="0" stroke-linejoin="round" />
<path d="M1952.1,618.5 Q1953.0,611.6 1960.0,611.9 L2096.6,617.2 Q2103.6,617.5 2102.5,624.4 L2087.1,726.1 Q2086.0,733.0 2079.0,732.7 L1946.0,726.3 Q1939.0,726.0 1939.9,719.1 Z" fill="url(#meshD2)" stroke="#1a1a1a" stroke-width="1.2" stroke-linejoin="round" />
<path d="M1767.0,762.5 Q1768.0,755.6 1775.0,755.8 L1911.8,760.5 Q1918.8,760.7 1918.0,767.7 L1895.8,965.4 Q1895.0,972.4 1888.0,972.2 L1745.0,967.5 Q1738.0,967.3 1739.0,960.4 Z" fill="#ffffff" stroke="none" stroke-width="0" stroke-linejoin="round" />
<clipPath id="cL30"><path d="M1767.0,762.5 Q1768.0,755.6 1775.0,755.8 L1911.8,760.5 Q1918.8,760.7 1918.0,767.7 L1895.8,965.4 Q1895.0,972.4 1888.0,972.2 L1745.0,967.5 Q1738.0,967.3 1739.0,960.4 Z"/></clipPath>
<polygon points="1768,755.6 1787.6,756.263 1758.41,967.963 1738,967.3" fill="#c00000" stroke="none" stroke-width="0" stroke-linejoin="round" clip-path="url(#cL30)"/>
<clipPath id="cL373"><path d="M1767.0,762.5 Q1768.0,755.6 1775.0,755.8 L1911.8,760.5 Q1918.8,760.7 1918.0,767.7 L1895.8,965.4 Q1895.0,972.4 1888.0,972.2 L1745.0,967.5 Q1738.0,967.3 1739.0,960.4 Z"/></clipPath>
<polygon points="1878.08,759.323 1912.77,760.496 1888.72,972.196 1852.61,971.023" fill="#c00000" stroke="none" stroke-width="0" stroke-linejoin="round" clip-path="url(#cL373)"/>
<path d="M1767.0,762.5 Q1768.0,755.6 1775.0,755.8 L1911.8,760.5 Q1918.8,760.7 1918.0,767.7 L1895.8,965.4 Q1895.0,972.4 1888.0,972.2 L1745.0,967.5 Q1738.0,967.3 1739.0,960.4 Z" fill="url(#meshA2)" stroke="#1a1a1a" stroke-width="1.2" stroke-linejoin="round" />
<path d="M1932.6,767.6 Q1933.5,760.7 1940.5,760.9 L2078.6,765.7 Q2085.6,765.9 2084.8,772.9 L2061.3,970.5 Q2060.5,977.5 2053.5,977.3 L1913.6,973.9 Q1906.6,973.7 1907.5,966.8 Z" fill="#f4f4f4" stroke="none" stroke-width="0" stroke-linejoin="round" />
<path d="M1932.6,767.6 Q1933.5,760.7 1940.5,760.9 L2078.6,765.7 Q2085.6,765.9 2084.8,772.9 L2061.3,970.5 Q2060.5,977.5 2053.5,977.3 L1913.6,973.9 Q1906.6,973.7 1907.5,966.8 Z" fill="url(#meshD)" stroke="none" stroke-width="0" stroke-linejoin="round" />
<path d="M1932.6,767.6 Q1933.5,760.7 1940.5,760.9 L2078.6,765.7 Q2085.6,765.9 2084.8,772.9 L2061.3,970.5 Q2060.5,977.5 2053.5,977.3 L1913.6,973.9 Q1906.6,973.7 1907.5,966.8 Z" fill="url(#meshD2)" stroke="#1a1a1a" stroke-width="1.2" stroke-linejoin="round" />
<rect x="1838" y="741" width="13" height="3.2" rx="1.5" fill="#c00000" stroke="#300" stroke-width="0.6" />
<rect x="2005" y="748" width="13" height="3.2" rx="1.5" fill="#c00000" stroke="#300" stroke-width="0.6" />
<polygon points="2089,992.5 2176.4,992.5 2176.4,1015.2 2089,1015.2" fill="#c00000" stroke="#300" stroke-width="0.9" stroke-linejoin="round" />
<polygon points="2104.7,1021.2 2260.4,1017.7 2260.4,1066.7 2117,1072.3 2104.7,1067.7" fill="#2d2d2d" stroke="#111" stroke-width="1" stroke-linejoin="round" />
<polygon points="2117,1028.2 2270.9,1024 2270.9,1058.3 2117,1064.2" fill="#c00000" stroke="#300" stroke-width="1.1" stroke-linejoin="round" />
<polygon points="2117,1028.2 2127.4,1031.7 2127.4,1060.7 2117,1064.2" fill="#d01818" stroke="#300" stroke-width="0.8" stroke-linejoin="round" />
<circle cx="2146" cy="1043.2" r="4.5" fill="#8a0000" stroke="#300" stroke-width="0.9" />
<circle cx="2146" cy="1043.2" r="2" fill="#400" stroke="none" stroke-width="0" />
<circle cx="2254.1" cy="1043.2" r="4.5" fill="#8a0000" stroke="#300" stroke-width="0.9" />
<circle cx="2254.1" cy="1043.2" r="2" fill="#400" stroke="none" stroke-width="0" /></g>
<g id="rear_rear"><polygon points="3083.1,988.8 3192.1,984.8 3184.3,994.8 3184.3,1031 3192.1,1040.1 3078,1043.5" fill="#9a9a9a" stroke="#141414" stroke-width="1.2" stroke-linejoin="round" />
<line x1="3088.1" y1="996.5" x2="3184.3" y2="994.8" stroke="#141414" stroke-width="0.9" />
<line x1="3083.1" y1="1032.4" x2="3184.3" y2="1031" stroke="#141414" stroke-width="0.9" />
<circle cx="3128.3" cy="997.5" r="1.6" fill="#444" stroke="#141414" stroke-width="0" />
<circle cx="3128.3" cy="1032.4" r="1.6" fill="#444" stroke="#141414" stroke-width="0" />
<polygon points="2578.9,419.7 2770.7,428.5 2770.7,995.2 2578.9,993.7" fill="#9a9a9a" stroke="#141414" stroke-width="1.1" stroke-linejoin="round" />
<polygon points="2508,417.3 2578.9,417.3 2578.9,993.7 2508,992.9" fill="#9c9c9c" stroke="#141414" stroke-width="1.2" stroke-linejoin="round" />
<line x1="2519.8" y1="417.3" x2="2519.8" y2="992.9" stroke="#141414" stroke-width="0.9" />
<line x1="2523.4" y1="417.3" x2="2523.4" y2="992.9" stroke="#141414" stroke-width="0.9" />
<line x1="2575.3" y1="417.3" x2="2575.3" y2="993.7" stroke="#141414" stroke-width="0.9" />
<circle cx="2514.5" cy="435.9" r="1.3" fill="#444" stroke="#141414" stroke-width="0" />
<circle cx="2514.5" cy="510.6" r="1.3" fill="#444" stroke="#141414" stroke-width="0" />
<circle cx="2514.5" cy="585.6" r="1.3" fill="#444" stroke="#141414" stroke-width="0" />
<circle cx="2514.5" cy="660.2" r="1.3" fill="#444" stroke="#141414" stroke-width="0" />
<circle cx="2514.5" cy="735.5" r="1.3" fill="#444" stroke="#141414" stroke-width="0" />
<circle cx="2514.5" cy="812.2" r="1.3" fill="#444" stroke="#141414" stroke-width="0" />
<circle cx="2514.5" cy="886" r="1.3" fill="#444" stroke="#141414" stroke-width="0" />
<circle cx="2514.5" cy="959.8" r="1.3" fill="#444" stroke="#141414" stroke-width="0" />
<rect x="2528.3" y="423.7" width="5" height="5" rx="0" fill="#eee" stroke="#222" stroke-width="0.8" />
<rect x="2565.2" y="470.3" width="5" height="5" rx="0" fill="#eee" stroke="#222" stroke-width="0.8" />
<rect x="2528.3" y="517.5" width="5" height="5" rx="0" fill="#eee" stroke="#222" stroke-width="0.8" />
<polygon points="2540.5,373.9 2902.1,387.2 2905,403.5 2543.5,394.6" fill="#a0a0a0" stroke="#141414" stroke-width="1.1" stroke-linejoin="round" />
<circle cx="2550.8" cy="382.2" r="1.4" fill="#444" stroke="#141414" stroke-width="0" />
<circle cx="2599.1" cy="384" r="1.4" fill="#444" stroke="#141414" stroke-width="0" />
<circle cx="2647.3" cy="385.7" r="1.4" fill="#444" stroke="#141414" stroke-width="0" />
<circle cx="2695.6" cy="387.5" r="1.4" fill="#444" stroke="#141414" stroke-width="0" />
<circle cx="2743.9" cy="389.3" r="1.4" fill="#444" stroke="#141414" stroke-width="0" />
<circle cx="2792.1" cy="391.1" r="1.4" fill="#444" stroke="#141414" stroke-width="0" />
<circle cx="2840.4" cy="392.8" r="1.4" fill="#444" stroke="#141414" stroke-width="0" />
<circle cx="2888.6" cy="394.6" r="1.4" fill="#444" stroke="#141414" stroke-width="0" />
<polygon points="2543.5,394.6 2905,403.5 2916.8,433.9 2577.4,422.6" fill="#949494" stroke="#141414" stroke-width="1" stroke-linejoin="round" />
<polygon points="2580.3,420.3 2916.8,432.1 2916.8,440.3 2770.7,438.9 2581.8,441.8" fill="#a2a2a2" stroke="#141414" stroke-width="1.1" stroke-linejoin="round" />
<ellipse cx="2589.2" cy="432.1" rx="4" ry="5" fill="#a8a8a8" stroke="#141414" stroke-width="0.9" />
<ellipse cx="2644.7" cy="430.3" rx="4" ry="5" fill="#a8a8a8" stroke="#141414" stroke-width="0.9" />
<ellipse cx="2699.9" cy="428.5" rx="4" ry="5" fill="#a8a8a8" stroke="#141414" stroke-width="0.9" />
<ellipse cx="2754.5" cy="427.7" rx="4" ry="5" fill="#a8a8a8" stroke="#141414" stroke-width="0.9" />
<ellipse cx="2831.2" cy="432.1" rx="4" ry="5" fill="#a8a8a8" stroke="#141414" stroke-width="0.9" />
<circle cx="2725" cy="372.5" r="4.2" fill="none" stroke="#222" stroke-width="3.6" />
<circle cx="2725" cy="372.5" r="4.2" fill="none" stroke="#b5b5b5" stroke-width="2" />
<circle cx="2831.2" cy="376.3" r="4.2" fill="none" stroke="#222" stroke-width="3.6" />
<circle cx="2831.2" cy="376.3" r="4.2" fill="none" stroke="#b5b5b5" stroke-width="2" />
<circle cx="2939" cy="383.1" r="4.2" fill="none" stroke="#222" stroke-width="3.6" />
<circle cx="2939" cy="383.1" r="4.2" fill="none" stroke="#b5b5b5" stroke-width="2" />
<path d="M2508.9,393.1 Q2509.5,374.8 2524.3,372.5 L2537.6,372.5 L2539.6,387.2 L2571.5,416.1 L2508.9,417.3 Z" fill="#c00000" stroke="#300" stroke-width="1.1" stroke-linejoin="round" />
<line x1="2516.9" y1="387.2" x2="2539.6" y2="387.2" stroke="#500" stroke-width="0.9" />
<line x1="2516.9" y1="387.2" x2="2516.9" y2="417.3" stroke="#500" stroke-width="0.9" />
<polygon points="2770.7,439.2 2916.8,440.3 2916.8,993.7 2770.7,993.7" fill="#ffffff" stroke="none" stroke-width="0" stroke-linejoin="round" />
<path d="M2771.6,439.2 L2847.5,439.5 L2847.5,449.8 Q2846,451.6 2834.2,451.6 Q2778.1,458.1 2775.1,528.9 L2772.2,548.1 Z" fill="#c00000" stroke="#300" stroke-width="1" stroke-linejoin="round" />
<clipPath id="openclip"><rect x="2639.4" y="428.5" width="277.4" height="700"/></clipPath>
<g clip-path="url(#openclip)">
<polygon points="2817.9,599.7 2826.8,585 2834.2,596.8 2838.6,576.1 2846,593.8 2851.9,576.1 2863.7,590.9 2872.5,599.7 2884.3,577.6 2899.1,596.8 2916.8,579.1 2916.8,641 2899.1,635.1 2878.4,649.9 2860.7,658.8 2834.2,655.8" fill="#c00000" stroke="#2a0000" stroke-width="1.3" stroke-linejoin="round" />
<polygon points="2822.4,585 2829.7,576.1 2834.2,590.9 2838.6,574.6 2844.5,590.9 2848.9,576.1 2857.8,590.9 2863.7,593.8 2846,614.5 2828.3,605.6" fill="#b80000" stroke="#2a0000" stroke-width="1.3" stroke-linejoin="round" />
<polygon points="2730.9,599.7 2741.2,596.8 2741.2,579.1 2747.1,593.8 2753,573.2 2757.4,590.9 2764.8,573.2 2767.8,593.8 2776.6,583.5 2778.1,596.8 2770.7,623.3 2772.2,638.1 2730.9,614.5" fill="#c00000" stroke="#2a0000" stroke-width="1.3" stroke-linejoin="round" />
<polygon points="2704.3,639.6 2725,635.1 2878.4,649.9 2916.8,647 2916.8,682.4 2878.4,683.8 2698.4,679.4" fill="#c00000" stroke="#2a0000" stroke-width="1.3" stroke-linejoin="round" />
<line x1="2707.3" y1="657.3" x2="2913.9" y2="664.7" stroke="#400" stroke-width="1" />
<polygon points="2681.6,609.2 2716.1,636 2747.1,660.2 2733.8,677.9 2704.3,682.4 2657.1,720.7 2645.3,722.2 2652.7,703 2642.9,695.7 2668.9,676.5 2646.8,667.6 2671.8,652.9 2659.4,636 2686.6,635.1" fill="#c00000" stroke="#2a0000" stroke-width="1.3" stroke-linejoin="round" />
<polygon points="2896.2,617.4 2916.8,605.6 2916.8,753.2 2869.6,750.3 2863.7,723.7 2878.4,708.9 2866.6,694.2 2893.2,679.4 2878.4,664.7 2899.1,652.9" fill="#c00000" stroke="#2a0000" stroke-width="1.3" stroke-linejoin="round" />
<polygon points="2730.9,676.5 2754.5,691.2 2750.1,703 2772.2,700.1 2763.3,723.7 2778.1,732.5 2763.3,753.2 2745.6,744.9 2733.8,753.2 2725,738.4 2713.2,751.7 2698.4,744.9 2704.3,723.7" fill="#c00000" stroke="#2a0000" stroke-width="1.3" stroke-linejoin="round" />
<polygon points="2725,611.5 2784,641 2797.3,679.4 2775.1,732.5 2763.3,723.7 2770.7,700.1 2751.5,704.5 2748.6,688.3 2736.8,679.4 2747.1,660.2 2727.9,635.1" fill="#c00000" stroke="#2a0000" stroke-width="1.3" stroke-linejoin="round" />
<polygon points="2822.4,676.5 2875.5,685.3 2863.7,706 2875.5,711.9 2860.7,744.9 2843,735.5 2831.2,751.7 2819.4,735.5 2801.7,750.3 2784,744.9 2798.8,711.9 2804.7,691.2" fill="#c00000" stroke="#2a0000" stroke-width="1.3" stroke-linejoin="round" />
<polygon points="2782.5,647 2875.5,655.8 2881.4,664.7 2798.8,682.4" fill="#c00000" stroke="#2a0000" stroke-width="1.3" stroke-linejoin="round" />
<polygon points="2872.5,723.7 2877,750.3 2882.9,732.5 2888.8,753.2 2893.2,734 2899.1,751.7 2903.5,732.5 2909.4,747.3 2913.9,723.7 2893.2,714.8" fill="#b80000" stroke="#2a0000" stroke-width="1.3" stroke-linejoin="round" />
<line x1="2725" y1="611.5" x2="2747.1" y2="660.2" stroke="#400" stroke-width="1" />
<line x1="2817.9" y1="599.7" x2="2834.2" y2="655.8" stroke="#400" stroke-width="1" />
<polygon points="2855.1,838.9 2863.5,817.1 2870.2,833.9 2873.5,803.7 2878.5,830.5 2883.6,800.4 2886.9,830.5 2893.6,805.4 2895.3,840.6 2875.2,854" fill="#b80000" stroke="#2a0000" stroke-width="1.3" stroke-linejoin="round" />
<polygon points="2694.1,860.7 2918.8,869.1 2918.8,897.6 2717.6,904.3 2700.8,887.5" fill="#c00000" stroke="#2a0000" stroke-width="1.3" stroke-linejoin="round" />
<line x1="2697.5" y1="877.5" x2="2918.8" y2="884.2" stroke="#400" stroke-width="1" />
<polygon points="2767.9,837.2 2794.7,815.4 2808.1,827.2 2824.9,802 2838.3,820.5 2858.4,798.7 2868.5,817.1 2881.9,800.4 2897,807.1 2895.3,850.7 2861.8,867.4 2818.2,884.2" fill="#c00000" stroke="#2a0000" stroke-width="1.3" stroke-linejoin="round" />
<polygon points="2682.4,835.6 2709.2,812.1 2717.6,823.8 2737.7,798.7 2751.1,818.8 2771.2,797 2781.3,815.4 2809.8,803.7 2791.4,823.8 2804.8,840.6 2761.2,867.4 2734.4,880.8 2707.5,857.4" fill="#c00000" stroke="#2a0000" stroke-width="1.3" stroke-linejoin="round" />
<polygon points="2632.1,847.3 2655.6,850.7 2680.7,854 2707.5,855.7 2724.3,914.4 2707.5,954.6 2697.5,957.9 2692.4,937.8 2670.7,927.8 2677.4,914.4 2648.9,904.3 2663.9,892.6 2638.8,879.2 2657.2,869.1" fill="#c00000" stroke="#2a0000" stroke-width="1.3" stroke-linejoin="round" />
<polygon points="2850,854 2915.4,874.1 2918.8,961.3 2910.4,964.7 2905.4,947.9 2890.3,957.9 2881.9,974.7 2871.8,957.9 2855.1,974.7 2838.3,961.3 2841.7,900.9 2861.8,907.7 2871.8,884.2" fill="#c00000" stroke="#2a0000" stroke-width="1.3" stroke-linejoin="round" />
<polygon points="2761.2,850.7 2791.4,874.1 2788,914.4 2794.7,927.8 2791.4,954.6 2783,961.3 2777.9,971.4 2771.2,954.6 2766.2,971.4 2761.2,954.6 2754.5,968 2751.1,951.2 2736,937.8 2754.5,914.4 2737.7,900.9 2754.5,890.9 2746.1,874.1" fill="#c00000" stroke="#2a0000" stroke-width="1.3" stroke-linejoin="round" />
<polygon points="2838.3,900.9 2861.8,907.7 2855.1,974.7 2848.4,971.4 2845,974.7 2840,961.3" fill="#b00000" stroke="#2a0000" stroke-width="1.3" stroke-linejoin="round" />
<line x1="2761.2" y1="850.7" x2="2754.5" y2="914.4" stroke="#400" stroke-width="1" />
<line x1="2850" y1="854" x2="2871.8" y2="884.2" stroke="#400" stroke-width="1" />
</g>
<polygon points="2771.2,971.4 2818.2,971.4 2818.2,994.8 2771.2,994.8" fill="#a0a0a0" stroke="#141414" stroke-width="1" stroke-linejoin="round" />
<path d="M2777.9,994.8 Q2781.3,974.7 2801.4,974.7 L2892,974.7 L2892,994.8 Z" fill="#a6a6a6" stroke="#141414" stroke-width="1" stroke-linejoin="round" />
<polygon points="2890.3,965.3 2898.7,965.3 2918.8,984.8 2918.8,994.8 2890.3,994.8" fill="#a2a2a2" stroke="#141414" stroke-width="1" stroke-linejoin="round" />
<polygon points="2916.8,432.1 2930.1,433 2931.6,993.7 2918.3,993.7" fill="#a0a0a0" stroke="#141414" stroke-width="1.1" stroke-linejoin="round" />
<circle cx="2923.3" cy="449.8" r="1.3" fill="#444" stroke="#141414" stroke-width="0" />
<circle cx="2923.3" cy="525.4" r="1.3" fill="#444" stroke="#141414" stroke-width="0" />
<circle cx="2923.3" cy="600.3" r="1.3" fill="#444" stroke="#141414" stroke-width="0" />
<circle cx="2923.3" cy="675" r="1.3" fill="#444" stroke="#141414" stroke-width="0" />
<circle cx="2923.3" cy="750.3" r="1.3" fill="#444" stroke="#141414" stroke-width="0" />
<circle cx="2923.3" cy="827" r="1.3" fill="#444" stroke="#141414" stroke-width="0" />
<circle cx="2923.3" cy="900.8" r="1.3" fill="#444" stroke="#141414" stroke-width="0" />
<circle cx="2923.3" cy="974.6" r="1.3" fill="#444" stroke="#141414" stroke-width="0" />
<line x1="2927.1" y1="433" x2="2928.6" y2="993.7" stroke="#141414" stroke-width="0.8" />
<polygon points="2931,397.6 2940.4,388.7 3089.5,391.7 3129.3,440.3 3129.3,992.3 2931.6,993.7" fill="#9c9c9c" stroke="#141414" stroke-width="1.2" stroke-linejoin="round" />
<polygon points="2931,397.6 2964,396.7 2940.4,427.1" fill="#a4a4a4" stroke="#141414" stroke-width="1" stroke-linejoin="round" />
<line x1="2940.4" y1="427.1" x2="2941" y2="993.7" stroke="#141414" stroke-width="0.9" />
<circle cx="2969.9" cy="407.9" r="3.8" fill="#8a8a8a" stroke="#111" stroke-width="1.5" /><circle cx="2970.3" cy="407.9" r="1.9" fill="#a5a5a5" stroke="#1a1a1a" stroke-width="0.9" />
<circle cx="3028.4" cy="405.5" r="3.8" fill="#8a8a8a" stroke="#111" stroke-width="1.5" /><circle cx="3028.8" cy="405.5" r="1.9" fill="#a5a5a5" stroke="#1a1a1a" stroke-width="0.9" />
<circle cx="3086.5" cy="402.6" r="3.8" fill="#8a8a8a" stroke="#111" stroke-width="1.5" /><circle cx="3086.9" cy="402.6" r="1.9" fill="#a5a5a5" stroke="#1a1a1a" stroke-width="0.9" />
<circle cx="2949.3" cy="444.8" r="3.8" fill="#8a8a8a" stroke="#111" stroke-width="1.5" /><circle cx="2949.7" cy="444.8" r="1.9" fill="#a5a5a5" stroke="#1a1a1a" stroke-width="0.9" />
<circle cx="3003.9" cy="443.3" r="3.8" fill="#8a8a8a" stroke="#111" stroke-width="1.5" /><circle cx="3004.3" cy="443.3" r="1.9" fill="#a5a5a5" stroke="#1a1a1a" stroke-width="0.9" />
<circle cx="3060" cy="441.8" r="3.8" fill="#8a8a8a" stroke="#111" stroke-width="1.5" /><circle cx="3060.4" cy="441.8" r="1.9" fill="#a5a5a5" stroke="#1a1a1a" stroke-width="0.9" />
<circle cx="3114.6" cy="440.3" r="3.8" fill="#8a8a8a" stroke="#111" stroke-width="1.5" /><circle cx="3115" cy="440.3" r="1.9" fill="#a5a5a5" stroke="#1a1a1a" stroke-width="0.9" />
<circle cx="2939.8" cy="484.6" r="2.8" fill="#8a8a8a" stroke="#111" stroke-width="1.5" /><circle cx="2940.2" cy="484.6" r="1.4" fill="#a5a5a5" stroke="#1a1a1a" stroke-width="0.9" />
<path d="M2900.6,387.2 L2919.8,385.7 Q2930.1,387.2 2930.7,399 L2940.4,428.5 L2940.4,542.2 L2931.6,542.2 L2930.7,428.5 L2919.2,428.5 Z" fill="#c00000" stroke="#300" stroke-width="1.1" stroke-linejoin="round" />
<polygon points="2902.6,400.5 2919.2,402 2919.2,428.5 2916.8,428.5" fill="#a00000" stroke="#300" stroke-width="0.8" stroke-linejoin="round" />
<polygon points="3129.3,440.3 3147.6,446.3 3147.6,989.3 3129.3,992.3" fill="#a2a2a2" stroke="#141414" stroke-width="1.1" stroke-linejoin="round" />
<line x1="3134.6" y1="446.3" x2="3134.6" y2="990.8" stroke="#141414" stroke-width="0.8" />
<line x1="3142.6" y1="447.7" x2="3142.6" y2="989.9" stroke="#141414" stroke-width="0.8" />
<polygon points="3121.9,433 3144.1,437.4 3147.9,446.8 3147.9,559.9 3142.9,559.9 3142.9,449.8 3129.3,445.1" fill="#c00000" stroke="#300" stroke-width="1" stroke-linejoin="round" />
<rect x="3135" y="455.6" width="4" height="5" rx="0" fill="#888" stroke="#222" stroke-width="0.7" />
<rect x="3135" y="549.4" width="4" height="5" rx="0" fill="#888" stroke="#222" stroke-width="0.7" />
<rect x="3027.5" y="644" width="45.7" height="53.1" rx="7" fill="#2e2e2e" stroke="#111" stroke-width="1" />
<ellipse cx="3054.1" cy="670.6" rx="16.2" ry="20.7" fill="#3a3a3a" stroke="#111" stroke-width="1" />
<ellipse cx="3058.5" cy="670.6" rx="11.8" ry="15.3" fill="#555" stroke="#111" stroke-width="1" />
<rect x="3060" y="661.7" width="22.1" height="17.7" rx="0" fill="#b5b5b5" stroke="none" stroke-width="0" />
<line x1="3060" y1="661.7" x2="3082.1" y2="661.7" stroke="#141414" stroke-width="0.9" />
<line x1="3060" y1="679.4" x2="3082.1" y2="679.4" stroke="#141414" stroke-width="0.9" />
<ellipse cx="3060" cy="670.6" rx="5.3" ry="8.9" fill="#aaa" stroke="#141414" stroke-width="0.9" />
<ellipse cx="3082.1" cy="670.6" rx="6.5" ry="8.9" fill="#c8c8c8" stroke="#141414" stroke-width="1" />
<circle cx="3083.3" cy="671.2" r="1.6" fill="#eee" stroke="#141414" stroke-width="0.6" />
<circle cx="3034.9" cy="651.4" r="2.2" fill="#444" stroke="#111" stroke-width="0.6" />
<circle cx="3067.3" cy="649.9" r="2.2" fill="#444" stroke="#111" stroke-width="0.6" />
<circle cx="3034.9" cy="691.2" r="2.2" fill="#444" stroke="#111" stroke-width="0.6" />
<circle cx="3067.3" cy="691.2" r="2.2" fill="#444" stroke="#111" stroke-width="0.6" />
<polygon points="2522.6,952.1 2530.7,952.1 2554.9,979.4 2522.6,979.4" fill="#a2a2a2" stroke="#141414" stroke-width="1" stroke-linejoin="round" />
<line x1="2525" y1="954.1" x2="2525" y2="979.4" stroke="#141414" stroke-width="0.8" />
<rect x="2621" y="984.8" width="29.5" height="11.7" rx="0" fill="#b0b0b0" stroke="#141414" stroke-width="0.9" />
<rect x="2624" y="986.8" width="4.1" height="8" rx="0" fill="#999" stroke="#141414" stroke-width="0.7" />
<rect x="2630.1" y="986.8" width="4" height="8" rx="0" fill="#999" stroke="#141414" stroke-width="0.7" />
<rect x="2638.5" y="986.8" width="4" height="8" rx="0" fill="#999" stroke="#141414" stroke-width="0.7" />
<rect x="2645.2" y="986.8" width="4" height="8" rx="0" fill="#999" stroke="#141414" stroke-width="0.7" />
<polygon points="2913.7,1129 2938.9,1125.6 3011,1177.6 3006,1183.3 2915.4,1135" fill="#8e8e8e" stroke="#141414" stroke-width="1.1" stroke-linejoin="round" />
<polygon points="3027.8,820.5 3056.3,820.5 2938.9,1127.3 2913.7,1129" fill="#a0a0a0" stroke="#141414" stroke-width="1.2" stroke-linejoin="round" />
<polygon points="3056.3,820.5 3064.6,823.8 2957.3,1136.3 2938.9,1127.3" fill="#959595" stroke="#141414" stroke-width="1" stroke-linejoin="round" />
<polygon points="3064.6,823.8 3140.1,867.4 3036.1,1172.5 3011,1179.3 2957.3,1136.3" fill="#9a9a9a" stroke="#141414" stroke-width="1.2" stroke-linejoin="round" />
<polygon points="2942.2,1130.6 3009.3,1175.9 3036.1,1171.9 2959,1137.3" fill="#a8a8a8" stroke="#141414" stroke-width="0.9" stroke-linejoin="round" />
<rect x="2945.6" y="1133" width="11.7" height="6.7" rx="0" fill="#999" stroke="#141414" stroke-width="0.8" />
<rect x="2999.3" y="1175.2" width="8.3" height="5.7" rx="0" fill="#999" stroke="#141414" stroke-width="0.8" /></g>
<g id="decals_decals"><defs><linearGradient id="lg" x1="0" y1="0" x2="0" y2="1"><stop offset="0" stop-color="#a9a9a9"/><stop offset="0.5" stop-color="#6d6d6d"/><stop offset="1" stop-color="#9a9a9a"/></linearGradient></defs>
<polygon points="949.3,685.2 1079.2,680.9 1079.2,712 949.3,715.7" fill="#c9c9c9" stroke="#222" stroke-width="1.2" stroke-linejoin="round" />
<g transform="translate(949.8,686.6) skewY(-1.9)"><text x="2.5" y="21.5" font-size="25" fill="url(#lg)" text-anchor="start" font-weight="bold" textLength="124" lengthAdjust="spacingAndGlyphs" font-style="italic" stroke="#3a3a3a" stroke-width="0.9">HATFIELD</text><text x="59" y="28.2" font-size="6.6" fill="#8a0f18" text-anchor="start" font-weight="bold" textLength="68" lengthAdjust="spacingAndGlyphs" font-style="italic">MANUFACTURING</text></g>
<g transform="translate(987.6,817.5) skewY(-2.6)"><rect x="0" y="0" width="71.8" height="64" rx="0" fill="#151515" stroke="#111" stroke-width="0.8" /><rect x="1.5" y="1.5" width="34" height="61" rx="0" fill="#cfcfcf" stroke="none" stroke-width="0" /><rect x="37" y="1.5" width="33.3" height="61" rx="0" fill="#e6e6e6" stroke="none" stroke-width="0" /><rect x="37" y="1.5" width="33.3" height="9" rx="0" fill="#b0101f" stroke="none" stroke-width="0" /><rect x="37" y="32" width="33.3" height="9" rx="0" fill="#b0101f" stroke="none" stroke-width="0" /><line x1="37" y1="30.5" x2="70.3" y2="30.5" stroke="#151515" stroke-width="1.6" /><polygon points="40,9.3 43.5,3 47,9.3" fill="#f3e4e4" stroke="none" stroke-width="0" stroke-linejoin="round" /><polygon points="40,39.8 43.5,33.5 47,39.8" fill="#f3e4e4" stroke="none" stroke-width="0" stroke-linejoin="round" /><text x="48.5" y="9.2" font-size="7" fill="#f3e4e4" text-anchor="start" font-weight="bold" textLength="20" lengthAdjust="spacingAndGlyphs" >DANGER</text><text x="48.5" y="39.7" font-size="7" fill="#f3e4e4" text-anchor="start" font-weight="bold" textLength="20" lengthAdjust="spacingAndGlyphs" >PELIGRO</text><text x="39" y="17" font-size="4.3" fill="#111" text-anchor="start" font-weight="bold" >Keep away from</text><text x="39" y="22.8" font-size="4.3" fill="#111" text-anchor="start" font-weight="bold" >the conveyor</text><text x="39" y="28.6" font-size="4.3" fill="#111" text-anchor="start" font-weight="bold" >belt</text><text x="39" y="47.5" font-size="3.7" fill="#111" text-anchor="start" font-weight="bold" >Mantengase</text><text x="39" y="52.8" font-size="3.7" fill="#111" text-anchor="start" font-weight="bold" >alejado de la cinta</text><text x="39" y="58.1" font-size="3.7" fill="#111" text-anchor="start" font-weight="bold" >transportadora</text><ellipse cx="18.5" cy="36" rx="12.5" ry="18" fill="none" stroke="#a81420" stroke-width="3" /><rect x="15.5" y="22" width="5.5" height="17" rx="0" fill="#333" stroke="none" stroke-width="0" /><circle cx="18.2" cy="19.5" r="2.3" fill="#333" stroke="none" stroke-width="0" /><rect x="10" y="42" width="17" height="3.4" rx="0" fill="#222" stroke="none" stroke-width="0" /><line x1="9.5" y1="24" x2="27.5" y2="48" stroke="#a81420" stroke-width="3" /></g>
<g transform="translate(1179.7,729.6) skewY(-1.3)"><rect x="0" y="0" width="58.5" height="13.501" rx="0" fill="#e8e8e8" stroke="#222" stroke-width="0.7" /><rect x="2" y="2.2" width="26.05" height="8.901" rx="0" fill="#b0101f" stroke="none" stroke-width="0" /><rect x="30.45" y="2.2" width="26.05" height="8.901" rx="0" fill="#b0101f" stroke="none" stroke-width="0" /><text x="15.025" y="8.901" font-size="5.6" fill="#f0dada" text-anchor="middle" font-weight="bold" textLength="22.25" lengthAdjust="spacingAndGlyphs" >DANGER</text><text x="43.475" y="8.901" font-size="5.6" fill="#f0dada" text-anchor="middle" font-weight="bold" textLength="22.25" lengthAdjust="spacingAndGlyphs" >PELIGRO</text><rect x="0" y="12.501" width="58.5" height="33.799" rx="0" fill="#151515" stroke="#111" stroke-width="0.7" /><rect x="2" y="14.301" width="26.25" height="29.799" rx="1.5" fill="#cfcfcf" stroke="none" stroke-width="0" /><rect x="30.25" y="14.301" width="26.25" height="29.799" rx="1.5" fill="#cfcfcf" stroke="none" stroke-width="0" /><text x="15.125" y="22.7205" font-size="4" fill="#1a1a1a" text-anchor="middle" font-weight="bold" >ROTATING</text><text x="15.125" y="28.1205" font-size="4" fill="#1a1a1a" text-anchor="middle" font-weight="bold" >BEATERS</text><text x="15.125" y="33.5205" font-size="4" fill="#1a1a1a" text-anchor="middle" font-weight="bold" >STAND</text><text x="15.125" y="38.9205" font-size="4" fill="#1a1a1a" text-anchor="middle" font-weight="bold" >CLEAR</text><text x="43.375" y="22.7205" font-size="4" fill="#1a1a1a" text-anchor="middle" font-weight="bold" >BATIDORES</text><text x="43.375" y="28.1205" font-size="4" fill="#1a1a1a" text-anchor="middle" font-weight="bold" >EN ROTACION,</text><text x="43.375" y="33.5205" font-size="4" fill="#1a1a1a" text-anchor="middle" font-weight="bold" >MANTENERSE</text><text x="43.375" y="38.9205" font-size="4" fill="#1a1a1a" text-anchor="middle" font-weight="bold" >ALJADO</text></g>
<g transform="translate(1179.7,795.6) skewY(-1.3)"><rect x="0" y="0" width="58.5" height="47.5" rx="0" fill="#151515" stroke="#111" stroke-width="0.7" /><rect x="2" y="1.8" width="26.25" height="43.5" rx="1.5" fill="#cfcfcf" stroke="none" stroke-width="0" /><rect x="30.25" y="1.8" width="26.25" height="43.5" rx="1.5" fill="#cfcfcf" stroke="none" stroke-width="0" /><text x="15.125" y="11.616" font-size="5.2" fill="#1a1a1a" text-anchor="middle" font-weight="bold" >DO NOT</text><text x="15.125" y="18.636" font-size="5.2" fill="#1a1a1a" text-anchor="middle" font-weight="bold" >REMOVE</text><text x="15.125" y="25.656" font-size="5.2" fill="#1a1a1a" text-anchor="middle" font-weight="bold" >GUARDS</text><text x="15.125" y="32.676" font-size="5.2" fill="#1a1a1a" text-anchor="middle" font-weight="bold" >&amp;</text><text x="15.125" y="39.696" font-size="5.2" fill="#1a1a1a" text-anchor="middle" font-weight="bold" >SHIELDS</text><text x="43.375" y="11.616" font-size="5.2" fill="#1a1a1a" text-anchor="middle" font-weight="bold" >NO</text><text x="43.375" y="18.636" font-size="5.2" fill="#1a1a1a" text-anchor="middle" font-weight="bold" >ELIMINAR</text><text x="43.375" y="25.656" font-size="5.2" fill="#1a1a1a" text-anchor="middle" font-weight="bold" >GUARDIAS</text><text x="43.375" y="32.676" font-size="5.2" fill="#1a1a1a" text-anchor="middle" font-weight="bold" >Y</text><text x="43.375" y="39.696" font-size="5.2" fill="#1a1a1a" text-anchor="middle" font-weight="bold" >ESCUDOS</text></g>
<g transform="translate(856.8,916.6) skewY(0.6)"><rect x="0" y="0" width="49.7" height="13.825" rx="0" fill="#e8e8e8" stroke="#222" stroke-width="0.7" /><rect x="2" y="2.2" width="21.65" height="9.225" rx="0" fill="#b0101f" stroke="none" stroke-width="0" /><rect x="26.05" y="2.2" width="21.65" height="9.225" rx="0" fill="#b0101f" stroke="none" stroke-width="0" /><text x="12.825" y="9.225" font-size="5.6" fill="#f0dada" text-anchor="middle" font-weight="bold" textLength="17.85" lengthAdjust="spacingAndGlyphs" >DANGER</text><text x="36.875" y="9.225" font-size="5.6" fill="#f0dada" text-anchor="middle" font-weight="bold" textLength="17.85" lengthAdjust="spacingAndGlyphs" >PELIGRO</text><rect x="0" y="12.825" width="49.7" height="34.675" rx="0" fill="#151515" stroke="#111" stroke-width="0.7" /><rect x="2" y="14.625" width="21.85" height="30.675" rx="1.5" fill="#cfcfcf" stroke="none" stroke-width="0" /><rect x="25.85" y="14.625" width="21.85" height="30.675" rx="1.5" fill="#cfcfcf" stroke="none" stroke-width="0" /><text x="12.925" y="22.6185" font-size="3.2" fill="#1a1a1a" text-anchor="middle" font-weight="bold" >KEEP</text><text x="12.925" y="26.9385" font-size="3.2" fill="#1a1a1a" text-anchor="middle" font-weight="bold" >HANDS</text><text x="12.925" y="31.2585" font-size="3.2" fill="#1a1a1a" text-anchor="middle" font-weight="bold" >AWAY</text><text x="12.925" y="35.5785" font-size="3.2" fill="#1a1a1a" text-anchor="middle" font-weight="bold" >FROM</text><text x="12.925" y="39.8985" font-size="3.2" fill="#1a1a1a" text-anchor="middle" font-weight="bold" >MACHINERY</text><text x="36.775" y="22.6185" font-size="3.2" fill="#1a1a1a" text-anchor="middle" font-weight="bold" >MANTENGA</text><text x="36.775" y="26.9385" font-size="3.2" fill="#1a1a1a" text-anchor="middle" font-weight="bold" >LAS MANOS</text><text x="36.775" y="31.2585" font-size="3.2" fill="#1a1a1a" text-anchor="middle" font-weight="bold" >ALEJADO</text><text x="36.775" y="35.5785" font-size="3.2" fill="#1a1a1a" text-anchor="middle" font-weight="bold" >DE</text><text x="36.775" y="39.8985" font-size="3.2" fill="#1a1a1a" text-anchor="middle" font-weight="bold" >MAQUINARIA</text></g>
<g transform="translate(3013.3,731.5) skewY(-1.2)"><rect x="0" y="0" width="59" height="13.555" rx="0" fill="#e8e8e8" stroke="#222" stroke-width="0.7" /><rect x="2" y="2.2" width="26.3" height="8.955" rx="0" fill="#b0101f" stroke="none" stroke-width="0" /><rect x="30.7" y="2.2" width="26.3" height="8.955" rx="0" fill="#b0101f" stroke="none" stroke-width="0" /><text x="15.15" y="8.955" font-size="5.6" fill="#f0dada" text-anchor="middle" font-weight="bold" textLength="22.5" lengthAdjust="spacingAndGlyphs" >DANGER</text><text x="43.85" y="8.955" font-size="5.6" fill="#f0dada" text-anchor="middle" font-weight="bold" textLength="22.5" lengthAdjust="spacingAndGlyphs" >PELIGRO</text><rect x="0" y="12.555" width="59" height="33.945" rx="0" fill="#151515" stroke="#111" stroke-width="0.7" /><rect x="2" y="14.355" width="26.5" height="29.945" rx="1.5" fill="#cfcfcf" stroke="none" stroke-width="0" /><rect x="30.5" y="14.355" width="26.5" height="29.945" rx="1.5" fill="#cfcfcf" stroke="none" stroke-width="0" /><text x="15.25" y="22.8475" font-size="4" fill="#1a1a1a" text-anchor="middle" font-weight="bold" >ROTATING</text><text x="15.25" y="28.2475" font-size="4" fill="#1a1a1a" text-anchor="middle" font-weight="bold" >BEATERS</text><text x="15.25" y="33.6475" font-size="4" fill="#1a1a1a" text-anchor="middle" font-weight="bold" >STAND</text><text x="15.25" y="39.0475" font-size="4" fill="#1a1a1a" text-anchor="middle" font-weight="bold" >CLEAR</text><text x="43.75" y="22.8475" font-size="4" fill="#1a1a1a" text-anchor="middle" font-weight="bold" >BATIDORES</text><text x="43.75" y="28.2475" font-size="4" fill="#1a1a1a" text-anchor="middle" font-weight="bold" >EN ROTACION,</text><text x="43.75" y="33.6475" font-size="4" fill="#1a1a1a" text-anchor="middle" font-weight="bold" >MANTENERSE</text><text x="43.75" y="39.0475" font-size="4" fill="#1a1a1a" text-anchor="middle" font-weight="bold" >ALJADO</text></g>
<g transform="translate(3011,997.5) skewY(-1)"><rect x="0" y="0" width="58.7" height="46.5" rx="0" fill="#151515" stroke="#111" stroke-width="0.7" /><rect x="2" y="1.8" width="26.35" height="42.5" rx="1.5" fill="#cfcfcf" stroke="none" stroke-width="0" /><rect x="30.35" y="1.8" width="26.35" height="42.5" rx="1.5" fill="#cfcfcf" stroke="none" stroke-width="0" /><text x="15.175" y="11.116" font-size="5.2" fill="#1a1a1a" text-anchor="middle" font-weight="bold" >DO NOT</text><text x="15.175" y="18.136" font-size="5.2" fill="#1a1a1a" text-anchor="middle" font-weight="bold" >REMOVE</text><text x="15.175" y="25.156" font-size="5.2" fill="#1a1a1a" text-anchor="middle" font-weight="bold" >GUARDS</text><text x="15.175" y="32.176" font-size="5.2" fill="#1a1a1a" text-anchor="middle" font-weight="bold" >&amp;</text><text x="15.175" y="39.196" font-size="5.2" fill="#1a1a1a" text-anchor="middle" font-weight="bold" >SHIELDS</text><text x="43.525" y="11.116" font-size="5.2" fill="#1a1a1a" text-anchor="middle" font-weight="bold" >NO</text><text x="43.525" y="18.136" font-size="5.2" fill="#1a1a1a" text-anchor="middle" font-weight="bold" >ELIMINAR</text><text x="43.525" y="25.156" font-size="5.2" fill="#1a1a1a" text-anchor="middle" font-weight="bold" >GUARDIAS</text><text x="43.525" y="32.176" font-size="5.2" fill="#1a1a1a" text-anchor="middle" font-weight="bold" >Y</text><text x="43.525" y="39.196" font-size="5.2" fill="#1a1a1a" text-anchor="middle" font-weight="bold" >ESCUDOS</text></g>
<g transform="translate(1390.6,1154.6) skewY(-1.6)"><rect x="0" y="0" width="66.8" height="56" rx="3" fill="#151515" stroke="#111" stroke-width="0.8" /><rect x="1.6" y="2.2" width="30.9" height="36.68" rx="2" fill="#cfcfcf" stroke="none" stroke-width="0" /><rect x="34.1" y="2.2" width="30.9" height="36.68" rx="2" fill="#cfcfcf" stroke="none" stroke-width="0" /><polygon points="17.05,5 29.55,23 23.55,23 23.55,35 10.55,35 10.55,23 4.55,23" fill="#111" stroke="none" stroke-width="0" stroke-linejoin="round" /><text x="49.55" y="18.5" font-size="12.5" fill="#111" text-anchor="middle" font-weight="bold" textLength="27.9" lengthAdjust="spacingAndGlyphs" >PINCH</text><text x="49.55" y="33.5" font-size="12.5" fill="#111" text-anchor="middle" font-weight="bold" textLength="27.9" lengthAdjust="spacingAndGlyphs" >POINT</text><rect x="1.5" y="41.18" width="63.8" height="12.82" rx="3" fill="#b0101f" stroke="none" stroke-width="0" /><text x="33.4" y="51.8" font-size="13" fill="#e8f4f4" text-anchor="middle" font-weight="bold" textLength="44.088" lengthAdjust="spacingAndGlyphs" >DANGER</text></g>
<g transform="translate(1459.6,1152.2) skewY(-1.6)"><rect x="0" y="0" width="67" height="56" rx="3" fill="#151515" stroke="#111" stroke-width="0.8" /><rect x="1.6" y="2.2" width="31" height="36.68" rx="2" fill="#cfcfcf" stroke="none" stroke-width="0" /><rect x="34.2" y="2.2" width="31" height="36.68" rx="2" fill="#cfcfcf" stroke="none" stroke-width="0" /><polygon points="17.1,5 29.6,23 23.6,23 23.6,35 10.6,35 10.6,23 4.6,23" fill="#111" stroke="none" stroke-width="0" stroke-linejoin="round" /><text x="49.7" y="16" font-size="7" fill="#222" text-anchor="middle" font-weight="bold" textLength="27" lengthAdjust="spacingAndGlyphs" >PUNTO DE</text><text x="49.7" y="30.5" font-size="7" fill="#222" text-anchor="middle" font-weight="bold" textLength="26" lengthAdjust="spacingAndGlyphs" >PELLIZCO</text><rect x="1.5" y="41.18" width="64" height="12.82" rx="3" fill="#b0101f" stroke="none" stroke-width="0" /><text x="33.5" y="51.8" font-size="13" fill="#e8f4f4" text-anchor="middle" font-weight="bold" textLength="44.22" lengthAdjust="spacingAndGlyphs" >PELIGRO</text></g>
<g transform="translate(2402.8,1124.4) skewY(-1.6)"><rect x="0" y="0" width="66.8" height="56" rx="3" fill="#151515" stroke="#111" stroke-width="0.8" /><rect x="1.6" y="2.2" width="30.9" height="36.68" rx="2" fill="#cfcfcf" stroke="none" stroke-width="0" /><rect x="34.1" y="2.2" width="30.9" height="36.68" rx="2" fill="#cfcfcf" stroke="none" stroke-width="0" /><polygon points="17.05,5 29.55,23 23.55,23 23.55,35 10.55,35 10.55,23 4.55,23" fill="#111" stroke="none" stroke-width="0" stroke-linejoin="round" /><text x="49.55" y="18.5" font-size="12.5" fill="#111" text-anchor="middle" font-weight="bold" textLength="27.9" lengthAdjust="spacingAndGlyphs" >PINCH</text><text x="49.55" y="33.5" font-size="12.5" fill="#111" text-anchor="middle" font-weight="bold" textLength="27.9" lengthAdjust="spacingAndGlyphs" >POINT</text><rect x="1.5" y="41.18" width="63.8" height="12.82" rx="3" fill="#b0101f" stroke="none" stroke-width="0" /><text x="33.4" y="51.8" font-size="13" fill="#e8f4f4" text-anchor="middle" font-weight="bold" textLength="44.088" lengthAdjust="spacingAndGlyphs" >DANGER</text></g>
<g transform="translate(2472,1122.2) skewY(-1.6)"><rect x="0" y="0" width="67" height="56" rx="3" fill="#151515" stroke="#111" stroke-width="0.8" /><rect x="1.6" y="2.2" width="31" height="36.68" rx="2" fill="#cfcfcf" stroke="none" stroke-width="0" /><rect x="34.2" y="2.2" width="31" height="36.68" rx="2" fill="#cfcfcf" stroke="none" stroke-width="0" /><polygon points="17.1,5 29.6,23 23.6,23 23.6,35 10.6,35 10.6,23 4.6,23" fill="#111" stroke="none" stroke-width="0" stroke-linejoin="round" /><text x="49.7" y="16" font-size="7" fill="#222" text-anchor="middle" font-weight="bold" textLength="27" lengthAdjust="spacingAndGlyphs" >PUNTO DE</text><text x="49.7" y="30.5" font-size="7" fill="#222" text-anchor="middle" font-weight="bold" textLength="26" lengthAdjust="spacingAndGlyphs" >PELLIZCO</text><rect x="1.5" y="41.18" width="64" height="12.82" rx="3" fill="#b0101f" stroke="none" stroke-width="0" /><text x="33.5" y="51.8" font-size="13" fill="#e8f4f4" text-anchor="middle" font-weight="bold" textLength="44.22" lengthAdjust="spacingAndGlyphs" >PELIGRO</text></g>
<g transform="translate(552.7,767.6) skewY(-0.6)"><rect x="0" y="0" width="74" height="18" rx="2" fill="#e2e2e2" stroke="#8a0f18" stroke-width="0.9" /><rect x="1.3" y="1.3" width="38.5" height="15.4" rx="1.5" fill="#dedede" stroke="#a81420" stroke-width="0.7" /><rect x="41.5" y="1.3" width="31.2" height="15.4" rx="1.5" fill="#dedede" stroke="#a81420" stroke-width="0.7" /><text x="22" y="7.8" font-size="4.3" fill="#b0101f" text-anchor="middle" font-weight="bold" >CAUTION</text><text x="22" y="13.6" font-size="4.3" fill="#b0101f" text-anchor="middle" font-weight="bold" >HOT</text><text x="57" y="7.8" font-size="3.3" fill="#b0101f" text-anchor="middle" font-weight="bold" >PRECAUCIÓN</text><text x="57" y="13.4" font-size="3.3" fill="#b0101f" text-anchor="middle" font-weight="bold" >CALIENTE</text></g>
<rect x="601" y="888.6" width="16" height="19.5" rx="2" fill="#222" stroke="#111" stroke-width="0.8" /><rect x="602.6" y="890.2" width="12.8" height="16.3" rx="1.5" fill="#e6e6e6" stroke="none" stroke-width="0" /><text x="609" y="904.5" font-size="1.8" fill="#111" text-anchor="middle" font-weight="bold" >WARRANTY</text>
<g transform="translate(597.8,914.6) skewY(-0.6)"><rect x="0" y="0" width="63" height="22.5" rx="1.5" fill="#181818" stroke="#111" stroke-width="0.8" /><rect x="2" y="2.2" width="40" height="18" rx="0" fill="#ececec" stroke="none" stroke-width="0" /><rect x="44.5" y="2.2" width="16" height="18" rx="0" fill="#ececec" stroke="none" stroke-width="0" /><rect x="3.5" y="5" width="30" height="1.3" rx="0" fill="#666" stroke="none" stroke-width="0" /><rect x="3.5" y="9.5" width="24" height="1.3" rx="0" fill="#666" stroke="none" stroke-width="0" /><rect x="3.5" y="14" width="33" height="1.3" rx="0" fill="#666" stroke="none" stroke-width="0" /><rect x="46" y="3.8" width="2.6" height="2.9" rx="0" fill="#222" stroke="none" stroke-width="0" /><rect x="49.4" y="3.8" width="2.6" height="2.9" rx="0" fill="#222" stroke="none" stroke-width="0" /><rect x="56.2" y="3.8" width="2.6" height="2.9" rx="0" fill="#222" stroke="none" stroke-width="0" /><rect x="46" y="7.7" width="2.6" height="2.9" rx="0" fill="#222" stroke="none" stroke-width="0" /><rect x="49.4" y="7.7" width="2.6" height="2.9" rx="0" fill="#222" stroke="none" stroke-width="0" /><rect x="56.2" y="7.7" width="2.6" height="2.9" rx="0" fill="#222" stroke="none" stroke-width="0" /><rect x="46" y="11.6" width="2.6" height="2.9" rx="0" fill="#222" stroke="none" stroke-width="0" /><rect x="49.4" y="11.6" width="2.6" height="2.9" rx="0" fill="#222" stroke="none" stroke-width="0" /><rect x="56.2" y="11.6" width="2.6" height="2.9" rx="0" fill="#222" stroke="none" stroke-width="0" /><rect x="46" y="15.5" width="2.6" height="2.9" rx="0" fill="#222" stroke="none" stroke-width="0" /><rect x="49.4" y="15.5" width="2.6" height="2.9" rx="0" fill="#222" stroke="none" stroke-width="0" /><rect x="56.2" y="15.5" width="2.6" height="2.9" rx="0" fill="#222" stroke="none" stroke-width="0" /></g>
<g transform="translate(2187,719) skewY(0)"><rect x="0" y="0" width="23.6" height="62" rx="0" fill="#d0d0d0" stroke="#222" stroke-width="0.8" /><rect x="1.2" y="1.2" width="21.2" height="5" rx="0" fill="#bbb" stroke="#222" stroke-width="0.5" /><text x="11.8" y="5.3" font-size="3.4" fill="#333" text-anchor="middle" font-weight="bold" >DANGER</text><rect x="1.2" y="28.5" width="21.2" height="5" rx="0" fill="#bbb" stroke="#222" stroke-width="0.5" /><text x="11.8" y="32.6" font-size="3.4" fill="#333" text-anchor="middle" font-weight="bold" >PELIGRO</text><text x="11.8" y="11" font-size="2.7" fill="#222" text-anchor="middle" font-weight="bold" >KEEP</text><text x="11.8" y="14.6" font-size="2.7" fill="#222" text-anchor="middle" font-weight="bold" >HANDS</text><text x="11.8" y="18.2" font-size="2.7" fill="#222" text-anchor="middle" font-weight="bold" >AWAY</text><text x="11.8" y="21.8" font-size="2.7" fill="#222" text-anchor="middle" font-weight="bold" >FROM</text><text x="11.8" y="25.4" font-size="2.7" fill="#222" text-anchor="middle" font-weight="bold" >MACHINERY</text><text x="11.8" y="38.5" font-size="2.6" fill="#222" text-anchor="middle" font-weight="bold" >MANTENGA</text><text x="11.8" y="42.2" font-size="2.6" fill="#222" text-anchor="middle" font-weight="bold" >SUS</text><text x="11.8" y="45.9" font-size="2.6" fill="#222" text-anchor="middle" font-weight="bold" >MANOS</text><text x="11.8" y="49.6" font-size="2.6" fill="#222" text-anchor="middle" font-weight="bold" >ALEJADO</text><text x="11.8" y="53.3" font-size="2.6" fill="#222" text-anchor="middle" font-weight="bold" >DE</text><text x="11.8" y="57" font-size="2.6" fill="#222" text-anchor="middle" font-weight="bold" >MAQUINARIA</text></g>
<g transform="translate(2178,1034.2) skewY(-1.2)"><rect x="0" y="0" width="43" height="20" rx="0" fill="#ececec" stroke="#500" stroke-width="0.8" /><text x="21.5" y="8.2" font-size="7.2" fill="#b0101f" text-anchor="middle" font-weight="bold" textLength="33" lengthAdjust="spacingAndGlyphs" >WARNING</text><text x="21.5" y="13" font-size="3" fill="#222" text-anchor="middle" font-weight="bold" >KEEP AWAY FROM</text><text x="21.5" y="17.2" font-size="3" fill="#222" text-anchor="middle" font-weight="bold" >MOVING PARTS</text></g></g>
<line x1="797.3" y1="243.7" x2="1024.3" y2="700.4" stroke="#ff0000" stroke-width="4" stroke-linecap="round"/>
<circle cx="1024.3" cy="700.4" r="8.5" fill="#ff0000" stroke="none" stroke-width="0" />
<line x1="572.8" y1="444.5" x2="1016.6" y2="841.5" stroke="#ff0000" stroke-width="4" stroke-linecap="round"/>
<circle cx="1016.6" cy="841.5" r="8.5" fill="#ff0000" stroke="none" stroke-width="0" />
<line x1="370.7" y1="797.3" x2="562.5" y2="776.1" stroke="#ff0000" stroke-width="1.8" stroke-linecap="round"/>
<circle cx="562.5" cy="776.1" r="7" fill="#ff0000" stroke="none" stroke-width="0" />
<line x1="338" y1="889.9" x2="606.1" y2="896.3" stroke="#ff0000" stroke-width="1.8" stroke-linecap="round"/>
<circle cx="606.1" cy="896.3" r="6" fill="#ff0000" stroke="none" stroke-width="0" />
<line x1="382.9" y1="1000.9" x2="619" y2="927.1" stroke="#ff0000" stroke-width="1.8" stroke-linecap="round"/>
<circle cx="619" cy="927.1" r="6.5" fill="#ff0000" stroke="none" stroke-width="0" />
<line x1="511.2" y1="1422.9" x2="553.5" y2="984.8" stroke="#ff0000" stroke-width="3" />
<polygon points="556.7,951.5 546.5,992.5 564.4,991.3" fill="#ff0000" stroke="none" stroke-width="0" stroke-linejoin="round" />
<line x1="733.1" y1="1422.9" x2="889.6" y2="939.9" stroke="#ff0000" stroke-width="3" stroke-linecap="round"/>
<circle cx="889.6" cy="939.9" r="7" fill="#ff0000" stroke="none" stroke-width="0" />
<line x1="1188.9" y1="1409.4" x2="1196.4" y2="757.3" stroke="#ff0000" stroke-width="1.8" stroke-linecap="round"/>
<circle cx="1196.4" cy="757.3" r="7" fill="#ff0000" stroke="none" stroke-width="0" />
<line x1="1323.6" y1="1473.5" x2="1223.3" y2="824.7" stroke="#ff0000" stroke-width="1.8" stroke-linecap="round"/>
<circle cx="1223.3" cy="824.7" r="7" fill="#ff0000" stroke="none" stroke-width="0" />
<line x1="1764.4" y1="1518.4" x2="1515.6" y2="1181.7" stroke="#ff0000" stroke-width="1.8" stroke-linecap="round"/>
<circle cx="1515.6" cy="1181.7" r="7" fill="#ff0000" stroke="none" stroke-width="0" />
<line x1="2248.7" y1="1524.8" x2="2509.8" y2="1159.2" stroke="#ff0000" stroke-width="1.8" stroke-linecap="round"/>
<circle cx="2509.8" cy="1159.2" r="7" fill="#ff0000" stroke="none" stroke-width="0" />
<line x1="1867.1" y1="1669.1" x2="1436" y2="1178.5" stroke="#ff0000" stroke-width="1.8" stroke-linecap="round"/>
<circle cx="1436" cy="1178.5" r="7" fill="#ff0000" stroke="none" stroke-width="0" />
<line x1="2184.5" y1="1669.1" x2="2420" y2="1162.4" stroke="#ff0000" stroke-width="1.8" stroke-linecap="round"/>
<circle cx="2420" cy="1162.4" r="7" fill="#ff0000" stroke="none" stroke-width="0" />
<line x1="1820" y1="388" x2="2202.9" y2="1042.9" stroke="#ff0000" stroke-width="4" stroke-linecap="round"/>
<circle cx="2202.9" cy="1042.9" r="8" fill="#ff0000" stroke="none" stroke-width="0" />
<line x1="2183.7" y1="366.9" x2="2201.6" y2="742.7" stroke="#ff0000" stroke-width="4" stroke-linecap="round"/>
<circle cx="2201.6" cy="742.7" r="8" fill="#ff0000" stroke="none" stroke-width="0" />
<line x1="2924.8" y1="1293.9" x2="3056.3" y2="756.7" stroke="#ff0000" stroke-width="4" stroke-linecap="round"/>
<circle cx="3056.3" cy="756.7" r="8" fill="#ff0000" stroke="none" stroke-width="0" />
<line x1="3065.9" y1="1287.5" x2="3053.1" y2="1021.3" stroke="#ff0000" stroke-width="1.8" stroke-linecap="round"/>
<circle cx="3053.1" cy="1021.3" r="7" fill="#ff0000" stroke="none" stroke-width="0" />
<g font-size="54" fill="#ff0000" stroke="#ffffff" stroke-width="1.6" style="paint-order:fill stroke">
<text x="422.8" y="263.7" textLength="368.6" lengthAdjust="spacingAndGlyphs">LOGO MEDIUM</text>
<text x="93" y="415.2" textLength="439.6" lengthAdjust="spacingAndGlyphs">KEEP AWAY FROM</text>
<text x="68.6" y="464.6" textLength="499.2" lengthAdjust="spacingAndGlyphs">THE CONVEYOR BELT</text>
<text x="28.9" y="818.5" textLength="338.2" lengthAdjust="spacingAndGlyphs">CAUTION HOT</text>
<text x="60.9" y="910.7" textLength="272.8" lengthAdjust="spacingAndGlyphs">WARRANTY</text>
<text x="19.2" y="1020.3" textLength="359.4" lengthAdjust="spacingAndGlyphs">READ MANUAL</text>
<text x="515.5" y="1446.1" textLength="211.8" lengthAdjust="spacingAndGlyphs">DANGER</text>
<text x="564.8" y="1495.5" textLength="114.4" lengthAdjust="spacingAndGlyphs">KEEP</text>
<text x="536.6" y="1544.3" textLength="170.2" lengthAdjust="spacingAndGlyphs">HANDS</text>
<text x="545.6" y="1593.7" textLength="152.8" lengthAdjust="spacingAndGlyphs">AWAY</text>
<text x="548.8" y="1643" textLength="146.4" lengthAdjust="spacingAndGlyphs">FROM</text>
<text x="475.1" y="1692.4" textLength="292.6" lengthAdjust="spacingAndGlyphs">MACHINERY</text>
<text x="937.5" y="1428.2" textLength="247.1" lengthAdjust="spacingAndGlyphs">ROTATING</text>
<text x="961.2" y="1478.2" textLength="199.1" lengthAdjust="spacingAndGlyphs">BEATERS</text>
<text x="979.2" y="1527.6" textLength="161.8" lengthAdjust="spacingAndGlyphs">STAND</text>
<text x="980.5" y="1576.3" textLength="159.2" lengthAdjust="spacingAndGlyphs">CLEAR</text>
<text x="1329.6" y="1495.5" textLength="199" lengthAdjust="spacingAndGlyphs">DO NOT</text>
<text x="1323.2" y="1544.3" textLength="212.4" lengthAdjust="spacingAndGlyphs">REMOVE</text>
<text x="1336.6" y="1593.7" textLength="184.3" lengthAdjust="spacingAndGlyphs">GUARD</text>
<text x="1410.4" y="1643" textLength="38" lengthAdjust="spacingAndGlyphs">&amp;</text>
<text x="1347.5" y="1692.4" textLength="160.6" lengthAdjust="spacingAndGlyphs">SHIELD</text>
<text x="1765.7" y="1543.6" textLength="478" lengthAdjust="spacingAndGlyphs">PUNTO DE PELLIZCO</text>
<text x="1868.3" y="1691.8" textLength="311.3" lengthAdjust="spacingAndGlyphs">PINCH POINT</text>
<text x="1505.8" y="312" textLength="245.6" lengthAdjust="spacingAndGlyphs">WARNING</text>
<text x="1402.8" y="361.5" textLength="437.6" lengthAdjust="spacingAndGlyphs">KEEP AWAY FROM</text>
<text x="1439.8" y="410.8" textLength="375.6" lengthAdjust="spacingAndGlyphs">MOVING PARTS</text>
<text x="1973.9" y="91.3" textLength="111.8" lengthAdjust="spacingAndGlyphs">B&amp;W</text>
<text x="1925.2" y="141.3" textLength="211.8" lengthAdjust="spacingAndGlyphs">DANGER</text>
<text x="1975.2" y="190.7" textLength="112.5" lengthAdjust="spacingAndGlyphs">KEEP</text>
<text x="1946.4" y="240.1" textLength="170.1" lengthAdjust="spacingAndGlyphs">HANDS</text>
<text x="1954.7" y="288.8" textLength="152.2" lengthAdjust="spacingAndGlyphs">AWAY</text>
<text x="1952.8" y="338.2" textLength="144.5" lengthAdjust="spacingAndGlyphs">FROM</text>
<text x="1885.4" y="388.3" textLength="290.8" lengthAdjust="spacingAndGlyphs">MACHINERY</text>
<text x="2671.4" y="1315.9" textLength="247.2" lengthAdjust="spacingAndGlyphs">ROTATING</text>
<text x="2695.8" y="1366" textLength="198.4" lengthAdjust="spacingAndGlyphs">BEATERS</text>
<text x="2713.1" y="1415.4" textLength="161.8" lengthAdjust="spacingAndGlyphs">STAND</text>
<text x="2715.1" y="1464.1" textLength="158.6" lengthAdjust="spacingAndGlyphs">CLEAR</text>
<text x="3070.4" y="1309.5" textLength="199.6" lengthAdjust="spacingAndGlyphs">DO NOT</text>
<text x="3064" y="1358.3" textLength="213.7" lengthAdjust="spacingAndGlyphs">REMOVE</text>
<text x="3078.7" y="1407.7" textLength="183" lengthAdjust="spacingAndGlyphs">GUARD</text>
<text x="3152.5" y="1455.8" textLength="36.7" lengthAdjust="spacingAndGlyphs">&amp;</text>
<text x="3088.3" y="1505.8" textLength="161.9" lengthAdjust="spacingAndGlyphs">SHIELD</text>
</g>
</svg>
</body></html>
